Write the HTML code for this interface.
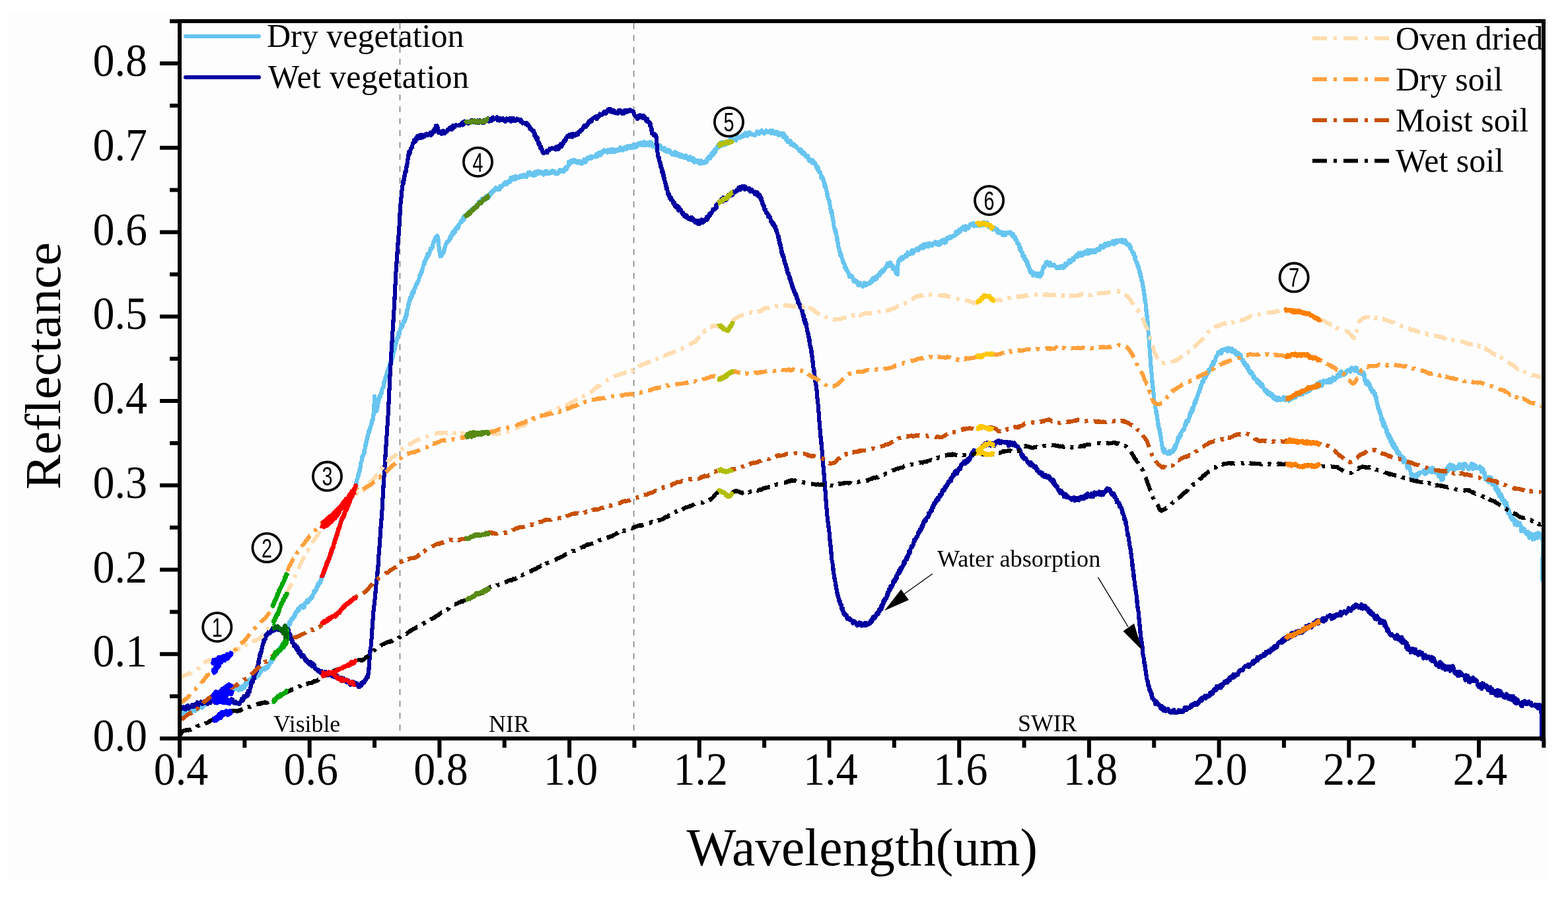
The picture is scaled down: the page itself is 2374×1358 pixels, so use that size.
<!DOCTYPE html>
<html><head><meta charset="utf-8"><title>Reflectance spectra</title>
<style>
html,body{margin:0;padding:0;background:#fff;}
body{width:2374px;height:1358px;overflow:hidden;}
svg{display:block;}
text{font-family:"Liberation Serif","Times New Roman",serif;fill:#000;}
.tick{font-size:70.5px;}
.title{font-size:79.4px;}
.leg{font-size:50px;}
.region{font-size:35.8px;}
.cn{font-family:"Liberation Sans","DejaVu Sans",sans-serif;font-size:40px;}
</style></head><body>
<svg width="2374" height="1358" viewBox="0 0 2374 1358">
<rect x="0" y="0" width="2374" height="1358" fill="#ffffff"/>
<rect x="12" y="21" width="2332" height="1311" fill="#fdfdfd"/>
<g stroke="#808080" stroke-width="1.6" stroke-dasharray="9 9">
<line x1="605.5" y1="35" x2="605.5" y2="1115"/><line x1="959.6" y1="35" x2="959.6" y2="1115"/>
</g>
<g shape-rendering="crispEdges">
<path fill="none" stroke="#68C5F0" stroke-width="6" stroke-linejoin="round" d="M273.0 1082.0l1-2.6 1 1.4 .9 3.3 1-5.1 1-.7 1-.1 1-.6 .9 1.8 1 1.4 1-.6 1-3.6 1 .1 .9 .7 1 .4 1-1.7 1 2.6 1-6.1 .9 3.9 1-.8 1-1.3 1-.8 1-2.2 1 5.1 .9-1.5 1-4.9 1 .4 1 3.8 .9-3.7 1 1.6 1-3.5 .9 .8 .9 1.4 .9 0 .9 .7 1-1.6 .9-.6 1-1.7 .9-1.9 .9 1.4 1-5.9 .9 4.1 .8-2.1 .9-.9 .8-2.1 .8-.4 .8 3.3 .7-3.3 .6 .9 .6-3.8 .9 .2 .7-.1 .6 1.9 .6-1.2 .7-3.6 .9-1 .7 1.4 .8-1.1 .8-2.8 .8 1.3 .9 .1 1-1 .9-1.2 1 1 1-.3 1.1 1.4 1-4.3 1 4.2 1-3.2 .9 3.6 1-1.8 1-3.1 1 0 1 1.4 1-2.2 1 2 1 .7 1.1-2.6 1 2.1 1-2.2 1-3.1 1.1 1.8 1 .1 .9-1.5 1-.9 1.1 1.2 1 1.4 1.1-3.4 1-1.3 1.1-.7 1 .2 1 3 1.1-.2 1-1.4 1 3.2 1-5.5 .9 4.9 1-1.1 .9-.3 .9 .9 .8-5 .9 1.8 .8-2.4 .9-.8 .8 3.5 .8-5.8 .8-1.5 .8 2.6 .9-1.3 .8-2.4 .8 2.4 .8-1.7 .8-4.1 .8 1.2 .8 1.9 .8-3 .8-.2 .8-2.3 .7 .8 .8-4 .8 1 .8 .5 .8 1.4 .7-3.6 .8-.6 .8 1.6 .8 1.7 .8-2.6 .8 1 .8-5.4 .8 2.6 .7 1.6 .8-6.5 .8 4 .8-4.8 .8 2.1 .8-2 .8-.8 .8-2.7 .7 1.4 .8-1.7 .8 1.6 .8-2.2 .8 2.4 .8-.3 .8-1.6 .9-3 .8 2.5 .8-.3 .9-.6 .8-4.3 .8-1.9 .7 1.5 .7-3.9 .6 1.1 .6 .2 .6-4.7 .4 4.2 .6-4.8 .4 2.4 .4-.8 .6-3.1 .4 2 .5-4.4 .5-1.3 .6 1.4 .7-3.3 .6-.3 .7 1.3 .8-3 .7 1.4 .7 1 .8-6.5 .8 2.7 .7 .8 .7-3.3 .7-3.8 .7 2.4 .7 1.3 .7-5.4 .7-1.6 .7 .4 .8 3.5 .7-3.5 .8 3 .7-2.9 .7 .1 .7-4.6 .7-.5 .6 .7 .5 1.9 .6-4.5 .4-2.5 .4 2.3 .3-3.7 .2 2.4 .1-4.5 .1 3.7 0-5.5 0-1.6 0 1.6-.1-.9-.1 1.1-.1-5.2-.1 1.4-.1-1.4 0-2-.1-2.5 0 .1 .1-2.2 0 1.1 .2-2.1 .2-1.7 .3 3.4 .3-4.1 .3 3.3 .4-4 .4 .3 .4-3.7 .4-.8 .5-1.7 .5 2.9 .5 .4 .5-1.4 .5-1.3 .6-4.7 .5 1.8 .6-1.8 .6-.1 .5-2.3 .6 .6 .6 .3 .6-1.1 .6-1.8 .6-3.7 .6 3.9 .7-4.8 .6 .8 .7-4.1 .7 2 .7-2.3 .7-1 .7-3 .7 .9 .7 2.5 .7-1.9 .7-2.6 .7-1.8 .7 .1 .7-.6 .6-.7 .7-.1 .7-.1 .8 3.7 .7-4.9 .8 4 .7-2.2 .8-4.5 .7 1 .8-.7 .7-2 .7-2.2 .8-.3 .7 3.3 .7-.9 .6-3.2 .7-1.2 .6 2.3 .7-2.7 .6 .5 .7-3.3 .6 2.3 .6-2.7 .6 1.7 .5-3.3 .6-.6 .6-1.7 .5-3.1 .6-1.4 .5 2.4 .6-3 .5 2.4 .6-3.7 .5 .3 .6 .4 .5-4.3 .5-1.5 .6-.2 .5 .6 .5-4.4 .5 3.7 .5-1.1 .5-1.8 .5-2.6 .4-1.3 .4-.4 .5 1 .4 .7 .3-.7 .4-1.4 .3-3.4 .3-1.6 .4 .1 .3 2.1 .4-6.1 .5-.3 .2 2.9 .3-3.5 .3-1.5 .3-.2 .2 4 .3-3.5 .3-3.7 .4 1.9 .3-2.1 .3-1.4 .4 4 .3-6 .4 1.2 .3-3.3 .4-.7 .3 2.3 .4-6 .4-.7 .4 .3 .3-3.3 .4 2.8 .4-1.8 .4-1.9 .4 3.2 .4-6 .4-.2 .4-2.3 .3 1.3 .4 1.3 .4-3.4 .4-3.2 .4 2.9 .4-1.1 .3-.2 .4-.4 .4-1 .3-3.2 .4-1.2 .3-1.6 .4-.2 .3-3.5 .3 2.3 .4 .1 .3-1.7 .3-1.9 .3-1.4 .3-.1 .4-.9 .3-.6 .3-2 .3-6 .3 .3 .4 2 .3-.6 .3-1.3 .3-1.9 .3-2.6 .3 1.9 .3-3.7 .3-1.6 .4 .9 .3 1 .3-2.8 .3-3.6 .3-1.2 .3 4.7 .3-3.9 .3-.9 .3 .4 .3-3.1 .3-1.2 .3-1.4 .3 1.1 .3 .1 .3-.2 .3-.9 .3-2.3 .3-1.7 .2 1.1 .3-3.8 .3 1.5 .3-1.2 .3-4.6 .4 2.6 .4-.7 .4-3.6 .4 .8 .4-2.7 .4 2.1 .4-4.8 .4 2.1 .3-1.2 .4-3.3 .4 3.7 .4-4 .4-1 .3 0 .4 .1 .4-4.4 .4 2.3 .4-2.7 .3-2.1 .4 .6 .4-1.6 .4 1.4 .3-2.8 .4-1.7 .4 1.7 .4-3.6 .3-1.1 .4-.3 .4-1.2 .4-1.7 .3-.5 .4 2.8 .4-5.8 .3 2.7 .4-.8 .4-1.4 .3-1.9 .4-2.9 .4 1.7 .3-1.4 .4 1.2 .3-5.7 .4-.8 .4 4 .4-2.4 .4-1.2 .4 .8 .4-5.6 .4 3.6 .3-2.1 .4 .3 .4-.8 .4 .1 .4-5.5 .3 .3 .4 2.2 .4-2.8 .4 1.3 .3-2.6 .4-4.7 .3 2.1 .2 .5 .2-4.3 .3 3.6 .2-6.2 .3 4.1 .2-6.2 .3-.7 .2 .7 .3-3.2 .2 1 .3-1.8 .2-.2 .2-1 .3 .1 .2-3.9 .3 .9 .2-2.8 .2-.1 .3 1.2 .2 1.5 .2-3.1 .3-2.7 .2 .8 .2-3.7 .3 1.5 .2 1.6 .2-5.2 .2-.7 .3 .1 .2-.6 .2-2.7 .2 2.2 .3-5.6 .2 2.4 .2-3.9 .3-1.6 .2-.4 .3 0 .2 .7 .3-5.8 .2 3.1 .3-3.1 .2-3.1 .3-.4 .2 2.7 .3-.5 .2-2 .3-1.5 .2 1.2 .3-2.2 .2 .1 .2 .7 .3-2 .2-3.3 .3-1.9 .2 3.2 .3-1.1 .2 .3 .3-3 .2-5 .2-2.1 .3 2.7 .2 .8 .3-3.2 .2-3.6 .3 .1 .2-2 .3 .4 .2-1.9 .3 3 .2-4.8 .3-.5 .2 1 .2-.7 .3-1.7 .2-4.3 .3-.8 .2 3.4 .3-.5 .2-6 .3-1.1 .2-1.2 .3 3.3 .2-2.4 .3-.3 .3-2.5 .3 2.5 .3-1.7 .3-1.5 .3-3.7 .3 2.1 .4-1.5 .3-1.7 .3-1.9 .3-2 .3-1.3 .3 2.5 .3-.7 .3-1.4 .3-4.9 .3 1.7 .3-.7 .2-2.5 .3 1.3 .2-2.9 .2-2.7 .2 1 .1-3.4 .1 3.6 .2-1.5 .1-2 .1-1.3 .1-3.2 .1-.3 0-.3 .1-4.6 .1 4 0-1.7 .1-.7 0-3 .1-1.4 0-2.5 0 .3 .1 .5 0-2.3 .1-.1 0-.7 .1-5.2 0 .5 .1 1.5 .1-.7 0 .1 .1-1 .1-5.3 .1 4.5 .1-1.7 .1 3.4 .2-3.5 .1 5.2 .1 .3 .1 4.4 .1 .2 .2 2.3 .1-2.2 .1 4.4 .2-2.9 .1 2.5 .2 2.4 .2 1 .2-3.2 .2 3.7 .2 2.1 .2-4.3 .2 1.5 .3-1.7 .2 1.7 .2 .2 .3-4.4 .3 2.2 .2-5.5 .3 3.2 .3-3.3 .3-5 .3-1.5 .3-.4 .3 3.1 .3-4.9 .2 0 .3-3.1 .3-.5 .3-1.8 .3 1.5 .3 .5 .3-1.9 .3-1.3 .3 2.2 .4-4.4 .3 1.3 .3-1.1 .3-3.1 .3-1.2 .4 3.6 .3-6.2 .3-.9 .3 .2 .4-1.7 .3 .6 .3-1.1 .3 .9 .4-.4 .3-3.7 .3-4.6 .3 .5 .3-1.4 .3 1.8 .3-2.4 .3-1.1 .3-2.8 .3-.3 .3-.5 .3-1.7 .2-.1 .3-2.7 .3-.9 .3 1.3 .3-1.9 .3 0 .3-3 .3 2.1 .3-.4 .3-1.5 .3-2.5 .3-.7 .3-2.4 .3 4.1 .4-1.5 .3-5.2 .3 3.2 .4-4.3 .3-3.1 .3 4.9 .4-5.7 .3-.8 .3-.9 .4 1.6 .3-.2 .3 .8 .3-1.3 .4-5.4 .3 .1 .3-1.9 .3 .4 .3 1.5 .2-3 .3 .2 .2-1.7 .3-3.9 .2 4.2 .3-5.4 .2 2.5 .3-5.4 .2 3 .2-3 .3-3.5 .2 3.2 .3-1.3 .2-.2 .2-5.2 .3 .7 .2-1 .3 .5 .2-2.4 .3 1.3 .2-5.9 .3 2 .2 1 .3-4.8 .3 .1 .3-3.4 .3 1.5 .3 1.7 .3-1.8 .3-3 .4 .6 .3-1.8 .3-2.1 .3-2.2 .3-1.4 .4 2.2 .3-.6 .3 .8 .4-2.4 .3 1.3 .4-5.9 .3-1.6 .4 1.6 .4-2.2 .4 .6 .4-4.8 .4 4.4 .4-3.7 .4-2.2 .5 2 .4 .1 .5-1.8 .4-3.3 .5-2 .4 2.4 .4-1.3 .5-3.5 .4 3.6 .4-5.5 .4 .9 .3 1.7 .4-5.7 .3 2.2 .3-3.2 .3 .1 .2-3.2 .3 3.8 .2-2.3 .2 .8 .2-7 .2 4.8 .2-6.3 .2 .7 .2 .6 .1-1.8 .2 1.1 .2-.2 .2-3.8 .3-4 .2 .3 .2 2.2 .3-1.1 .3-4.2 .3 1.8 .3-1.2 .4-3.4 .3 .2 .3-4.7 .4 3.4 .3-2.3 .4-1.7 .3 2.1 .4-.9 .4-5.1 .4 2.4 .4 .8 .4-5.5 .4-2.1 .4 .2 .3 3.7 .4-5 .4-.4 .3 1.9 .4 .9 .4-4.1 .4-2.7 .4 1.3 .4-1.4 .4-3.3 .4 2.9 .4-1.5 .5-2.5 .4-2.4 .4 1.7 .4-1.6 .4-1.1 .5-1.8 .4 2.4 .4-3.2 .4 .2 .4-1.6 .4-.2 .4-2.2 .4-3.6 .4 1.8 .3-3.5 .4-.7 .3 1.3 .4-3 .3 2.2 .3-3.3 .3 0 .4-2.3 .3 .4 .3 1.5 .3-3.8 .3 .5 .4-1.4 .3-1.9 .3 .6 .3-1.9 .3-3.1 .4 .2 .3-.4 .3-2.1 .3-2.5 .3 .8 .4 .6 .3 .7 .3-3.1 .4-.5 .3-.6 .3-1.8 .4-2.5 .3 2.1 .4 .3 .5-2 .4-2.1 .5-3.9 .5 3.6 .5-.1 .5-4.9 .5 1.6 .5 .4 .5-.4 .5-2.7 .5-3.8 .5 2.6 .5-4.4 .5-1.5 .4 .8 .5-.3 .5 .3 .4-2.2 .5-1.1 .4 1.5 .5-5.4 .4-.4 .5-3.1 .4 2.5 .5-2.7 .4-2 .4 .8 .4 .3 .4-4.8 .4 3.5 .4-4.1 .4-.4 .4 1.7 .4-1 .3-1.2 .4-.9 .2 3 .3-.5 .2-.2 .2-2.8 .2 3.3 .2 2.1 .2-2 .2 3.5 .2-1.5 .1 2.5 .2 1.5 .1 4 .2 2.2 .2-1.6 .1-.3 .2 4.4 .1 3.8 .2-.1 .2-.9 .1-.5 .2 3.4 .2 2.5 .2-1.5 .2 3.7 .2-1.7 .3 1.2 .2 3.6 .2-4 .3 3 .3-1.5 .3 .4 .4 1.5 .3-.2 .3-2.5 .4 .7 .4-4.1 .3 2.3 .4-.6 .4-.5 .4 .6 .4-1.1 .4-.2 .4-4.2 .5-2.3 .4 2 .4-2.3 .5-2.6 .4-1.5 .5-1.5 .4 .4 .5-1.4 .5-1.5 .4-1.5 .5-.1 .5 1.3 .5-1.5 .6 .2 .6-1 .6-.9 .6-3.2 .6-1.7 .6 2.8 .6-4 .6 1.8 .7-4.8 .6 1.1 .6-4.1 .7-.8 .6 4.1 .6-4.7 .7-.9 .6 3 .6-2.7 .6 .8 .6-4.6 .6 1.4 .6-.2 .6-.4 .5-3.8 .6-.4 .6 3.1 .6-5.1 .5 1.4 .6-.8 .6-2.4 .5-.4 .6-1.3 .6 .3 .5-2.9 .6-.9 .6 2.7 .5-1.8 .6-1 .5 .1 .6-4.8 .7 4.4 .7-1.2 .7-5.8 .7 1.2 .7-1.1 .7-.9 .7 1 .7-1.9 .8 2.3 .7-2.6 .7-2.8 .8 0 .7 .9 .7-.9 .7-3.1 .7-.5 .7-.6 .7 1.2 .8-.7 .7 .9 .7-3.3 .8 2.7 .8-2.1 .7-2.3 .8 2 .8-.3 .9-4.3 .8 1.2 .7-2.8 .7 1.6 .7-1.6 .8-4.1 .8 1.9 .7-1.3 .8-.1 .8-1.4 .9-1.8 .8-1.8 .8 2.7 .8-1.5 .8-.7 .8-1.1 .8 1.8 .8 .7 .8-3.7 .8-1 .7-1.7 .8-.1 .7 1.8 .7 1.1 .7 .8 .9-1.6 .8-2.9 .8-2.8 .8 2.2 .7-4.4 .8 .5 .7 1.1 .8-1.7 .7-2.5 .8 .4 .8 1.3 .8-3.3 .9-1.8 .8 2.7 .7-2.6 .8 2.8 .7-.6 .8-1.4 .8 2.2 .8-1.8 .8 1.4 .9-5.3 .8 .4 .8 1.9 .9-3.3 .9 .1 .9 .6 .9-1.3 1-2.7 .9-1.1 1 0 1-.3 .8 3.5 .8-4.2 .9 .6 .8-1 .9 .8 .9-1.8 .9 1.8 .9-6.7 .9 .5 .9 .3 1 2.5 .9-4.3 1 .2 1-.3 .9 3.8 1-5.3 1 4.1 1-2.6 1-.1 1 .6 1-.9 1 1.2 1-2.5 1 1.9 1 .1 1-3.3 1 3.2 1-1.3 1-2.4 .9 .6 1 .6 1 2.4 1-.3 1-2.8 1-3.8 1 3.4 1-4.1 1.1 2.2 1 2.3 1-2.6 1 .7 1 2.2 1 1.1 1.1-1.4 1-4.6 1 5 1-5.1 1-.2 1.1 2.6 1-3.8 1 4 1-.5 1.1-.7 1-1.6 1 2.8 1-.1 1 .3 1.1 1.5 1-3.5 1-.8 1-1.5 1.1-.1 1 4.5 1.1-1.4 1.1 1.2 1.1 .2 1.1-2.8 1.2-.1 1.1 1.4 1.1-3.2 1.1 .7 1.2 1.6 1.1-1.7 1.1 3.8 1.1-.8 1.1 .7 1 .4 1.1-.6 1-3.2 1 1.1 1-3.7 1 2.1 .9 .7 .9-.4 .9 .4 .8-2.3 .8 .8 .7 1.9 .7-3.8 .9 .7 .8-3.7 .7 0 .6 3.5 .6-.2 .5-3.8 .5 .1 .5-.4 .5-1 .5-1.5 .6-5.2 .6 5.3 .7-4.1 .9-1.3 .8-1.3 .8 3.2 .9-3.5 .9 1.1 .9 1.4 1-3.5 1 1.8 1-.9 1.1 .9 1 2.7 1.1 .4 1.1-2.6 1.1-.5 1.2 2.9 1.1-2.5 1.1 1.2 1.1 2.4 1.2-.6 1.1-2.8 1.1-2.9 .9 4.4 .9-2.6 .9 2.3 .9-1.2 .9-2.8 .9-3.1 1 1.8 .9-1.6 .9-.3 1 1.6 1-3.4 .9 .8 1 2.4 .9-1.5 1-1.4 1 .5 .9-.7 1 0 1 1 1-4.4 1 .7 .9 3 1-2.4 1-3.7 .9 1.9 1 1.9 1 .2 .9-2.7 1-2.7 1 1.8 .9-.6 1-3.5 1 2.2 1-.6 1-.8 1 1.2 1 1.7 1.1-.1 1-4.1 1 1.1 1 2.9 1-2.8 1.1-2 1 4.3 1-.2 1-3.5 1 2.6 1 1 1-.9 1-2.6 .9 .7 1 1.3 1-2.4 .9 2.2 .9-1.7 .9-1.8 .9-1.8 .9 3.9 .9-1.8 1.2 0 1.1 2.6 1.1-1.5 1-3 1.1-.6 1 1 1 2.2 1-4 1 2.4 1-3.5 1 .2 1 3.5 1-3.4 1.1-.1 1 0 1.1 3.2 .9-4.9 1 2.6 1 1.6 .9-.7 1 .4 1-4.7 1 3.6 1.1-1.2 1-3.6 1 1.9 1-2.1 1-.8 1-.5 1 4.3 1-2.2 1 .1 1-1.7 .9-1.6 1 5.5 .9-1 .9 .9 1-1.9 1.1 .7 1-3.2 .9 1.7 1 2.8 1-5.1 .9 .2 1 .2 .9 2.3 .9 4.2 1-1.3 1 .6 1-2.2 1 1.5 1 3.7 .9-3.5 .9-2 .9 .2 .9 1.2 .9 5 .9-.1 .9-5.1 1 1.3 .9 4.6 1-1.4 .9 0 1 1.2 .9 2.2 1-4.2 .9 2.1 1 2.9 .9 1 1-2.7 1 1.3 .9 .2 1-1.4 .9 3.3 1-2 1 3.8 1-.7 1 2.3 1-2 1 2.4 1-2.8 1-1.2 1.1 0 1 5.3 1-.5 1-1.4 1-1 1 1.3 1 3.2 .9-1.8 1-1.1 1-.1 .9 3.7 .9-1.8 .9 .3 1.1 0 1 3.2 1-2.4 1-1.6 1 3.5 1-1.4 1 3.4 .9 1 1-.1 .9-.8 1-3.6 .9 2.5 .9 2.7 1 .3 1-3.6 1 .4 1 6.1 .9-3.7 1 .9 1 2 .9-.4 1-1.9 1 2.7 1-2.3 1 4.7 1-3.1 1 2.3 .8-4.1 .8 4.8 .9-2.5 .8-.5 .9 .1 .9 1.1 .9 .9 .9-2.6 .9-.5 .9 1.8 .9-1 .9-5.4 .9 .3 .8-2.2 .9 2.3 .8-1.3 .8 1.9 .8-2.6 .7-4.8 .7 2.2 .7-3.6 .7 1.8 .7 1.9 .6-4.6 .5 .3 .6-3.6 .5 1 .5 2.9 .5-.8 .4-1.1 .5-4.6 .5 2.4 .5-1.5 .6-.6 .5-3.2 .6 1.1 .7 1 .9-5.2 .9 3.8 .9-1.5 1 .6 1-4.7 1-1.8 1 2.9 1 2.6 1-1.8 1-1.2 1-.6 .9 2.4 .9-4.7 .9 .2 .9 1.6 .9-.2 .9-2.2 1 2.5 .9-5.9 1 3.2 1-3.1 1-.4 1.1 .5 .8 .3 .8 .4 .9 .1 .9 0 .9 .2 .9 .9 .9-4.5 .9 .5 1-2.4 1 .2 .9 1.9 1 .5 1-.4 1-.8 1-.9 1.1-2.3 1 2.3 1-.8 1-2.3 1-2.6 1.1 2.7 1 2.5 1-.2 .9-2.1 1-3.2 .9-.5 1 .8 1 .5 .9 1.8 1 .7 1-.9 1 .8 1 .2 1 .7 1 .5 1-2.8 1-.9 1-2.5 1 3 1-2.9 1 3.7 1-2.7 1 0 1-2.1 .9-.7 1 3.6 1 .4 1-1.5 .9 2.6 1-2.5 1.1 .6 1-3.3 1.1 2.8 1-.7 1.1-.4 1.1 .8 1-1.2 1.1-1.1 1 4.3 1.1-2.7 1.1-1.5 1 .9 1 3.7 1.1 .5 1-1 1-1.5 1 .6 1-1.2 1 4.2 .9-2.9 1 3.9 .9-1.2 .9-1.8 .9-.4 .8 .2 .9 2.5 .8-1.4 .8 4.8 .8-5.5 .7 3.5 .8-.6 .7 1.2 .8 4.7 .7 1.2 .8-4.2 .7 3.2 .7 3 .7 1.3 .8 .1 .7-2.5 .7 1 .8-.1 .8-.4 .7 5.8 .8-3.5 .8 3.1 .8-1.2 .7 2 .8 1.3 .8-2.5 .8 1.7 .8 .5 .8-.2 .9 3.1 .8-.9 .8 2.2 .8 .1 .9 .4 .8 2.2 .8 1.7 .8-3.6 .8 .7 .8 0 .8 1.8 .8 4.3 .8-2.9 .8 3.8 .8-2.8 .7 2.9 .8-1.4 .7 3.6 .7 1.1 .8-1.2 .8 2 .7-.1 .8-1.5 .8 2.2 .7 4.1 .8-1.3 .7 3 .7-2.4 .7 .9 .7 2.3 .7-1.4 .7 2.9 .7-3.9 .7 .6 .6 4.3 .7-2.8 .6 1.2 .7 1.8 .6-.5 .6 2 .6 .3 .5 3.8 .6-2.1 .5 1 .6 4.7 .5-.9 .5-2.6 .5 2.9 .6 4.1 .5-.3 .5 0 .4 1.8 .5-1.5 .5 .7 .5 1.7 .4 3.5 .5 3.3 .4-3.6 .5 3.5 .4-2.1 .4 .1 .5 .9 .4 2.1 .4 2.6 .3-.1 .4-.5 .3 3.7 .3-1.4 .3 4.1 .3 .8 .3 2.9 .3-1.1 .3 2.3 .3-3.9 .3 3.3 .2-.7 .3 0 .3 2.3 .2 2.1 .3 2 .3-2 .2 2.6 .3 3 .2 1.3 .2-2.8 .3 4.9 .2-3 .3 4.7 .2 1.5 .3-.3 .2 .9 .3 1.5 .2 .7 .2-1.1 .3 2.5 .2 1.2 .3-1.2 .2-.1 .2 .2 .3 3.3 .2-.1 .2 1.6 .2 3.3 .2 .1 .2 1.4 .3 3.6 .2-.6 .2 1.7 .2 3.1 .2-.1 .2 .5 .2-2.5 .2 4.5 .2-4.3 .2 .6 .2 4.3 .3-2.4 .2 5.3 .2-3 .2 2.4 .2 2.6 .2-.5 .2 3.5 .2-.4 .2-.4 .2 3.4 .2-.4 .2 1.3 .2 5 .2-2.6 .2-1.3 .2 6.2 .2 1.2 .2 1.1 .3-.7 .2 2 .2 .8 .2 .3 .2 1.3 .2 1.5 .2-2.2 .3 2.6 .2-.9 .2-1.2 .2 4.7 .2 1.4 .2-2.6 .2 .6 .2 .9 .2 3.1 .2 0 .2 6.2 .2-4.2 .3 4.1 .2 .9 .2-2.8 .2 6.2 .2-.4 .2-1.1 .2-.8 .2 5.9 .2-3.2 .3 5.1 .2-3.2 .2 6.4 .2-1.7 .3 3 .2-1 .3 .3 .2 4.2 .2 1.4 .3-2.3 .2 1.7 .3-.1 .3 3.7 .2 2 .3-3.7 .3 1.1 .3 .9 .3 1.1 .4 .9 .3 2.4 .3-.4 .4 3.6 .3-1.9 .3 .5 .4 5.3 .3 0 .3-.1 .4 .6 .4 1.8 .3-.2 .4 .1 .3 1.6 .4-.8 .4 6.1 .4-.6 .4-1.9 .4 1.2 .4 2.1 .4-.9 .4 3.7 .4-1.3 .5 1.9 .4 1.2 .5 .7 .4 .9 .5-.3 .5 2.4 .6-.7 .6 5.6 .6-1.2 .7 .8 .6-.1 .7-.7 .6-.7 .7 .1 .7 1.7 .7 2.9 .7 .4 .7 3.6 .7-2.4 .7 2.7 .8-1.7 .7-.2 .8 3.1 .8-2.2 .8 3.3 .8 2 .8-2.6 .9 4.2 1-1.7 1-2.3 1.1 2.8 1 .2 1.1 .5 1.1 2.3 1.1-2.6 1.1-3.3 1.1 1.8 1.1 2.2 1.1-3.7 1 .7 1 .2 1 .3 1-.3 .9 0 1-3.9 .9 .4 .9 1.6 .9-4.9 .9-1.4 .9 2.9 .8-3 .8 3.1 .8-1.9 .8-3.4 .8 1.6 .8 1.8 .7-2.4 .8-2.6 .8-1.4 .7 .3 .7-1.5 .7 2.7 .7-1.8 .6-3.8 .7-.8 .7 .2 .6 1.7 .7-1.9 .6-2.6 .7 3.6 .7-3 .7 1 .7-2.9 .8-1 .7 .2 .7-2.2 .8-1.9 .7 1.9 .7-5.2 .8 4.3 .7-4.4 .8 .9 .7 2.3 .6-4.5 .6 .4 .6-.5 .7 3.6 .6 2.7 .7-.1 .6-2.5 .7 5.9 .7-3.8 .6 2.6 .7-.2 .6 3.2 .6 .6 .6-2.1 .6 4.1 .5 1.9 .5 .8 .5-.4 .4-1.7 .4 1.1 .3 2.5 .3 .2 .2-.8 .1-.6 .1-.4 .1-4.9 0 .7 0 1.5 0-5 0-1 0 2.5 0-.1 0-1.6 0-6.2 0 3.5 .1-1.7 .2-3.3 .1-.9 .3-.7 .3-1.8 .3-.6 .5-1.4 .6 1 .6 .1 .6-2.1 .8 2.3 .8-4.7 .8 3.2 .8-4.1 .9 3.5 1-3.1 .9-.9 1 .6 1-2.9 1 2.1 1 .1 1-6 1 3.2 1-2.5 1 2.3 1-2.7 .9 1.9 .9-3.7 .8-1.8 .9 1.2 .8 3.8 .9-1.8 .9-.4 .9-2.8 .8-.4 .9 .2 .9-2 .9 .9 .9-1.1 .9 2.9 .9-1.1 .9-3.3 .9-1.4 .9 1.4 .9 .4 .9-1.4 1-2.8 .9 5.1 1-1.1 .9-5.6 .9 4.5 1-1.1 .9-3.2 1-.5 1 3.1 1 1.2 1-1.7 1-3.6 1 2.2 1-.3 1-.7 1 2.8 1-2.5 1-1.7 1-.2 1.1 .8 1-2.9 .9 1.7 1 2.8 1-.5 1-2.8 .9 4.6 1-5.4 .9 .9 1 2.8 .9-3.8 .9-2.3 1 3.1 .9-1.5 .9-2.1 .9 2.5 .9 2 .9-5 .9 4.3 .9-5.3 .9-1.8 .9 1.2 .9-.4 .9-1.7 .8 1.9 .9 0 .9-3 .8 2.5 .9-2.9 .9-.2 .8 .6 .9-.5 .9-1 .9 .7 .9-.4 .9-5.9 .9 .9 .9 2.8 .9-4.2 .9-.5 .9-2.3 .9 4.3 .9-2.7 .9 1.1 .8-4.5 .9 1.6 .9-2.6 .8 1.3 .9-3 .9 3 .8 1.2 .9 1.3 1-6.2 1 4.3 1.1-2.7 1 .1 1 1.4 1.1-2.4 1-2.8 1-1.5 1 .3 1-.4 1 1.2 .9-1.9 .9 4.7 .9-4.4 .8 2.7 1.3-.8 1.2-1 1.1 2.9 1.1-1.1 1.1-2.1 1.1-.6 1 3.8 .9-3.5 1 3 1-.4 1-1.1 1 1.3 1.1-4.9 .8 1 .9 1.3 .9 2 .9-2.6 1-1 .9 3.3 1-1.7 1 5.7 1-.9 1 .4 1 .5 1 .1 .9-.1 .9 3.2 .9-2.8 1-.5 .9 .2 .9 2.9 .9 .7 .9-1.6 .8 .1 .9 5.6 .9-2.3 1 .1 1 3.3 1.1-.4 .8-2.1 .9 1.3 .9 1.2 1 3.1 1-.7 1.1-4.1 1 3.4 1.1 1.3 1.1-2.9 1.1-1.1 1.1 0 1.1 1.1 1-1.3 1.1-.6 1-.2 1 2 1 .3 .9 4 .9-.9 .8-2.2 .7 4.4 .7-1.6 .7 4.3 .6-3.6 .6 4.7 .5-1.2 .5 1.5 .4 1.4 .4-1.7 .4 5 .4-1.8 .4 2.2 .4 1.4 .4 .4 .3-2 .4 1.7 .4-.3 .5 4.1 .4 1.8 .5-1.5 .4 5.1 .5-.2 .4-3.4 .5 1.6 .4 3.5 .5 .6 .5 2.2 .4-1.2 .5 .2 .5 6.2 .5-1.2 .4-.1 .5-1 .5 2.1 .5 4.3 .4-4.6 .5 3.8 .5 1.7 .4-2 .5 4.3 .4-1.8 .4 .1 .4 1.3 .4 4.3 .4-2.8 .4-.4 .5 4.5 .4 3.2 .4 .5 .4-2.9 .3 1.6 .3 1.4 .4-.3 .3 5.3 .4-1.7 .4-.4 .4 4.7 .5-1.2 .6 2.2 .6-3.1 .8 3.3 .8-1.9 1 5.8 1-1.2 1-2.7 1.1 1 1-.3 1.1 3.8 1.1 .1 1-3.8 1 1.1 .9-.3 .6 2.2 .6 1.5 .6-2.8 .6-2.4 .5 3.5 .5-1.7 .6-.4 .5-1.9 .5-3.9 .4-2.6 .5-1.1 .5 1.4 .5-3.4 .6 1.9 .5-2.1 .6-1.8 .6 1.5 .6-3.7 .6-2.2 .7 1.6 .7 .9 .8-3.3 .9 1.2 .8 2.1 .9 2.4 1-2.9 .9-1.4 1 4.2 .9-1.2 1 1.7 1-.5 1.1-1.2 1 1 1.1 1.3 1 1.1 1.1 1.7 1 .6 1.1-2.4 1.1 1 .8 .1 .8 .7 .8-1.6 .8-1 .8 1.1 .8 .3 .9-1.9 .8 3.2 .8 0 .9-.3 .9-4.2 .8-2.6 .9 3.6 .9-2.6 .8 1.7 .9-2.2 .9-.4 .9-2.7 .9-2.4 .9 .6 .9 3.2 .9-1.9 .9-2.6 .9-.9 .9-1.3 .9 3.4 .8-.4 .9-3.3 .9-2.2 .9-.6 .9-1.4 .9 .7 .8 1.8 .9-3.1 1-2.6 1 1.6 1 2.2 1-4.4 1 .4 1 4.3 1.1-4.6 1 2.6 1-.5 1.1-3.8 1 3.2 1-1.4 1.1 .9 1-5.1 1 2 1 3.3 1-3 1-2.2 1 .7 .9 3.3 1-1.2 .9-2.3 .9-.1 .9 3.5 .9-.1 .9 .1 .8-1.5 1.1-3.5 1 .7 .9-.9 1 .9 .9 .7 .9-1.8 .8 .7 .9-5.8 .9 1.8 .8-1.8 .9 2 .9-.3 .9 1.5 .9-2 1-4 1 3.6 .9-3.5 .9-.2 1-.2 1 2.6 1-4 1.1 3.4 1-1.5 1.1-1.5 1-.7 1.1 1 1.1-3.1 1 1.3 1.1 3.4 1-2.6 1-2.9 1-.6 .9 4.2 .9-4.1 .9 .1 .8 2.5 .8-1.8 1.3-1.1 1.2 .1 1.2 2.7 1-3.7 1.1 4.8 1-2.9 1.1 2.2 .8-2.3 .8-.8 .8 4 .7 2.2 .8-2.8 .8 2.5 .7 .6 .8-.8 .7 2.8 .7-1.7 .7 .1 .7 5.7 .5-1.8 .5-.7 .4 3.8 .5 1.2 .4-.1 .5 2.2 .4 .7 .5 0 .4 .5 .4 .8 .4 2.3 .5-.1 .4-1.6 .4 .8 .4 3.4 .4 3.4 .4-1.3 .4-1.2 .3 .5 .4 5.3 .4 .8 .4 1.6 .3 .8 .3-1.1 .3 1.9 .3-1.1 .3 2.4 .3 2.7 .2-3.3 .3 1.3 .3 3.4 .3-1.8 .3 2.6 .2-1.2 .3-.1 .3 4.7 .2-.2 .3 .4 .3 4 .2-3 .3 4 .2-1.8 .3 3.4 .2-1.1 .3 4.5 .2-3.2 .2 3.9 .3 .6 .2-1 .3 2.6 .2-.5 .2 2.6 .2 2.1 .2 .9 .3-.6 .2-.8 .2 1.2 .2 .4 .2 4.8 .2-1.4 .2 3.7 .2-2.4 .2 .8 .2 3 .1 2 .2-1.4 .2-.1 .2 4.1 .1 1.6 .2-.1 .2 3.3 .1-2.9 .2 .2 .1-.9 .2 5.8 .1 2.8 .2-3.9 .1 5.3 .2-1.9 .1-1.3 .2 5.5 .1 2.5 .1-1.2 .2 1.1 .1-2.1 .1 .8 .2 2.5 .1-.3 .1 2.7 .2 1.3 .1 1.7 .1 2.2 .1-2 .2 2.8 .1 4.7 .1 .3 .1 1.4 .1-2.9 .2 6 .1-4.4 .1 3.6 .1 .3 .1-2.3 .1 6.4 .1-1.3 .1-1.8 .1 2.1 .1 4.2 .1-3.1 .1 1 .1 .5 .1 6.8 .1-1.2 .1 2 0-.4 .1-2.3 .1 4.9 .1-3.7 .1 6.7 .1-4.1 .1 4.7 0-2.1 .1 3.8 .1-1.5 .1 2.5 .1 3.8 .1-.9 .1-1.2 0 2.5 .1 2.2 .1 .3 .1 1.6 .1-.3 .1 3.6 .1-2.9 0 .9 .1 4.1 .1-3.1 .1 3 0 .9 .1 2 .1 .6 .1 .2 .1 2.8 0 1.4 .1-1.5 .1 2.5 .1 .7 0 3.9 .1-1.4 .1 2.1 .1-1.7 0 1.6 .1 3 .1 1.4 .1 .9 0 1.2 .1 1.3 .1 2.6 .1-.9 0 3.5 .1 .3 .1 .4 .1-3.6 0 2.3 .1 3.3 .1 2 .1-.7 0 3.1 .1-.4 .1-2.4 .1 6.7 .1 1 0 1.3 .1-1.3 .1 3.1 .1-.8 .1 1 .1 1.5 0 1.7 .1 1 .1 .9 .1 .9 .1-3 .1 2.5 .1-.7 0 3.4 .1 2.8 .1-1.9 .1-1 .1 5.4 .1-.4 .1 .4 0 .4 .1 4.3 .1-1.2 .1 3.3 .1-.5 .1-1.8 0 4.7 .1 3.2 .1-3.8 .1 5.2 .1-2.4 .1 1 .1 .6 .1 1.6 0 3.1 .1 0 .1-.4 .1 2.3 .1 1.3 .1 .9 .1-2.2 .1 2.5 .1-1.6 .1 1.6 .1 3.2 .1 .8 .1 2.7 .1-1.2 .2 1.2 .1-.5 .1 1.1 .1 3 .1 3.7 .1 .7 .2-4.1 .1 4.7 .1 .1 .2 1.4 .1 3 .1 .4 .2 1.8 .1-2.6 .2 1.7 .1 .4 .2-.9 .1 1 .2 2.8 .2 1.7 .1-1.2 .2 4.6 .1 .9 .2 .5 .2 2.2 .2-1 .1 .6 .2 4.2 .2 1.2 .2 .6 .1-3.9 .2 5.3 .2 .1 .2-.7 .2 1.4 .2-.8 .1 1 .2 2 .2-.1 .2 6.3 .2-1.7 .2 4.3 .2-.2 .2-2.7 .1 5.9 .2 1.2 .2-.2 .2-2.3 .2 4.2 .2 2.5 .2-.5 .2 1.8 .2-1.5 .2 2.9 .2-.9 .1 0 .2 3.4 .2 1.6 .2-3.4 .2 5 .2 1.6 .3-1.9 .1 4.1 .2-4.1 .2 5.4 .2-3.2 .2 3.3 .1 3.5 .2-.8 .2 1 .2 .5 .1 .4 .2 4.6 .2 1 .2 1.1 .2 1.9 .2 .9 .2 .8 .3-.5 .2 0 .3 4.9 .3-2.7 .3 5.3 .3-2.2 .4-.3 .3-1.2 .4 4.6 .5 1.1 .4-5.2 .9 4.9 .9-.3 1 1.3 1.1 .8 1.1 .5 1.1-2.3 1.1-2.1 1.1 4.3 1-2.8 1 .5 .6-.9 .5-1.2 .5-1.1 .6 2.7 .5-1.4 .5-1.9 .4-3.1 .5 4.3 .5-4.4 .4 3 .5-6.2 .4-1 .5 4 .4-1.6 .5-2.4 .4-.7 .4-3.7 .5 .7 .4 .3 .5-2 .4-5.3 .5 1.3 .4 1.3 .5-2.9 .5-2.4 .4-.7 .5 3.4 .4-2.3 .5-4.3 .5 1.5 .4 1.9 .5-5.7 .5 .8 .4-1.8 .5 .1 .5-1.7 .4-.7 .5-.3 .5 .4 .5 .3 .4-.7 .5-2.5 .5-3.9 .5-1.9 .4 2.6 .5-.3 .5-1.6 .4-4.4 .5-1.7 .4 1.3 .5 .7 .4 .1 .5-.3 .4-.6 .5-2 .4-1.3 .4 .1 .4-2.2 .4-4.7 .4 .3 .4 2.6 .5-6.1 .3 2.6 .4-1.9 .4 1 .4-5 .4 3.5 .4-.6 .4-.3 .3-6 .4 1.5 .4 1.9 .3-2.6 .4-1.6 .4 .1 .4-2.3 .3-4.1 .4 3.1 .4-3.3 .3-.9 .4-3 .4 2 .3 1.6 .4-1.9 .4-2.7 .3-1.2 .4-1.9 .4 2.2 .4-1.6 .4-2.3 .3-1.9 .4 0 .4-1.6 .4 .5 .3-3.1 .4-.2 .4-2.5 .3-1 .4 1.3 .4 .1 .3-5.1 .4 1.7 .4 .1 .4-5.1 .3 3.2 .4-3.7 .4-1.9 .4 1.3 .3-4.1 .4 .2 .4-.4 .4-.2 .4-2.4 .4 2.5 .4 0 .4-5.4 .4 .3 .4 1 .4-.3 .5-3.8 .5 2.3 .4-2.8 .5 1.6 .5-2 .5 .4 .5-5.3 .5-1 .5 2.3 .5-1.1 .5 .8 .5-.9 .5-4.9 .5 2.6 .6-3.1 .5 1.4 .5-2.6 .5 .9 .6-1.1 .5-3.8 .6 4 .5-1.7 .6-1.3 .5-2.4 .6-5 .5 3.8 .6 .1 .5-3.7 .5-.8 .6-.9 .5 .2 .6-3.2 .6-3 .5-.3 .6-.4 .6-1.4 .5 .5 .6-3.4 .6-1.9 .6 2 .6-2 .7 1.9 .6-2.7 .6 2.5 .7-.3 .6-4.4 .7 4.6 .7-2.6 .9-2.8 .9 .4 1 .6 1-1.5 1-.5 1 .8 1.1 1.6 1 1.1 1-5.4 1.1 .7 1 .9 1 2.7 1-2.6 .9-.5 .9-.2 .9 5.9 .9-4.2 .9 4 .9-2.2 .8 2.2 .9-2.5 .8 5.9 .8 .7 .8 .3 .8-1.7 .8-2.1 .8 6.3 .8-4.6 .8 .8 .6 .1 .5 .6 .6 .5 .6 4.7 .5 1 .6 .9 .5 .2 .6 2.6 .5-2.5 .5 1.8 .6 3.2 .5 1.2 .5-1.5 .6 3.7 .5-4 .5 2.8 .6 1 .5 1 .6-1.2 .5 4.6 .5-4.3 .6 1.3 .5 2.4 .6-.7 .6 5.7 .5-1.4 .6 1.5 .6 2.6 .6-2.8 .6 4.3 .7-1.7 .6-.5 .6 3 .6-1.4 .6 .2 .7 5.4 .6 1.3 .6 .8 .7-3.3 .6 4.4 .6-1.3 .7 1.4 .6-.4 .7 .2 .6 2.8 .7 3 .7-4.1 .6 4.6 .7-2.9 .7 2.6 .7-.4 .6-1.4 .7 5.4 .7 1.3 .7-2.7 .7 3.4 .7-3.4 .7 .9 .7 3.1 .7 1.6 .7 2.2 .7 .3 .7 1.9 .7-1.8 .8 .1 .7 .8 .7 4.8 .7-3.9 .8 2.4 .7 2.8 .7-3.2 .7 1.5 .8 .5 .7 1.5 .7 1.4 .9-3.3 1 1.1 .9 1.7 1 5 .9-1.6 1-1.7 .9 4.6 1-2.6 1 2 .9 2.4 .9-1.9 .9-2.7 .9 0 .9 1.3 .8 1.5 .8 1.5 1.1-.8 1-1.1 1 .7 .9-1.8 1-2.1 1.1 4 1.3-2.1 .7 3 .7-2.2 .8-1.6 .8 1.4 .9 1.4 .8-.7 .9 2.6 1-4.5 .9-.8 1 3 1-1.2 1-1.5 1 1 1-.9 1.1-4.2 1 2.6 1.1 1.6 1-4 1.1-1.3 1.1 1.7 1-2.8 1.1-.6 1 1.5 1 1.5 1-1.4 1-4.3 1 4.9 .9-1.6 1-4.5 .9 .6 1 1.1 1 1 .9 .6 1-1.1 1-2.3 1-1.6 1 3.3 .9-1.3 1-.3 1-2.4 1 .3 1-4 .9 2.6 1-2.8 .9 1.1 1-1.8 .9-.7 .9 2.1 .9 1.4 .9-4.5 .9-2.2 .9 5.6 .8-.8 .8 0 .8-1.4 .8-5.5 1.1 .1 1 5.8 1-1 .9-3.8 1-2.9 .9 1.2 .8 1.3 .9-1.2 .9 1.3 .9-2.6 .9 2.3 .9 .7 1-2.8 1 2.8 .8-5.7 .8 1.3 .8 4 .9-.8 .8-4.1 .9 3.1 .8-5.9 .9 1.5 .8 2.4 .9-3.3 .9 3.3 .9-2.3 .9-.5 .9-2 .9-2.7 .9 3.5 1-3.5 .9 1.3 1-5.2 .9 5.9 1-7.2 1 1.7 1 .7 .9 .3 1 2.7 1-3.4 1 1.3 1 .3 1.1-3.7 1.1-1.1 1.1-1 1.1 1.3 1.1-.3 1.2 1.8 1.1-5.6 1.1-.8 1.1 1.2 1.1 2.6 1.1-2.7 1.1 4.1 1.1-5.3 1 1.2 1-.9 1 5.8 1 .2 .9-.4 .8 2.6 .9-1.2 .7-.5 .7 2.5 .7-4.6 .8 4.7 .7 .1 .6-.7 .5-.1 .5 .8 .4 1.6 .4-2.4 .4-.7 .3 5.4 .4-2.9 .3 4.2 .3 4.7 .4-1.2 .4 1.9 .5 4.3 .5-4.2 .5 4.5 .5-1.4 .5 2.5 .6-3.4 .5-1.5 .6 5.1 .6-2.7 .6 4 .6-2.6 .6 4.7 .6-2.6 .6 6.3 .6-.3 .6 .5 .6-.9 .6 4.8 .6-1 .5-.8 .5 2.6 .5-2.7 .5 2.6 .4 .1 .4 2.3 .3 1.6 .4-3.2 .3 2.2 .4-1.2 .3 4.7 .3 2.2 .3-3.8 .3 2.3 .3-.4 .3 4.3 .3 2.9 .3-.8 .3 2.2 .3 .9 .2 2.9 .3 .8 .3-2.3 .2 4.8 .3 2.2 .2-3.7 .3 3.3 .2-.2 .3 1.1 .3 .8 .2-1.2 .3 3.7 .2-2.1 .3 .8 .3 1.5 .4 4 .3-3.1 .3 3.4 .3 .8 .3 1.7 .3 .1 .3 5.5 .3-1.2 .3-1.7 .3 3.6 .3 1.7 .3-4.7 .3 5.8 .4-4 .4 2.2 .4 7.3 .3-3.1 .4 3.4 .3-5.5 .3 6.5 .4-4.8 .4 1.4 .3 4.5 .4-.5 .4-1.6 .4 4.1 .4-2.7 .4 7.4 .5 .8 .4-1.2 .4-3 .4 6.5 .5 2.4 .4 .9 .4-3.3 .5 4.6 .4-3.6 .4 5.2 .5-.2 .4-1 .5-1.2 .4 2.5 .4 5.4 .5 1 .4-6.2 .5 2.6 .5 4.4 .5 2.8 .5 1.4 .5-5.5 .5 1.8 .5 4.6 .5 2.7 .5-4.4 .5-.3 .5 5.5 .5-1.8 .5 .3 .5 3.9 .5-4.1 .6 2.7 .5 4.6 .5-.6 .5-2.3 .6 5.5 .5-.9 .6 .1 .5-1.4 .6 4.5 .7-2.4 .6 1.8 .6 5.4 .7-.3 .6-3 .7 .4 .7 .7 .6 2.3 .7 5.8 .7-7.6 .6 7.2 .7-3.5 .6-.5 .7 2.2 .6 .9 .7 2.1 .6-1.3 .6 7.1 .5 2.1 .5-6.7 .5 4.8 .6-1.5 .5 3.3 .5 .2 .5-2.6 .5 3.9 .5 1.4 .5-.2 .5 6.1 .5 .4 .5 2.4 .5 1.1 .6-3.3 .5 2.6 .6 3.1 .6-4.6 .6 3.3 .6-1.4 .6-1.3 .9 2.1 .9-2.9 .9 5.5 1-6.3 .9 2.2 1-4 1 2.8 1-2.1 1-1.5 1.1 .3 1-.7 1.1-.5 .9 .7 .9-.7 1-2.7 1 6 1-4 1-.5 1 3.5 1-7.9 1.1 3.5 1-3.4 1.1 4.8 1-2.7 1 1.5 1-.5 1 3.4 .9-7.4 .9 6.3 .9-1.8 .9 1.5 .9-2.6 .8 4.4 .8 0 .9-1.1 .8 .4 .7-1.5 .8 2.1 .8 5.3 .7-3.5 .8 1.9 .7 1 .8 2.8 .7 3.5 .7-2.7 .7-4.7 .7 1.1 .7 5.4 .7-5.2 .6-3.1 .6-.3 .5 1.6 .6-3.9 .6-1 .5-.5 .6 3.7 .6-7.9 .6 .1 .7 .2 .7 4.1 .7-7.7 .8-1.2 .9-.7 .8-.7 .8 6.7 .9-3.5 .9-2.5 .9 5.6 1-5.2 1 1.4 1 5.7 1.1-1.7 1.1-2.9 1 2.5 1.1-2.7 1.1-.8 1.1 3.1 1.2-6.7 1.1 5 1.1 .7 1.1-4 1-.7 1.1 7.2 1.1-3.7 1-5 1 4.2 1.1-3.6 1.1 3.7 1.1 0 1.1 2.3 1.1 2 1.1-2.6 1.1 .2 1.1-1.9 1.1-4.6 1.1 1.1 1 7.7 1.1-7.9 1 6.6 1.1-4.6 1 .8 .9 2 1 .4 .9 1.6 .9-1 .8 0 .8-.4 .8-1.6 .8 0 .7 1.4 .7 5 .6 1.6 .6-2.8 .6-1.6 .6-.5 .6 1 .5 5.2 .6-.3 .6 2.2 .6-2.5 .6 8.4 .6 2.6 .7-4.4 .7 5.1 .7-.4 .7-.8 .7-.4 .8-2.6 .7 7.8 .8-8.3 .7 .4 .8 1.9 .8-.9 .8-.3 .7 8.5 .8 2.2 .8-6.7 .7 3.6 .8-2.8 .7 .7 .8 6.8 .7 2.1 .6 3.9 .7-.7 .6-4.2 .6 6.4 .5-1.5 .6 4.4 .6 .5 .5-4.6 .5 6.3 .5-3.5 .5 6.9 .6-1.8 .5-1.5 .4 3.5 .5 1.4 .5-5.1 .5 5 .5-2.9 .5 7 .5-4.4 .4 4.4 .5-2 .5 3.5 .5 .2 .5 .3 .5 4.1 .4-5.3 .5 1.4 .4 .1 .4 5.8 .4 .1 .5 2.1 .4-4.4 .4 5.7 .4-6.9 .4 9.7 .4-5.2 .4 6.6 .5-.6 .4 5.1 .4-6.8 .5 5.8 .4-4.8 .5 7.1 .4-2.4 .5 1.4 .5 5.7 .5-.3 .5-1.4 .5 .8 .6 2.3 .6 2.8 .5-.1 .6-5 .6 3.9 .6 1 .6 0 .7-.8 .6 7.6 .7-4.4 .6-1 .7 .4 .7 5.2 .6 1.1 .7-1.7 .7-2.3 .7-.3 .7 .7 .7 .5 .7-.3 .7 2.2 .7 2.3 .6 7.4 .7-6 .7 1.6 .7 1.6 .6-.9 .7 3.9 .8-3.8 .8 .6 .9 3.9 .8 1.9 .8-2.3 .8 4.2 .9 .5 .8-3.2 .8-.4 .8 2 .9 7 .8-4.1 .8 .9 .8-1 .9-2.3 .8 3.8 .8 4.9 .8-5.9 1 4.6 1.1 1.1 1-8.1 1.1 1.3 1.1 4.1 1 .8 1.1-8.2 1 5.1 .9-4.1 .9 5 .9-1.9 .7-1.5 .3 3.4 .3-1.9 .2 3.6 .2 1.5 .3-3.6 .2-3.5 .2 7.3 .1-5.2 .2-.6 .2 1.6 .1-2.9 .1 1.5 .2 7.8 .1-3.4 .1 .8 .1 4 0-1 .1 2.8 0 4.5 .1 3.5 0-.3 .1-.4 0-5 0 4.8 0 3.3 0-5.4 0 4.1 0 3.4 0-2.1-.1 5.4 0-.2 0-4.8-.1 2.2 0 2.4-.1 3.7 0-3.9-.1 4.1 0 .5-.1-.4-.1 .6 0 6.6-.1-4.2-.1 7.1 0-3.5-.1 3.3-.1 2 0-.4-.1 5.2-.1 1.4 0 2.5-.1-4.3 0 5.4-.1-1 0-2.9-.1 5.3 0-2.6-.1 3.6 0 2.5-.1 1.9 0 .3 0 4.7 0-7.6 0 9.6 0 1.8 0-5.8 0 3.3 0 1.6"/>
<path fill="none" stroke="#0000A0" stroke-width="6" stroke-linejoin="round" d="M273.0 1072.0l1-2.4 1 3.1 .9-.9 1 .9 1-2.3 .9 2.4 1-1.5 1 2.9 .9-2 1-3.2 1-.4 1-.4 1 4.6 1-2.9 1-.3 .9 .6 1 0 1-3.2 .9 2.6 1-2.2 1 2.8 1-1.5 1-2.7 1 3.1 1-1.2 1-4.8 1 3.9 1 .6 1-2.9 .9-.2 1-.2 1-1.9 .9 1.4 1.1 2.2 1-3.5 1.1 .1 1.1 .6 1.1 1.4 1.1-.3 1-2 1.1 .6 1 3 1-6 .9 2.4 1-2.7 .9 4.6 .8-3.5 1.2 1.7 1.1-.6 1-3.4 1 1.4 1.1 3.9 1.1-2.2 .9 2.2 1-2.7 1-2.3 1 4.8 1-5.1 1 4.5 1-1.9 1.1-3.6 1 .1 1 1.6 1-.1 1 1.8 1-1.9 1.1-.8 1 .7 1 3.1 1-1.3 1 3.8 .9-3.8 1.1 3.3 1-.8 1-3.1 1 2.8 1-4.4 .9 .4 1-.2 1.1 3.3 1 2.6 1-1.4 1.1 1.6 1-2.3 1.2 3.1 .8-.1 .9-.5 .9-1.2 1 2.3 1-.7 .9-2.9 1-.8 1-4 1 3.4 .9-.4 .9-1.3 .8-5.7 .7 1.5 .8 .2 .7-.8 .6-.4 .6 .3 .6 .2 .5-5.1 .5-.4 .5 4 .5-.4 .5-6.7 .4 4.6 .5-2.2 .4-2.7 .3-.3 .4 1.7 .4-2.6 .3-1.9 .4-2.7 .3 .3 .3-1.9 .4-4.2 .3 4.4 .4-6.9 .4-.3 .3 2.4 .4-1.4 .4-3.2 .3 4 .4-1.3 .3-2.8 .4-3.6 .4-1.4 .3 2.4 .4 1.1 .3-.8 .4-4.3 .4-1.5 .3-2.5 .4 1.3 .4-2 .4 1.2 .4-5 .4 3 .4-5.7 .3 .5 .4 2.8 .3-5.8 .3 .2 .3 2.2 .3-.8 .2-5.1 .2 3.2 .2-6.2 .2 4.4 .1-3.2 .2-3.7 .1 4.2 .2-5.2 .2 1.4 .2-2.6 .2 .7 .2-2 .3-1.2 .2-1.4 .2-3.2 .3 .8 .3-2.3 .2 3.6 .3-5.4 .3-.4 .2 1.2 .3 1.3 .3-3.9 .2 1.5 .3-1.2 .3-.4 .2-6.2 .2 3.5 .3-3.6 .2-.4 .3-1.2 .2-.8 .3-.7 .2-1.6 .3 .4 .3-2.7 .3 .1 .4-5.4 .4 4.6 .3-2.7 .4-1.3 .4-3.4 .5 4 .4-.6 .5-4.7 .4 .4 .5-2.9 .5 2.9 .5-1.9 .5-.7 .6-1.7 .5 .6 .7 .1 .7-4.7 .8 4.3 .7 0 .8-5 .8 .6 .9 1.3 .8-1.9 .8-3.4 1 .2 1 4.1 1-1 1-3.1 1 1.7 1 .6 1-4.5 .9 .8 .9 4.9 1 .1 .9-3.2 .9 .6 .8 .5 .9 .4 .7 3.5 1 .6 1 1.4 .8-.2 .7 2.2 .3-1.4 .2-1.2 .2-3.3 .1 .9 0-.9 0-.9 .1-2.7 0 .5 .1-3.6 .1 4 0-2.5 .1 2.5 .1-2.1 0-.5 .1-1.5 0 2 .1 3 .1-.3 0 6.2 .1-2.6 0 5.3 .1-1.9 .1 3.9 0 1.3 .1 1.8 .1-2 .1 1.4 .1 1.1 .1 3.1 .1-.8 .1-1.5 .2 3.8 .1 .3 .1-3.5 .2-4.6 .1 1.8 .2 .4 .2-5.7 .1-.4 .2-3.8 .2-.1 .3-.8 .2-1.8 .3 0 .4 1.1 .4 3 .4-4.6 .5 5.5 .5-.3 .4 1.6 .5 2.5 .5-2.1 .5 5.5 .4-3.3 .4 .3 .4 4.9 .4 1.4 .4-3.2 .4 5 .3 2.7 .4-2.7 .4 0 .4 2.7 .5 1.2 .6 1.5 .7 2.9 .6-1.6 .7-1.1 .7 .4 .7 5.5 .5 .8 .5-2 .4-2.2 .5 5.8 .4-2.6 .5-.3 .5-.1 .5 1.8 .5 5.7 .6-4.7 .7 4.7 .6-.9 .6-1.4 .6 5.8 .7 1.9 .7-2.4 .7-.9 .7 1.8 .8-.9 .7 .2 .8 1.8 .8 4.3 .7 1.9 .8-1.6 .8-.3 .7 4 .8-1 .9 2.6 .9-2.6 .9 4.5 .9 .5 .9-3.2 1-.7 .9 5.9 .9 .9 .9-5 .9 4.1 .8-2.3 .8 .7 .8 3.4 .7 3 .8-1.2 .6 .4 .7 1.8 .6-.6 .7 2.6 .6 .1 .6 .4 .6-1.7 .5-.3 .6 3 .6-1.3 1.2 3 1.1-3.3 1.5 5.3 .7 .5 .8-1.2 .8 1.8 .9-4.8 1 3.3 1-3.7 1 5.4 1.1-1.1 1.1 1.2 1.1-1.3 1.2-1.8 1.1 .6 1.1 1.5 1.1 2.1 1-3.2 1 2.7 1-3.1 .9 5.2 1-.5 .8 1.1 .9 .6 .9-.7 .9-3.3 .8 2 .9 1.3 .8 2.8 .9-1.3 .8 1.3 .9-2.3 .9 2.8 .8-3.4 .9 6 1-2.2 .9-.7 1-1.4 .9 1.7 1.1-.1 1 .1 1.1 4.4 1.1-3.1 1.1-.2 1.1 3.8 1 1 1.1 2 1.1-2.2 1-2.3 1 3.4 1-3.8 .9 2.8 .9-1.7 .8 .9 .8 3.6 1.2-2.2 1-.9 1 2.8 .9-.9 .9 4.2 1-.2 .8-4 .8 1.2 .9-3.3 .8 3.7 .8-2.5 .8-2.1 .8-1.5 .8 1.9 .7-.5 .6 .1 .6-2.4 .6-2.2 .6 1.1 .5-.2 .5-4.3 .5 2.5 .5-2 .5-.7 .4 0 .4-4.1 .2 4.1 .2-4.7 .2 1.7 .2-4.4 .2 2.5 .1-2.9 .2-2.8 .1 2.3 .1-1.1 .1-5.6 .1 2.9 .1-2.2 .1-.5 0-2.8 .1-.6 .1-1 0 1.4 .1-3.1 0-5.2 .1 1.8 .1-1.6 0-.1 .1-2.7 .1-.6 0 1.6 .1 1.4 .1-3.3 .1-3 .1 1.6 .1-1 .1-3.4 .1 .2 .1-1 .1-3.8 .1 .3 .2 .3 .1 1.1 .1-5.7 .1 2.4 .1-1.5 .1-.6 .1-.8 .1 .8 .1-1.9 .1-1.6 .1-5.8 .1 3.2 .1-1.1 .1-3 .1-.4 .1-2.7 .1 1 .1-.1 .1-1.9 .1-1.3 .1-1.3 .1 2.4 .1-1.5 0-5.1 .1 .5 .1-4.3 0 .8 .1 .6 .1-1 0-4.2 .1-.8 .1 4 0-2 .1-2.6 0-2.2 .1-1 0 2.1 .1-1.4 .1-.2 0-5.2 .1 1.6 .1-2.2 0-.1 .1-3.5 .1 3.2 0-2.9 .1 1.2 .1-2.7 .1-4.2 .1 4.2 .1-3.7 0-.9 .1-1.4 .1-2.1 .1 2.8 .1-4.7 .1-2.5 .1 .5 .1 .3 .1-2.5 .1-3.2 .1-.7 .1 .2 .1-.5 .1 .8 .1 .7 .1-2.1 .1-1.7 .1-.6 .1-1.1 .1-1.5 .1-.2 .1-2.6 .1 3 .1-.4 .1-5 .2 .7 .1-2.2 .1-3.5 .1 3.5 .1-2.7 .1 1 .1-6.1 .1 1.1 .1-2.2 .1 2.8 .1-5.3 .1-1 .1 1.6 .1-4.1 .1 3.7 .1-3.2 .1-4.3 .1-.3 .1 1.8 .1-3.9 .1 1.5 .1-3 .1-.9 .1-1.8 .1-.9 .1 2.4 .1-1.2 .1-3.4 .1-.9 .1 2.2 .1-.2 .1-4.3 .1 1.2 .1-2.5 .1-1.7 .1 1.3 .1-4.8 .1-.6 .1 1.3 .1-3.4 .1 2.2 .1-.7 .1 0 .1-4.4 .1 2.4 .1-1.1 .1-.9 .1-5.9 .1 2 .1-1.7 .1 .3 .1-3.7 .1 2.3 0-1.3 .1-4.9 .1-1.8 .1 2.2 .1-1.6 0-4.1 .1 .6 .1-.5 .1 1.6 0-3.4 .1-1.1 .1-3.7 .1-.9 0 1.9 .1 .1 .1-4.5 .1 3.6 0-5.5 .1 .6 .1 .4 .1-3.6 0 3.1 .1-1.2 .1-6 .1 2.4 0-2.6 .1-.2 .1-3.6 0 4.3 .1-5.7 .1 2.6 .1-1.5 0-.8 .1-1.6 .1-2.2 .1 .7 0-2.1 .1 .3 .1-3.9 0 2.9 .1-6.1 .1 2.7 .1-2 0 .6 .1-4.8 .1-1.1 0-2.4 .1-.8 .1 .7 0-2.3 .1 2 .1-1.7 .1-3.7 .1 2 0-1.6 .1-4.2 .1 2.3 0-4.4 .1 2.3 .1-1.5 0 .3 .1-4.6 .1 1.8 .1 .7 0-4.3 .1 .8 .1-2.1 .1 2.1 0-7.2 .1 4.1 .1-1.9 0-3.9 .1-1.1 .1 4.3 0-5.7 .1 1.7 .1-2.3 0 2 .1-4 .1 2.2 0-2.3 .1 .3 .1-1.9 0-1.8 .1-3.2 .1-1.4 0 1.3 .1-4.2 .1 0 0-3.2 .1 3 .1-2 0-3.2 .1-2.1 .1 2.9 0-2.7 .1-1.4 0 3.1 .1-6.6 .1 1.8 0-2.4 .1-2.4 .1 1.2 0-1.8 .1 .6 0-.5 .1-4.8 .1 1.6 0-.6 .1-3.6 .1 .3 0 1.1 .1-.6 0-5.4 .1 3.9 .1-2.3 0-.5 .1-4.4 0 1.1 .1-2.8 .1-1.8 0-.7 .1 0 0 1.5 .1-4.4 .1 2.3 0 .1 .1-1.7 0-3.4 .1 1.2 0-2.6 .1 1.3 .1-3.8 0-1.6 .1 2.3 .1-4.5 0-.8 .1-1.3 0 3.3 .1-.7 .1-.5 0-6.1 .1-2 .1 3.2 .1-2.3 0 1.3 .1-.5 .1-.9 0-1.9 .1-2.4 0 .1 .1-.8 0-3.1 .1 1.9 .1-3 0-3 .1 2.4 0-3.2 .1 1.1 .1-4.6 0-.7 .1 3.2 .1-2.6 0 .5 .1-.8 0-4.8 .1 2.2 .1 .7 0-2.7 .1-.2 .1-1.5 .1 1.3 0-1.8 .1-2.7 .1-2.8 0-3.4 .1 1.7 .1-3.5 0 3.4 .1-4.5 .1 1.8 .1-4.4 0 1.4 .1-1.5 .1-1.7 0-.2 .1-.6 .1-3.4 .1-1.5 0 3.8 .1-5.2 .1-.8 0-.5 .1 1 .1-.8 0-6.2 .1 2.3 .1 .6 .1-4.2 0 3 .1-2.8 .1-3.8 0-2.2 .1 4 .1-.5 0-2.2 .1-3.4 .1-1.1 0 .7 .1 1.4 .1-3 0-1 .1 .5 .1-4.6 0 1.4 .1-.2 0-2.5 .1 .4 .1-4.8 0 .4 .1 .5 0-.2 .1-5.9 0-1.5 .1 1.9 .1 1.4 0-2.9 .1 1 0-3.8 .1 1.4 .1-5.5 0 1.6 .1 1.1 0-4.2 .1 2.4 0-3.9 .1 1.8 0-.8 .1-2.4 0-3.7 .1 0 .1 .3 0 1.5 .1-5.9 0-.8 .1 2.7 0-5.4 .1 2.8 0-3.5 .1-.2 0-1.1 0-.7 .1-.6 .1-2 0-4.7 .1 .7 0-2.1 .1-1.2 0 3.5 .1-4.3 0-.2 .1-.4 0-3.8 .1 1.9 0 1.1 .1-3.2 0 2.2 .1-4.8 0 .7 0 .9 .1-5.3 0 .4 .1-4 0 4.1 .1-1 0-1.7 .1-.9 0-2.3 .1-1.5 0-2.6 .1-.4 0 2.2 .1 0 0-6 .1-.3 .1 1.5 0-2.4 .1 2.6 0-3 .1-3.6 .1-1.3 0 3.4 .1-1.3 0-6.2 .1 3 .1-4.4 0 .2 .1 1.6 0-3.7 .1-.5 .1-5.6 0 1.1 .1-1.6 0 .2 .1-1.3 .1 .3 0-2.3 .1 3 0-2.2 .1 .6 .1-5 0-1.2 .1-1.6 0-.8 .1 1.1 .1-1.9 0-2.2 .1 3 .1 .5 0-5.4 .1-1.9 0 2.8 .1-4.8 .1-2.7 0 .3 .1-1.7 0 1.7 .1-1.6 .1-2.8 0 2.5 .1-3.8 .1 2.2 0 .4 .1-.6 0-3.4 .1-4.1 .1 4.9 0-6.9 .1 .8 0-.8 .1-2.3 .1-.6 0 1.7 .1-2.5 .1-.2 0-2.2 .1-1.3 0 .4 .1-.2 .1 .5 0-5.6 .1 .6 .1-4 0-.6 .1 2.8 .1-4 0 2.5 .1-2.8 0-5 .1 1.1 .1 1.8 0-3 .1 2.7 .1-5.4 0 .6 .1 1.9 0-3.1 .1 1 .1-1.1 0-4.7 .1-.5 0-.2 .1-1.7 .1-2.4 0 4.8 .1-5.3 0 .5 .1-3 .1 .4 0-2.9 .1 1.8 0-2.3 .1-1 0-1.3 .1-2.4 0 .8 .1 1.7 .1-4.7 0 .5 .1-.2 0-3.4 .1 1.6 0-.3 .1-2.7 0-4.4 .1 2 0-2.9 .1 3.7 0-1.4 .1-.8 0-3.1 .1-3.3 0-1.1 0 4.2 .1-6.2 0 3.9 .1-3.8 0-3 .1 3.6 0-5.7 .1 3.2 0-1.6 .1-1.2 0-3.1 0 1.2 .1-4.2 0 1.2 .1 .6 .1-3.4 0-.9 .1-4.6 0 .8 .1-1 0 1.9 .1-4.2 .1 2.3 0-1.7 .1 .1 .1-.7 0-1.6 .1-2.6 0 .2 .1-3.7 0 .7 .1 .1 0-2.7 .1-.3 .1-.1 0-3.3 .1 1 .1 1.9 0-3.9 .1-1.6 0 1.9 .1 1.2 .1-5.7 0 3.6 .1-3.9 .1-4.1 .1-.4 0-1.3 .1-.1 .1 1.4 0-.9 .1-2.7 .1-3.7 0 2.5 .1-5.2 .1 3.7 .1-1.1 0-3.2 .1 1 .1-6 .1 .3 0 .1 .1 1.1 .1-2.4 .1-1.6 0-3.3 .1 1.2 .1 .4 .1-2.3 0 1.5 .1-4.8 .1-.4 .1 .9 0-1.4 .1-3.3 .1-2.6 .1 4.1 0-5.6 .1 2.3 .1-2.9 .1 1.6 0-4 .1 .9 .1-2.3 .1 .3 0 1.8 .1-5.3 .1 1.4 .1-3.3 0-2.5 .1 .9 .1-1.4 .1 1.6 0-4.9 .1 1 .1-3 0-.2 .1 1.4 .1-2.7 0 1.2 .1-2.8 .1 .4 .1-1.3 0-1.5 .1-4.1 .1 2 0-4.2 .1 3.7 .1-2.1 0-3.3 .1 2.1 .1-3.6 0-2.5 .1-.8 0 2.9 .1-2.2 .1-4.3 0-1.7 .1 3.1 .1-.8 0-.5 .1-2.9 0-2.9 .1-.7 .1 2.7 0-4.6 .1-1.8 .1 2.7 0-5.3 .1-1 .1-2.2 .1-.4 .1 .5 0-4.2 .1 .6 .1 .7 .1-2.4 0 .5 .1-2.8 .1 3.1 .1-3.6 0 1.7 .1-2.4 .1-1.2 .1 .6 .1-5.1 .1 4.1 .1 0 .1-2.3 .1-1.9 .1-3.2 .1 3 .1-4 .1 1.4 .1-2.8 .1 .2 .2-1.6 .1-3.8 .2 1.3 .2-3.1 .2 .2 .1-1.9 .2-.5 .2-2.3 .2-2.1 .2 3.6 .2-5.9 .2 5.3 .2-3.9 .3-1.6 .2 1.8 .2-4 .2 1.5 .2-4.4 .2 3.4 .2-3.4 .2-3.7 .2 3.1 .2-.6 .2-3.7 .2-2.4 .2-1 .2 2.9 .2-1.5 .2-2 .2 1.3 .2 1.2 .2-5.3 .2 .8 .2-4.3 .2-.2 .2 1.1 .1-2.3 .2-.9 .2-1.5 .2 1.1 .1-2.2 .2 .8 .2-2.8 .2-3 .1 1.4 .2 .6 .2-3.6 .2-1.6 .3-3.8 .2 .7 .2-1.6 .2-1.1 .3 .9 .3-4.2 .4 4.8 .3-5.9 .3 2.8 .4-2.9 .3 2.8 .4-3.8 .4-2.5 .3 1.7 .4-2.4 .5-.3 .4-1.3 .4 .8 .5-2.8 .5-2.9 .5-1.3 .5 .1 .6-1.3 .5-3.3 .6 2.6 .6-1 .6 1 .6-3.1 .6-2.7 .7 1.5 .7 .7 .7-5.2 .8 4 .8-1.9 .8 .1 .9-3.6 1 1.6 .9 3.4 1.1-5.6 1 1.6 1.1 2.1 1-.1 1.1-.9 1.1-3.2 1-.2 1-.6 1 2.7 .9 0 .9-2.3 1.1-.4 1.1 1.3 1-3.5 1 4.5 1-2.2 .9-.1 .9-3 .8-1.9 .8-1.3 .7 3.5 .6-5.4 .6 3 .5-.4 .4-6.7 .5 4.3 .4-.7 .5-1.1 .4-.2 .4-2.4 .4 2.1 .3 2.5 .3-1.7 .3 2.2 .4 5.5 .6 .1 .7-1 .7-1.6 .9 2.1 1 1.2 1 1 1.1-3.9 1.2-.8 1.2 .1 1.2 4.2 1.2-1.1 1.1-1.1 1.2-.9 1-3.3 1-.3 .9-.5 .9-1.7 .9 2.7 .9-2.5 .9-1.5 .9 4 .9-2.1 .9-4.4 .9 4.1 .9-1.4 .9 .1 .9-1.6 1-1.6 .9 .7 1 .5 1 0 1-.4 1-1 1 1.2 1-.7 1-2.2 1-1.2 .9 3.4 1-4.8 1.1 3.1 1.1-4.4 1 .2 1.1 .3 1.1 .3 1 2.5 1.1 .5 1-.4 1.1-3.1 1 2.4 1-3.7 1-.5 1-.4 1 .3 1 3.4 1-2.8 1 .3 1 3 1-.5 1 .6 1-3.5 1 1.3 1 2.5 1-3.4 1-.6 1 1.1 1-.6 1 3.1 1-.4 1 .9 1-4.7 1.1 1.2 1 .2 1 .9 1-1.1 1-.6 1-2.9 1 2.4 1 2.3 1-3.9 1-.4 1 3.9 1-3.2 1.1-2.8 1.1 3.7 1.2-.6 .9-.5 .9-.3 .9-.9 1-1.8 1 5.1 1.1-2.2 1-1.1 1.1 3.9 1.1-3.6 1.1 .9 1.1 1 1.1 1.2 1.1-3.2 1.1 1.8 1.1-.3 1 3.7 1.1-1.6 1-3.4 1.1 1.8 1.1 1.1 1.1-2.5 1-.8 1.1 1.5 1.1 3.7 1.1-5.5 1 4.2 1.1-3.8 1.1 .5 1 3.8 1 0 1-1 1-.6 1-2.2 .9 1.7 1.1 .8 1-.8 1.1 0 1 2.8 1-2.7 1 2.4 1 3 .9-.3 .9-.7 .9 .3 .9 1.2 .9 .7 .8-1.9 .9 1.2 .8-.8 .7 3.8 .8-.1 .7-1.2 .7 2.9 .7-.3 .7 3.7 .7 .6 .7 .3 .7-1.1 .6 1.3 .5-.4 .6 3 .5-1.1 .5-.1 .6 .5 .5-.1 .5 6.5 .5-4 .5 1.2 .5 4.8 .5-1.9 .5 5 .5 .1 .5 1.1 .5 1.5 .5-4.3 .5 .4 .4 3.3 .4 1.7 .4 3.5 .4-.1 .4 1.9 .4-2.2 .4 0 .4 3.3 .4 1 .4-.6 .4 4 .5 .9 .5-3 .5 2.2 .5 .9 .6 .8 .6 4.6 .7-.2 .8 1.7 .9-.6 .9-.7 .9-.1 1 .3 1-3 1.1 3.3 1-2.3 1.1-1.9 1.1-1.9 1 1.2 1.1-1.3 1 0 1-1.5 .9 1.1 1 .2 1.1 .4 1 .2 1-2.5 1 3.4 1-4.4 1 .9 1 3.2 .9-5.6 1 3.5 .9-3.8 .9-2.3 .7 4.2 .8-.1 .7-3.2 .6 .7 .7-2.6 .6 .4 .6-3.9 .7 1.5 .6-3.3 .7 2.1 .6 .1 .7-4.6 .7 1.6 .7-3.8 .7-.8 .8 1.2 .8-2.4 .8-.8 .8 3 .9-3.5 .9 3.1 1-4.3 .9 1 1 4 .9-5.2 1 1.2 1-.6 1 2.5 1-1.2 1-2.5 .9 .4 1-.9 .9 2.3 .9-4.3 .9 .8 .9-.2 .8-2.2 .8-1.3 .8 .9 .7-.6 .7-.9 .7-2.7 .7 1.1 .7-3 .7-1.4 .7 2.1 .7 .5 .7-2.8 .7 2.2 .7-1.4 .7-3 .7 2 .8-1.2 .8-4.3 .8-.8 .8 .4 .8-1.6 .8 2.6 .9-3.2 .9 1.7 .9-3.7 .9 .3 .9-.9 .9-1.2 1 .4 .9-1.3 1-.5 .9 4.3 1-1.5 .9-2.5 1-1.1 .9 .8 .9-3.8 1 .3 .8 1.5 .9-1.5 .9 1.3 .8-1.6 .8-.5 1.1-3 1 3.2 1-3.2 .9 3.1 .9-.5 .9-3.8 1-1.9 .9-.6 .9 .1 1 3.5 1-3.8 1.1 3.4 .9-1.5 1 3.4 1.1-1.4 1-1.9 1.1 1.4 1.1 3.1 1.1 .2 1.1-1.4 1.1-.6 1.1 2.4 1.1-4.9 1.1 1.6 1.1-2.1 1 .9 1 1.6 .9 3 .9-1.2 1.1 1.1 1.1-4.4 1.1-.9 1 2.2 .9 1 1-2.6 .9 1 .9 .7 .9-2.2 1.1 1.2 1.1-1.9 1.1 1.8 1 .4 1-.4 .9 .6 .7 1.9 .6-1.8 .6 4.5 .5-1.1 .5 3.6 .6-.5 .7 .6 .8 1.2 .9 0 .9 3.5 1-1 1.1-4.5 1.1 3.4 1.1-3.9 1.1 3.1 1.1-2.6 1.1 2.1 .8 2 .9-2.5 .8-1.2 .9 3.1 .9-.5 .9 2.5 .9 3.1 .8-.4 .8-3.1 .9 4.5 .7-1.3 .7 .5 .7 1.5 .6 4.1 .5 1 .5-4.1 .3 3 .3 .7 .3 1.9 .1 .6 .2 2.2 .1 2.1 .1 1.1 .2 .6 .2-2.5 .3 0 .3 6.1 .5-1.3 .5-.3 .6 2.1 .7-.1 .7 3 .6-2.6 .7 1.4 .6-1 .5 3.7 .5 .4 .3-2.3 .2 3.4 .2 4.1 .2-5 .1 5.5 .1 1 .2 .4 .1-2.1 .1 4.7 0 3.1 .1-1.3 .1 0 0 2.5 .1 1.2 0-2.4 .1 2.2 .1 3.8 0-.4 .1 .5 .1 2.5 .1 .3 .1-1.5 .1 3.1 .2 .8 .1 4 .2-1.5 .2 1.5 .2 1.4 .2-.1 .3 2.3 .2 .2 .3-1.2 .2 .9 .3 2.7 .3-2.8 .2 5.8 .3 .4 .3 2.6 .3-1.1 .3-1.2 .3 2.7 .3 4.7 .3-2.9 .3 .6 .3 1.8 .3 2.8 .3-1.1 .3 4.7 .2 .5 .3 2.7 .3-4.8 .2 3 .3 2.7 .3-2.7 .2 5.4 .3-5 .2 3.3 .2 2.9 .3-2.4 .2 5.1 .2-2.7 .3 5.4 .2-1.5 .2-1 .2 .3 .3 4 .2 2.1 .2-1.1 .3 .1 .2 2.1 .3 2.8 .2 1.2 .3-3.6 .2 3.5 .3 3.5 .3-3.5 .3 5.2 .3-2.6 .4 3.1 .3-.4 .3 1.7 .4 2.6 .3 3.1 .4 .9 .3 .8 .4 1 .4 .2 .4-2.6 .4 1.5 .4 4.6 .4 .7 .4-1.1 .5-.4 .4 3 .5-3.1 .5 4 .5-1.6 .6 .6 .6 3.3 .6 .3 .6 2.4 .6 .7 .7-2.7 .6 5.1 .7 1.2 .6-1.6 .7 1 .7 2.7 .7-2.9 .7-.2 .7 1 .8 6.3 .7-5.5 .7 4 .7-1.4 .7 .3 .8 .8 .7 1.9 .7 3.7 .8-.8 .7 2.4 .8-2.4 .8 3.5 .8 1.7 .7 1.3 .8-1.3 .8 1.8 .8-3.2 .8 4.2 .8-2.5 .9 3.8 .8 .3 .8-.6 .9 1.3 1-.9 1 1.5 .9-3.9 1 .9 1 4.2 1-2.7 1 3.7 1 1.3 1 .8 1-2.9 1-.1 .9 4.6 1-1 1 1.4 .9-4.7 1 4.9 .9-5.3 1 3.3 .9-4.8 .9 5.2 1-2.1 .9 1 1-1.2 .9-1.3 .9-2.7 .9 1 .9-4 .9 4.7 .8-2.3 .9-.9 .7-1.6 .6-4.3 .7 2.3 .6-.1 .6-3.4 .6 1 .6-.1 .6-.3 .6-3 .6-.1 .6-3.1 .6 1.5 .5-.6 .6-1.5 .6 .9 .5-1.5 .6-.2 .6 .7 .5-5 .6 1.7 .6 1.2 .5-4.2 .6-1.2 .6 .3 .6-.5 .8-1.7 .8 .4 .9-2.3 .8 .9 .8-3.1 .8-1.5 .8 4 .9 .1 .8-3.6 .8-2.9 .8 4.4 .9-2.3 .8 .9 .8-.5 .8 1.5 .8-1.2 .8-3.3 .8-2.9 .8 3.3 .8-3.1 .8-.6 .8-1.8 .8 2.8 .9-1.4 .8-.1 .8 .9 .9-.4 .8-4.8 .9 .4 .9 .9 .8-.9 .9 .2 .9-2.4 .9-.8 .9 1.2 .9-2 .9-3.1 .8 .5 .9-.8 .9 4 .9-.3 .9-4.8 1 3 1-1.6 .9-2.2 1 .9 1 4.3 1-4.3 .9 2.8 1 .7 1-.1 1 1.1 1-1.7 1-.1 .9 2.4 .8 2.8 .9-2 .9 1.6 .9-2.8 .9 2.9 .9 .2 1 .4 .9 3.1 .9-3.3 .8 4.1 .9-2.3 .9 2 .8-3 .8 5.8 .8 .1 .7-.1 .5 .2 .6 1.6 .5-3.7 .4 5.3 .5-2.9 .4 4.4 .5 1.4 .4 1.1 .4-3 .4 3 .4 3.6 .3-3.3 .4 3.2 .4 2.7 .3-.6 .4-.1 .4 .9 .3 3.9 .4-3.6 .3 5.9 .4-1.2 .4 1.4 .3 1.4 .4 .9 .4-2.4 .4 4.2 .4-.2 .5-.3 .4 1.9 .5 .4 .4-.6 .5 .1 .5 3.8 .5 2.1 .5-1.4 .5-1.6 .5 2.9 .5-.5 .5 .7 .6 1 .5 5.6 .5-2.2 .5 1.8 .6 2.1 .5-1 .5 3.4 .5-.5 .6 1.9 .5-3.5 .5 1.7 .5 1.9 .4 2.4 .5 .4 .5 1.6 .4-3.1 .5 5.5 .4-.5 .4 2.5 .4-2.6 .3 4.2 .4-1 .3 3.3 .3-1.1 .3 1.8 .3 .2 .3 3.6 .3 1.7 .2 .2 .3-3.1 .3 2.8 .2 3.3 .2-.9 .3 .8 .2-1.3 .2 6.1 .3-.4 .2 .3 .2-.2 .2 1 .2 .5 .2 2.9 .2-2.8 .3 5 .2 1.5 .2 .1 .2-1.1 .2 .5 .2-.3 .3 3.1 .2 3.7 .2 1.8 .3 1.6 .2-4 .2 3.2 .3 .9 .3 3 .3-3.4 .3 .3 .2 1.5 .3-.5 .3 1.5 .3 .8 .3 3.8 .3-1 .3 4.6 .3-2.4 .3 4.7 .2 1 .3-2 .3 1.1 .3 .8 .3 2.2 .3-1.3 .3 1.8 .3 2.9 .3-.9 .3 3.9 .3 1.1 .3-1.4 .3 .5 .3 1.9 .3 3.4 .3 1.3 .3 .3 .3 .3 .3 .7 .3-1.1 .4-.7 .3 5.5 .3-.9 .3-.7 .3 4.9 .3-2.9 .4 1.1 .3 .7 .3 .6 .3 3.6 .3 2 .4-.6 .3 2.8 .3-2.1 .3 2 .4 1.5 .3 3.1 .3-2.4 .4 .6 .3 5.1 .4-2.7 .3 .4 .4 3.4 .3 1 .4 1.8 .3-2.1 .4 4 .4-2.4 .3 3.3 .4-1.1 .4 3.7 .3-1.7 .4-.1 .4 2.7 .4 3.7 .4-3.2 .4 1.3 .4 3.7 .4-1 .4 2 .4 4.3 .4-3.1 .4 1.8 .4 2.9 .4 1.5 .4-.8 .4 .1 .3-.4 .4 4.9 .4-1.3 .4 2.4 .3-1.8 .4 .4 .3 2.7 .4-1 .3 4.5 .3-.4 .3 0 .3-1.3 .3 2 .4 5.1 .3-1.6 .3 2.8 .3 2.6 .2-2.6 .3-.2 .3 6.3 .3-.4 .3-1.5 .3 5.2 .3-4.4 .2 .6 .3 .2 .3 6.3 .2-2.7 .3 3.8 .2-4 .3 2.5 .3-.8 .2 2.7 .2 3.8 .3-1.1 .2 1 .3 1.7 .2 4.2 .2 .7 .3-1.9 .2 2.8 .2-1.2 .2 3.8 .3 1 .2-.2 .2 3.1 .2-3.5 .2 3.5 .2-1.9 .2 4.2 .2 1.1 .2-2 .2 3.6 .2-1.4 .2 5 .2-4.1 .2 3 .1 4.6 .2 1.1 .2-4.8 .1 5.2 .2 .4 .2 2.7 .1-2.2 .2 .9 .2 2.3 .1-1.4 .2 .9 .1 2.8 .2 2.9 .2-2.2 .1 2.2 .2 2.4 .1-3.4 .2 .1 .1 1 .2 1.5 .1 4.5 .2 2.3 .1-1 .1-1.1 .2 1.2 .1 5.7 .1-.2 .1-1 .2 1.9 .1 1.7 .1-.8 .2-.1 .1 3.1 .1 2.5 .2 1.7 .1-3 .2 1.6 .1 3.3 .1 2.5 .2 1 .1-2.4 .1 1.8 .2 3.7 .1-.7 .2-2.3 .1 .8 .1 2.4 .2 3.1 .1-2.6 .2 5 .1 1.1 .1-1.6 .2 3.6 .1-1.8 .2 3.4 .1 .1 .2 2.3 .1 2.6 .1-.9 .2-.4 .1 3.1 .1 1.8 .2-3.5 .1 4.2 .1-2.6 .2 1 .1 2.8 .1 .5 .1-.5 .1 .3 .1 5.4 .2-4.9 .1 3.2 .1 2.8 .1 .7 .1 .7 .1 1.1 .1-1.4 .1 4.5 .1 1.4 .1-2.9 .1 1.2 .1 5.4 .1 1.3 .1-2.2 .1 2.9 .1-.4 .1 4.1 .1-1.2 .1-.8 .1 3.3 .1-.4 .1 .2 .1 1.5 .1 2.2 .1 .2 .1 3.2 .1-2.1 .1 1 .1 5.8 .1-3.6 .1 3.6 .1-.8 0 3 .1 1.8 .1-2.3 .1 1.3 .1 3.3 .1 2.1 0-2 .1 .7 .1 1 .1 1.2 .1 3.7 .1-.6 0 1.2 .1 2.2 .1-1.3 .1 4.6 .1-.3 0 .6 .1 1.3 .1-.6 .1 1.8 .1-2.4 0 5.8 .1-2.7 .1 3.6 .1 1.4 .1 3.1 0-.5 .1-1.4 .1 4 .1 .5 .1-1.5 0 .1 .1 1.4 .1 2.7 .1-.1 .1 1.3 .1 2.3 .1 3.1 .1 .7 .1 1.3 .1-.8 0-2.8 .1 6.3 .1-1.2 .1 1.4 .1 .9 .1-.3 .1 1.6 .1 2.8 .1-3 .1 1.5 .1 5.7 .1 .1 .1-1.8 .1 3.7 .1 1.5 .1-4.4 .1 4.3 .1-.8 .1 .9 .1 4.3 .1 .1 .1 1.7 0-1.1 .1 5.2 .1-3 .1 3.8 .1 1.4 .1-1.7 .1 3.1 .1 1.9 .1 .4 .1 1.5 0-1.5 .1 3.7 .1-2.8 .1 3.5 .1-2.9 .1 .3 0 5.8 .1-1.9 .1-1.1 .1 6.5 .1-.7 .1 2.1 0-2.3 .1 2.5 .1-1.3 .1 3 .1 1.9 0-.1 .1 1.8 .1 3.4 .1 .5 .1-.4 .1 2.3 0-2.8 .1 3.3 .1-1.2 .1 3.3 .1 1.4 0-2.9 .1 1.7 .1 2.1 .1 .2 .1 2.5 0 3.8 .1-3.8 .1 5 .1-2.6 .1 1.4 0 4.7 .1-3.4 .1 4.5 .1 .9 0-.6 .1 3.6 .1-3.1 0-.2 .1 5.7 .1-.7 .1 .4 0 1.9 .1 2.4 .1-3.2 0 .3 .1 .2 .1 6.1 0-2.9 .1 5.8 .1-.1 .1 2.2 0-4.7 .1 2.2 .1 5.6 .1-2.3 0 3.4 .1-.2 .1 2.4 .1 .8 0-1.8 .1 3.5 .1-3.4 .1 2.2 .1 .3 .1 6 0-1.8 .1 1 .1 2.9 .1 1.9 .1 2 .1-3.6 .1 2.9 .1 .1 .1 3.3 .1-.5 .1 3.3 .1-1.1 .1 4.1 .1-2.3 .1 .5 .1 3.8 .1 1.7 .1-1.9 .1 1.2 .1 3 .1 .3 .1-.5 .1-.2 .2 4.3 .1 1.4 .1-2.7 .1 .8 .1 3.6 .1-.4 .1 1.9 .1-3.2 .2 3 .1 3 .1-2.6 .1 5.6 .1-.8 .1 0 .2 1.7 .1-1.1 .1 3.5 .1 .5 .1 1.1 .1 2.3 .1 1 .1 1 .2-.7 .1 0 .1 5.8 .1 2.4 .1-1.5 .1-2 .1 2.1 .1 3.8 .1-1.8 .1-1.4 .1 6.6 .1-3.1 .1 1 .1 .3 .1 2.7 .1 2.2 .1-.5 .1 3.6 .1 2 .1-4.4 .1 6.6 .1-1.9 .1-1 .1 3.2 .1-2 .1 6.1 .1-2.4 .1 .5 .1 2.6 .1 1.8 .1-.1 .1 1.7 .1 1.1 .1 2.3 .1 1.1 .1-1.9 .1 1.4 .1-.6 .2 1.8 .1 1.1 .1 0 .1 .7 .1 .4 .2 2.7 .1 .6 .1 1.9 .2 4.4 .1-2 .2 1.1 .1-.8 .2 .1 .1 6.7 .2 .3 .1-2.6 .2 .5 .1 3.5 .2 .4 .1 3.7 .2-1.7 .2-.6 .1 4.3 .2 .4 .2-1.4 .1 2.8 .2-1.7 .2 2.9 .1-1.2 .2 3.4 .2 1.1 .2-.2 .1 1.2 .2 3 .2 .8 .2 .9 .2-2.1 .2 4.8 .2-2.5 .2 1.1 .2 5.9 .2-2.8 .2 .2 .3 2.5 .2 3.9 .2 0 .2-1.3 .3 4.1 .2-1.9 .3 3.8 .2-2.2 .3 3.7 .2 .3 .3-.5 .3 .8 .4 4.6 .3-2.6 .3 2.9 .4-.3 .3-.2 .3 2.3 .4 2.8 .3-1.9 .4 3.6 .3 .5 .4-2.1 .4 5.8 .4-.7 .4-.2 .4 4.2 .4 .7 .4-3.8 .4 4.2 .5 .4 .4 3.4 .5 .7 .4 .8 .5-.2 .5-1.9 .5 .6 .6 2.5 .5 .2 .7-.4 .7 4.4 .7 1.4 .7-.7 .7 1.1 .8-.1 .8-1.7 .8 2.9 .8 .4 .8-1 .8 1.6 .9 .6 .8 3.4 .9-1.3 .8-2.3 .9 2.8 .9-2.3 .9 3.1 .9-1.2 .9 4.3 .9 .5 1-1.2 1-2.3 1.1-1.5 1 3.5 1.1-3.3 1.1 5 1.1-3 1.1-.3 1.1-.1 1 3.1 1.1-4.2 1.1-.2 1 3.9 1-3 1 1.9 1-.4 .9-2.9 .9 .1 .9 1.8 .8-5.2 .8 .7 .8 1.7 .8-1.2 .7-6 .7 2.5 .8 .1 .7-4.1 .6 .1 .7 2.8 .7-2.5 .6 .3 .7-5.3 .6-.2 .7 1.1 .6 1.4 .7-.4 .5-1.8 .5-5.3 .5 2.5 .5-3.3 .5 1.8 .5 .8 .5-3.7 .5 .8 .4 1.1 .5-6.5 .5 5.3 .4-1.2 .5-5.5 .4 3.3 .5-2.7 .4-5.6 .5 1.8 .4 1.3 .5-4 .4 .4 .4-2.8 .5 3.2 .4-.7 .5-3 .4-1.5 .5 .7 .4 1.1 .5-2.7 .4-.7 .5-4.4 .4 3.3 .5-6 .4 3.3 .4-3.2 .5-3.5 .4 3.1 .4-.7 .5-3.7 .4 2.5 .4-1 .5-5.8 .4 2.7 .4-.9 .5-2.3 .4 1.1 .5 1.1 .4-2.3 .4-.3 .5-5.2 .4 4.3 .5-5 .5-1.6 .4-.7 .5 2.4 .4-2.6 .5 2.8 .5-.5 .5-5.6 .4-.7 .5-1.6 .5-.5 .4 4.2 .5-2.6 .5-5 .5 .8 .5 .9 .5-3.9 .5 2.3 .5-5.2 .5 4.9 .5-3.3 .5 1.2 .5-6 .5 3.6 .5-1.1 .5-.6 .5-.6 .5-3.6 .5 1.7 .5-3.2 .5 1.1 .5-4.9 .5-.9 .5-1.3 .5 4.1 .5-1.9 .5-3.9 .4 .9 .5-2 .5-1.8 .4 .5 .5-3.1 .4 1 .4 2.9 .4-3.3 .5-2 .4 1.4 .4-3.1 .4-.6 .4-4.6 .4 3.5 .4-2.1 .5 2.2 .4-3 .4 1.2 .4-4.6 .4-1.6 .4-1.2 .4-1.1 .4-1 .4 1.9 .4-.9 .4-1 .4 .8 .4-2.1 .4 .2 .5-1.7 .4-1.5 .4-5 .4 2.4 .4-1.5 .4-1.5 .4 1.4 .5-2.9 .4-.6 .4 .2 .4-2.1 .5 1.8 .4-2.3 .5-.5 .4 .5 .5-1.1 .5-2.4 .5-3.3 .4-.8 .5 2.7 .5-2.7 .5 1.3 .5-4.8 .4 2.5 .5-.6 .5-2.3 .5 1.6 .5-2.9 .5-3.8 .4-.8 .5 3.7 .5-3.2 .5 0 .5-3.5 .5-2.4 .5 1.6 .5-3.1 .5 2.6 .5-4 .5 1.3 .5 .1 .5 0 .5-3.9 .6-.3 .5-1.3 .5-.2 .5 1 .5-2 .5 1.3 .5-6.2 .5 3.4 .5-3.2 .5-.7 .6 .1 .5-2.4 .5-1.7 .5 1.4 .5-1.5 .6 1.9 .5-5.7 .5 .4 .5-2.7 .6 1 .5 1.1 .5-5.9 .6 1.5 .5-.8 .5 .4 .6-2.6 .5-2.9 .5 1.1 .6-2.2 .5 2.7 .6-2.1 .5-3.4 .5 3.7 .6-2.9 .5 1.7 .6-1.2 .5-3.1 .5-1.9 .6-1.6 .5 2.2 .6 .2 .5-2.3 .6 .8 .5-4.7 .6 2.9 .6-6 .6 .8 .6 .3 .6-.8 .6-2.1 .6 2.6 .6-4.5 .6-1.6 .6 2.4 .6-2.1 .6-2.6 .6 2 .6-1.9 .6-2.1 .6 1.2 .5-4.1 .6 1.8 .6-1.4 .5-.1 .6-.7 .5-2.3 .5-2.1 .6 .1 .5 3.8 .5-5.2 .4 .1 .5-1.3 .4 .6 .5-3.7 .4 2.6 .8-.6 .8-3.2 .7-2.3 .7-1.3 .7 3.9 .7-5.1 .7-.1 .7 3.7 .6 .3 .6-5.4 .6 .2 .6 .7 .6-3.2 .7-1 .6 2.4 .6 .1 .7-1.5 .6-5.7 .7-.3 .7 .1 .6 .6 .7-2.4 .8 1.3 .8-3.6 .8 3.2 .8-4.5 .8 4 .8-4.2 .8-.7 .8 1.1 .8 1.9 .8-5.5 .8 2.9 .7-4.1 .6 3.8 .7-1.4 .6-2 .7-2.8 .6-3.2 .6 .2 .6-2.4 .7 4.8 .6-6.4 .6 1.9 .6 .1 .6-4.2 .6 .9 1.2 0 1.2 4.1 1.1 .3 1.2-.8 .8-.4 .7-3.1 .8-.8 .7 2.8 .8-4.2 .7 1.2 .8-4.1 .9 .8 .8-1.3 .8-2.4 .9-.8 .9 1.3 .9-1.8 .9-1.8 .9 4 .9-2 .9-1.2 1-2.6 .9 2.3 1 .1 1 2.1 1.1-.6 1.1 1.2 1-2.1 1.1 .9 .9-2.6 .9-.2 .7 2 .7 2.3 .5-3.4 .4 .2 .5-1.3 .8-1.4 .7-.2 .8-.7 .9 2.2 1-3.2 1-.5 1.2 3.8 1.1 .9 1.2-.3 1.2-3 1.2 1.4 1.2-.7 1.2 .2 1.1 1.5 1-1.3 1.1 1.4 1.2-1.8 1.1 2.3 1.1 3.9 1.1-1 1.1-4.9 1.1 4.7 1-3.8 1 3.3 1-3.1 1 3.8 .9-.8 .9-2.7 .9 4.9 .8-2 .9 2.2 .8 .5 .8-.5 .7-.1 .7 1.4 .7 4.1 .7-.1 .6-1.1 .5 3.9 .4-.4 .5-.8 .4 2.5 .4 2.5 .4 1.3 .4-2.5 .4 2.4 .4 2.9 .5 .9 .5-4.2 .5 2.8 .6-1 .7 4.4 .7 .9 .7-1.2 .7 .7 .8-1 .8 2.4 .8 1.5 .7 .7 .8 2.2 .8-1 .7 1.9 .7-1.3 .8 4.2 .7-.4 .7-4.5 .7 5.1 .8-2.1 .7 .2 .7 2.2 .8-1 .7 .7 .8 3.1 .8 .4 .7-.7 .8-1.4 .7 1.2 .7 5.3 .8-3 .8 1.3 .7 2.9 .8 .4 .8 2.2 .8-1.1 .8 1.7 .8-2.5 .9 1.8 .8 3.7 .8-4 1 3.7 .9 2 1-2.1 1.1 2.1 1-2.6 1 3.4 1.1 .9 1-.5 1-2.4 .9 4.4 .9-3.1 .9 3.7 .8 1.4 .7-1.3 .7 2.6 .6 .7 .6 .1 .7-3 .6 5.9 .5-4.4 .6 1.3 .6 5.6 .6-2.8 .6 2 .7 2.9 .6-1.6 .6 1.4 .6 .6 .6-.5 .6 4.2 .6 1 .6 1.1 .6-1.4 .6 .7 .6 2.9 .6 1.6 .7-1.7 .7-2.2 .7 .8 .7 4.3 .7-.6 .8-.7 .8 2.6 .9 3.5 .9-.7 1-4.1 .9 .9 1 4.7 1-3.1 1 2 1.1 .8 1 1.1 1-.1 1.1 1.8 1-1 1 2.1 1-3.1 1 2.1 1.1-2.9 1 5.1 1.1-3.6 1-.6 1.1 .4 1 2.5 1.1-2.8 1.1 3.5 1-3.3 1.1-1.8 1-.7 1.1 3.7 1-2.9 1-.8 1 3.7 1-4.4 .9 3 1-4.5 1-.5 1 4 .9-5.9 1 1 1 3.3 1-1.1 .9-1.4 1 3.5 1-5.1 1 .9 1.1 3 1 .7 1.1-6.6 1.1 4.1 1.1-.2 1.1-2.9 1.2 .8 1 .4 1.1 .9 1.1-4.1 1 4.7 1-.5 1 .9 .9-4.4 1.1 1 1.1 3.2 1-4.4 .9-.9 1 1.3 .9-3.3 .9 .2 1-2.7 .9 4.1 .8-1.6 .9 1.2 .9-2.8 .8 .7 .9 1.2 .8 4.8 .8-.6 .8 2.7 .8-.6 .7 .4 .7-2 .7 4.5 .6-2.4 .7 4.4 .5-2 .6 2.4 .5 .7 .6 1 .5 4.7 .6-3.7 .5 2.6 .5-.5 .4 1.1 .5 1.7 .5 1.9 .5-1.2 .4-.4 .5 5.2 .4-.5 .5-1.9 .4 2.3 .4 1 .5 1 .4 2.3 .4-2.1 .3 3.3 .4 1.1 .3-1.2 .4 5.2 .3-1.7 .4 1 .3 1.7 .4-.2 .3 .6 .3 .9 .4 4.1 .3 2.3 .3 .9 .3-3 .3 2.7 .2-1.6 .3 1.4 .3 5.3 .2 1.2 .2-3 .3 4.2 .2-4 .2 1 .1 4.1 .2-.4 .2 1.4 .2 1.1 .2 4.1 .1 .7 .2-3.6 .2 2.9 .2 4.3 .2-.4 .2 .8 .2 1 .1 3.2 .2-3.6 .2 3.1 .1 1.4 .2-1.2 .2 1.4 .1 0 .2 .8 .2 2.6 .2 1 .1 .4 .2 2.6 .2-2 .2 3.8 .1 2.7 .2 1.5 .2-1.5 .2-1.4 .1 .6 .2 6.1 .2 .7 .2 .2 .1-1.7 .2 2.9 .2-2.3 .1 4.3 .2 3.6 .1-4.4 .2 1.8 .1 2.7 .1 .2 .2-1.1 .1 4.2 .1 2.2 .1 .5 .2 1.5 .1-2.6 .1 3 .1-2.5 .2 3.2 .1 2.8 .1 .3 .1 .8 .2 3.6 .1-1.2 .1 2.1 .1 3.2 .2-.4 .1-2.9 .1 6.6 .1-2.4 .2 3.1 .1-2.3 .1 2.3 .1 1.5 .1-.8 .2 2.6 .1-.8 .1-.1 .1 4.3 .2 2 .1-4.2 .1 4.5 .1 3.6 .1-2.9 .2-.5 .1 5.2 .1 1.3 .1-1.5 .2 1.1 .1-1.2 .1 2 .2 3.3 .1 .1 .1 .4 .1-.7 .2 6.5 .1-.9 .1-.5 .1-1.1 .2 3.7 .1 2.9 .1 .2 .2-1.6 .1 .1 .1 3.9 .1-2.7 .2 2.7 .1 4.4 .1-2.2 .2 3.2 .1-3.9 .1 2.9 .2 2 .1 .1 .1 .1 .1 1.2 .2 .9 .1 3.1 .1 1.4 .2 2.5 .1-2 .1 4.1 .1 2.1 .2-4.3 .1 2.5 .1 3 .1-2.9 .2 3.1 .1-.4 .1 2.7 .1 3.9 .2-1.3 .1-.2 .1 2.2 .1 3.1 .1-3 .1 3.1 .1-.2 .2-.3 .1 5.4 .1 1 .1-3.8 .1 6.1 .1 .5 .1-.9 .1 1.7 .1-.4 .1 3.4 .1-.3 .1-1.4 .1 1 .1 4.6 .1-.1 .1-.1 .2 5.3 .1-3.7 .1 .5 .1 4.9 .1-2.4 .1 3 .1 .1 .1 3.5 .1 .7 .1-1.9 .1 5.2 .1-2.8 .1 4.1 .1 1.8 .1-3.1 .1 6.4 .1-3.1 .1 3.9 .1 1.5 .2-3.7 .1 5.9 .1-.5 .1 1.1 .1 3.2 .1-4.5 .1 1.2 .1 .4 .1 3.3 .2-.2 .1 2.9 .1-.8 .1 3.3 .2-4 .1 4.8 .2-3.4 .1 4.4 .1-.5 .2 .8 .1 1.1 .2-.7 .1 6.9 .2-2.3 .1-1 .1 4 .2 4.4 .1 .6 .2 1.5 .1-.6 .2 2.1 .1-2.4 .2 .6 .1 1.5 .2 2.8 .1 1.4 .2-1.9 .1 .5 .2 5.8 .1-.8 .2 3 .2-3.2 .1 2 .2 .4 .1 3.5 .2 1.5 .1-3.3 .2 .6 .1 5.9 .2-1.1 .2 .3 .1 3.4 .2-.5 .2 1.2 .1 2.4 .2 1.9 .1-3.6 .2 4.2 .1-.7 .2 3.3 .2-.9 .1 2.2 .2-.4 .1 2.3 .2 1.4 .2 .2 .1 1.6 .2 1.5 .2-1.8 .2 2.7 .2-.2 .1-1.3 .3 2.7 .2 .3 .2 .2 .2 5.1 .2-2 .3 2.2 .2-1.9 .3 .7 .3 6.5 .3-1.4 .4-2.6 .3 4.5 .3 2.1 .4-1.2 .3-1.1 .4 4.2 .3 .8 .4 2.4 .4-2.2 .4-.3 .4 3.8 .4 4 .4-2.4 .5 2.9 .4-.3 .5 1.3 .4 1.5 .5 .7 .5-.9 .6-.2 .5 3.9 .7 2.6 .6-2.5 .7-1.8 .7 .3 .8 4 .7-1.5 .8 2.5 .7-1.1 .8 2.6 .9-1.2 .8 4.6 .9-1.9 .9 3.5 .9-4.6 .9 4.5 1 2.3 .8 .2 .9-4.2 .9 3.8 .9 1.1 1-2.3 1-.1 1 1 1-2.2 1 3.6 1 1.5 1.1 0 1 .9 1.1-2.8 1.1 .4 1 1 1.1-3.3 1 4.8 1.1-2 1 .1 1.1 2 1-1 1-.9 1-2.5 .9 3.3 1-2.1 1-.7 .9 2.8 1-2.1 1 1.7 .9-.1 1-2.1 .9-2.8 1-2.1 1 3 .9 1.3 1-4.6 .9 1.6 1 .7 .9-1.6 1-.2 1 1 .9-3.7 1-1.6 .9 3.4 1-3.9 .8-.6 .9-.5 .8 1.8 .8-.4 .8-2.3 .9 3 .8-3.4 .8 3.5 .8-.9 .9-3.3 .8 1 .8-.4 .8-3.9 .9-1.6 .8 2 .8-3.1 .8 3.6 .9-.8 .8-4.3 .8-.3 .9-.6 .8-1.3 .8 2.7 .9 1.4 .8-1.8 .9-1.1 .8-2 .8 2 .9-.4 .8 .2 .9-4.1 .8-1.8 .8 3.8 .8-3.7 .8 1.9 .8-2.8 .8 2.2 .8-5 .8 2.2 .9-4.5 .8 .6 .8-1.2 .8 3.1 .8-6.3 .8 3.7 .9-.6 .8 .4 .8-2.9 .8 .6 .9-1.7 .8-1.5 .8 4.7 .8-2.8 .9-2.6 .8 2.2 .8-2.3 .9-1.6 .8-2.1 .8-.7 .8 1.8 .9 .3 .8-.5 .8-3.4 .8 3.8 .9-1.4 .8-3.6 .8-2.3 .8-.9 .8 4.4 .9-3.7 .8 .8 .8-3.2 .8 2.2 .8-1.7 .8-3.4 .9 4.9 .8-1.5 .8-2 .8-1.3 .8 1.7 .8 .1 .9-2.5 .8 1.7 .8-2.4 .8-3.6 .8 .9 .8-2.3 .9 .8 .8-1.1 .8 .9 .8-1 .8-.4 .8 .9 .9-4.2 .8-.4 .8-.7 .8-1.2 .9 1.3 .8-.5 .8-.1 .8 .1 .9-3.2 .8 4 .9-.2 .8-1.1 .9-1.5 .8-1.3 .9 .3 .9-2.6 .9-2.4 .8 4.2 .9-4.8 .9 2.8 .9-.3 .8-1.5 .9-2.4 .9 1.4 .9-5.4 .9 5 .8-2.6 .9-2.6 .9 2.2 .9-1.7 .8-2.2 .9 1.8 .9-1.7 .8 .6 .9-1.4 .9-2.5 .8 .7 .9 2.3 .8-.9 .9-5 .8 3.4 .8-.9 .9-2.1 .8-.9 .8-1.7 .9 .5 .8 2.6 .8-2.4 .9 .9 .8-4.3 .8-.3 .8-.6 .8 2.7 .8-3.6 .8-1.3 .8 2.8 .8-3.9 .8 3.1 .8-2 .8-.3 .7 1.3 .8-5.4 .8 .2 .8-2 .8-.6 .8-.3 .8 .7 .8 .1 .8-3.1 .8 .2 .8 3.1 .8-1.8 .8-4.4 .8 .8 .9-1.6 .8 3.9 .9-3.9 .9 1.1 .8-3.5 .9 1.2 .9 2.3 .9-.2 .9-2.4 .9-2.5 .9 3 .9-5.6 .9 1.6 .9 .9 .9-3.7 1 3.7 .9-.2 .9 .4 .9-.6 .9-4.7 .9-.6 .9-.1 1 3.2 .9-.2 .9-4.3 .9 3.8 .9-.8 .9-1.2 1 1.6 .9 .1 .9-.9 .9-5.1 .9 2.1 .9 .5 .9-1.9 .9 .7 .9-5.6 1 4 .9-.9 .9-.4 .9-2.6 .9-2 1 4.4 .9-4.1 .9 2.2 .9 1.1 .9-2.8 1-.1 .9-3.7 .9 2.9 .9-1.9 .9-2.7 .9-.9 .9 2.6 .9-4.1 .9-.2 .8 5.4 .9-.3 .9-4.4 .8 .3 .9 .8 1-.5 1-.6 1.1-3.1 1 2.7 1 2.2 1-5.4 1 .2 1 3.2 1-2.4 .9-1.7 1-2.3 1-.2 1 .1 .9 0 .9-1.6 1 .5 .9 5.8 .9-1.8 .9-.4 .9-3.4 .9 4 1.1-4.1 1 2.3 1.1-3.6 1 1.2 1-1.2 1 2 1-1.9 .9 .6 1-2.6 1-2.2 .9 5.7 1-1.9 .9-1.3 1-.6 1-.7 .9-2.2 .9 .5 .9 1.3 1 1.4 .9-1.8 .9-1.2 .9 .5 .9-5.5 .9 1.5 1-.4 1 2.1 1 .9 1-3.7 1-.9 1-2.1 1 3.3 1-4.1 1.1 2.4 1.1-4.3 1.1 .5 1.1 1.8 1.1-.5 1.1 3 1-.9 1.1 0 1.1 1.5 1-5.8 1 3.7 1 3.1 .9-3.4 .9 1.9 .8-3.5 .9 4 .8-3.1 .7 4 .8 1.4 .8 .4 .7-2.3 .7 .1 .8 5 .7 .8 .7-1.8 .8-.7 .7 5.4 .8-2.3 .8-.8 .8 3.7 .8 1.4 .8-3 .8 3.7 .8-1.4 .8 5.6 .9-.5 .8-.8 .9 2.4 .8-5.5 .9 1.4 .8 1.9 .8 0 .9 1.1 .8 6.4 .8-1.4 .8-1.6 .8-1.3 .8 3.8 .7-2.7 .7 2.7 .7-1.3 .6-.9 .7 6.5 .6-5.9 .6 6.7 .6-4.9 .6 5.4 .6 2.8 .6-2.1 .6 4.2 .5 2.5 .6-3.5 .6-.1 .6 4.3 .6 1.8 .7-1.1 .6 3.8 .7 .6 .7-.5 .7 1.3 .8-2.5 .9 1.9 .9 .8 .9 .6 .9-.4 .9 1.4 1 2.8 .9-3.7 1 1 1-2.8 .9 5.9 1 1.2 .9-3.7 .9-.4 .9 5.9 .9-4.8 .8 5 .7-5.9 .7 8.6 .7-.4 .7-5 .6 2.3 .6 .2 .7 1.2 .6-.5 .6 .2 .6 4.7 .6-3.2 .6 8.1 .6-7.2 .7 4.3 .6 5.7 .7-6 .7 5.5 .7 1.3 .7-3 .8 .8 .9 5.9 .8-4.9 1 2.4 .9-3.9 .9 4.9 1 1.1 1-2.2 1 3.3 1-6.1 1 6.9 1-.7 1 0 1.1 2.9 1-3.1 1-2.1 1.1 4.4 1-3.5 1 2.5 .9-1.4 .8 4.1 .9 4.2 .8-.5 .9-4.3 .9-.5 .9 .5 .8 4.6 .9 .1 .9-1.7 .9 1.4 .9-2.7 .8 1.5 .9 2 .9 1.2 .9 .9 .9-4.9 .9 6.7 .9-.3 .9-.5 .9-3.9 .9 5.6 .9-1.1 .9 4.7 .9 1.4 .9 .4 1-2 .9 2.7 1 1.7 1-7.2 .9-.5 1 .9 1 1.2 .9 7.2 1-5.5 1 6.1 .9-2.5 1-1.9 1 6.5 .9-3.2 1-2.2 1 4.8 .9 .1 1-3.5 1-1.4 .9 2 1 5.4 .9-5.2 .9-2.3 .9 .4 .9-.9 .9 1.3 .9 2.5 .8 6.3 .9-1.2 .9 3.2 .9 0 .9-3.5 .8 5.1 .9 1.5 .9-1 .9 1 .8-6.6 .9 3.2 .9 2.4 .9-3.4 .9 2.8 .8-1 .9 1.9 .9 .2 .9 0 .9 4.7 .9 2.3 .9-7.6 1 .6 .9 1.7 1-1.5 .9 9.1 1-.7 1 1.4 .9-1.5 1-4 1 1.8 .9 2 1-5.6 .9 1.1 1 4.7 1-.1 .9-2.1 1 .5 1 1 .9 6.9 1-1.7 .9 4.3 1-3.5 .9-.8 .9 .7 .9 6 .9 .3 .9-8.5 .9 3.6 .8-3.2 .9 5.4 .9-.8 .9-1.3 .9 2.5 .8-3 .9 .3 .9 6.5 .9 .5 .8-.8 .9-2.5 .9 4.2 .9-5.5 .9 9.1 .8-3.9 .9-2.6 .9 2.4 .9 .8 .9 3.4 .9 1 .9-4.2 1 6.5 1-3.7 .9-4.1 1 8.7 1-8.4 1 2.6 .9 5.4 1-7.2 1 6.5 1-3.4 1 1.7 .9 2.7 1 2 1 0 1 1 .9-.4 1-5.7 .9 1.7 .9-.5 1 6.2 .9-3.3 .9 1.2 1-1.3 .9 4.6 1-5.1 .9 3.8 .9 2.3 .9-.2 .9-5.8 .9 5.1 .9 4.7 .8-7.1 .9 5.4 .9 3.2 .9-2.3 1-3.6 .9 4.9 1-.6 .9 .8 1.1 0 1 3.8 .9-4.6 1 5.7 1-6.9 1.1 1.3 1.1-.6 1.1-2 1.1 4.6 1.2-.4 1.2 .9 1.2-3.3 1.2-1.2 1.2 2.9 1.1 1.9 1.2-2.7 1.1 4.6 1.2-.3 1 .1 1.1 0 1-1.7 1 2 .9 1.4 .9-2.8 .7 .4 .8 3.7 .6 1.3 .6-2.3 .9-3.4 .8 5.2 .5-4.7 .5 0 .4 3.2 .3 4.3 .4-1.6 .2 1.6 .1-.2 .1 4.4 .1 1 .1-.2 .1 1.2 .1-3.4 .1 2.1 .1 2.1 0 3.4 .1-.6 0 1.3 0 1.4 .1 3 0-5.8 0 5.7 0 1.4 0-1.3 0 3.3 0 2.5 0 .4 0 3.3 0 .2-.1-2.3 0 5.2 0 1.9 0-7.2 0 4.9-.1-1.4 0 5.2 0 1.9 0 .6 0-2.9 0-2.2 0 2.6-.1 5.4 0 5.2 .1-8.1 0 9.9 0-1.1 0-1.7"/>
<path fill="none" stroke="#FFDDB0" stroke-width="6" stroke-linejoin="round" stroke-dasharray="22 10 5 10" d="M273.0 1026.0l.9 .4 1-1.3 1-1.1 .9 .4 1-1.3 1-.7 .9-.4 1-.2 1 .3 .9-.1 1-1.1 .9-.3 1-1.2 .9-.5 .9 1.1 .9-.7 .9-.4 .9-1.3 1-.6 1-.3 .9-.4 1-.7 .9-.2 .9-1.3 .9 .1 .9-.5 .9-.9 .9-.5 1-.3 .9 .3 .9-.7 .9-1.7 .8 .2 .9-.9 .8-.6 .9-.9 .9-1.1 .8-.9 .9-1 .9-1.1 .8-1.1 .9-1 .8-.1 .8 .1 .9-.6 .8-.6 .7-.9 .8 .3 .7 .3 1.1-.7 1 .6 1 0 .9 .5 1-.1 .9 .6 1 .3 .8 .4 .8-.5 .8 .1 .7-1.4 .8 0 .8-1.7 .8 .4 .8-1.3 .8-.9 .9-.9 .9 0 1-1.2 1 .4 1 0 1 .5 1-.9 1.1 .5 1-1 1 .8 1-.7 .9-.2 .9-.7 .9-1.3 .9 .4 .9-1.4 .9-.6 .9 .1 .9-1.3 .8 .3 .9-1.4 .8-.1 .8-.2 1.1-1.1 1-.5 .9-.4 1-.6 1-.4 1-.7 1.1 .2 .8-.6 .8-1.7 .9 1.2 .9-1.4 .9 .1 .9-.1 .9-.4 1-.6 .9-1.2 1 .4 .9-1 .9-1 .9-.5 .9-.8 .9-.6 .9-.1 1-.7 .9-1.1 .9-.4 .9-1.4 .9 .3 .9-1.2 .9 1 .9 0 .9-.8 .9-.2 1-1 1-.2 1 .6 1-1.5 1 .3 1-.4 1-1.1 .9 .1 1-1.1 .9-.1 .8-1 .8 0 .8-.8 .8-.8 .7-.1 .7-1.7 .7-.6 .7-.6 .7-1.1 .7-.6 .7-1.9 .6-.7 .6-1.1 .6-.3 .7-1.3 .6-1 .6-.8 .7-.3 .6-.7 .6-1.6 .6-.5 .6-.3 .6-.6 .6-.2 .5-1 .5-.3 .9-.6 .8-.5 .8-.2 .9-1.3 .4-.9 .3 .2 .4-.3 .4-1.1 .4-.9 .4-.3 .4-1.3 .4-1 .5-.9 .4-1.5 .4-1.4 .5-.6 .4-1.6 .5-.8 .4-1.4 .5-1.2 .4-.6 .4-1.1 .5-1 .4-.3 .5-1.7 .4-1 .4-2.2 .5 0 .4-1.6 .4-.4 .5-1.4 .4-1.5 .5-1 .5-1.8 .4-.3 .5-1 .4-1.5 .5-1.3 .5-.1 .4-.5 .5-.2 .5-1.7 .4-1.6 .4-.1 .5-1.2 .4-1 .4-1.6 .4-1.1 .4-.3 .4-.8 .4-1.4 .4 .1 .3-1.4 .5-.6 .5-.8 .5-1.3 .4-.5 .4-.7 .5-1 .5-.9 .6-1.2 .3-.7 .3-1.2 .3 0 .4-.6 .3-1 .4-.4 .3-1 .4-.4 .4-1.6 .4-1.4 .4 0 .4-.7 .4-.9 .5-1.7 .4-1 .4-.3 .5-1 .4-1.3 .5-1 .4-.6 .5-.2 .5-1.3 .4-1.1 .5-1.1 .5-1.6 .4-.7 .5 .1 .4-1.4 .5-.7 .5-1.2 .4-1.3 .5-.9 .4-.9 .5-1.4 .4-.1 .5-2 .4-.5 .5-1.8 .4-.7 .5-1.2 .4-.3 .5-1.4 .5-.9 .4-1 .5-.3 .4-.9 .5-1.3 .5 .2 .4-1.1 .5-1 .5-1.8 .5-1.3 .4 .1 .5-1.6 .5-.5 .4-.5 .5-1.3 .5-2.1 .5-.3 .4-1.4 .5 .2 .5-1.2 .5-.6 .5-1.3 .4-.2 .5-1.5 .5-.6 .5-1 .5-1.3 .6-.1 .6-.8 .6-.8 .6-1.1 .6-1.3 .6-.2 .6-.9 .6-.4 .6-1.8 .6-.6 .7-1.2 .6-.3 .6-1.1 .6-.9 .6-1.4 .5-.8 .6-.3 .5-.8 .6-.8 .5-.8 .5-.4 .4-1.8 .5-.2 .4-.7 .4-.7 .7-1.2 .5-1.5 .5-1.6 .5 .5 .5-.8 .5-1.4 .8-1.1 .6-.4 .6-.5 .7-1 .8-.2 .8-.8 .8-.7 .9-1.7 .8 .5 .9-.8 .9-.4 .9-1.2 .9 .2 .9-.6 .9-.7 .8-.1 .8-1.4 .8-.6 .8-.1 .7-1.3 .8-.9 .8-.6 .7-.8 .8-1 .7-.6 .8 .1 .7-.6 .7-1.4 .8-1.3 .7-.5 .7 .3 .8-.8 .7-1.9 .6-.4 .6-.3 .6-.7 .6-1.5 .6-1.1 .6-1.1 .6-.6 .6-.3 .5-1 .6-1.4 .6-.1 .6-.8 .6-1.4 .5 .1 .6-1.7 .6-.7 .6-.7 .6-1.7 .6 0 .6-.6 .6-1.9 .6-.3 .7-.6 .7-.5 .7-1.1 .7-.4 .7-1.4 .7-.8 .8-1.2 .7-1.3 .7-.3 .7-2.5 .7-.2 .8-1.2 .6-.4 .7-1.3 .7-.8 .6-.4 .6-.2 .6-.4 .6 1 1.1-.4 .9 .5 .9 1.8 1 1.1 1-.2 .6 .8 .7-.2 .7-.8 .7-.1 .8-1.1 .7-1.2 .8-1.1 .8 .2 .8-.6 .8-1.7 .8-.9 .8-2.1 .7 .2 .8-1.1 .8-1 .7-1 .7-1.1 .7-.2 .7-1 .7-.5 .7-1 .7-.1 .7-1.9 .7-.1 .7-.4 .8-1.7 .7 .2 .7-.7 .7-1 .8-.5 .7-.9 .8-1.4 .6-.6 .6-1.1 .6 .5 .6-1.3 .6-1.8 .6-.4 .6-1.2 .6-.6 .6-.1 .6-1 .6-1.4 .7-.9 .6-.8 .6-1.1 .7-.6 .6-.7 .6-1.5 .7-.1 .7-.8 .6-.7 .7-.1 .7-.3 .7-1.5 .6-.3 .7-1.4 .8-.3 .7-1.2 .7-.9 .7-.4 .6-.3 .7-1.8 .7 0 .7-1.4 .7-1 .7-.9 .7-.1 .7-.4 .8-1.4 .7-.2 .7-1.4 .8-.6 .7-.4 .8 .7 .7-1.2 .8 .1 .7-.4 .8-.6 .8-1.1 .7-.8 .8-.5 .8-1.8 .8 .7 .8-1.1 .8-1.9 .8-1.1 .8-.7 .8-.9 .8 0 .8-1 .8 .2 .8-1.4 .8 .2 .8-.4 .9-1.2 .8-.8 .8 .4 .9-1.3 .8-.4 .9-.7 .8-.3 .9-1.1 .9-.1 .8-.8 .9 .5 .9 0 .9-.7 .8-.9 .9-.7 .9-.6 .9-.5 .9-.1 .9-.4 .9-1 .9-.1 .9-.2 .9-.7 .9-1.1 1 .6 .9-1.5 .9-.2 .9 .3 .9-.7 1 0 .9-1 .9 0 1-.8 .9 .4 1-.1 .9 .4 1-1 .9-.5 1-.3 1-.1 1-.6 .9-.7 1-.5 1-.4 1-.2 1-1.1 1-.4 1 .1 1 0 1-.7 .9-.2 1-.1 1-.2 1 .2 1-.5 1 .1 1 .2 1-.7 1-.6 1-.1 1 .9 1-1.1 1 1 1-.2 1-.1 1-.8 1.1 .3 1-.2 1.1 1.4 1.1-.8 1.1-1.1 1 .2 1.1-.3 1.1 0 1.1 0 1.1 .8 1.1-1 1.1 .5 1.1 .8 1.1 .3 1 .1 1.1 .8 1.1-1.1 1 1.5 1 0 1-.1 1-.3 1 .5 1-.6 .9 .6 .9-.9 .9 .6 .9-.6 .8 .3 .8 0 .8 .3 1.2 0 1.1 0 1.1 .3 1 .2 1-.8 .9-.1 .9 0 .9-.5 .9 0 1-.1 .9 .1 1-1 1 .5 1-.4 1 .5 1-.4 1 .3 1 1.6 1 0 1 0 1 0 1 .1 1 .9 1-.9 1 .4 1 0 1-.8 1-.1 1.1 .3 1-1.2 .9-.2 1-.3 1-.1 1 .2 1-1 1-.1 1 .8 1-.1 .9-.2 .9-.1 .9 .6 .9 1.6 .9-.9 .9 .5 .9 .6 1-.5 1.1 .2 1.1 .3 1.2 .1 .7 .6 .8-1.1 .7-.4 .8 .7 .9-.7 .8-.8 .9 .6 .9-.4 .9-.7 .9 .4 1 0 .9 .3 1 .2 1-.7 1-1 1-.2 1.1-.1 1 .2 1-.5 1.1-.2 1-.7 1.1 .2 1-.3 1.1-.7 1-1.1 1.1-.3 1-.4 1.1-.6 1-.5 1-.1 1.1-.3 1-.5 1-1.1 .9 .6 1-.4 1-1.6 .9 .2 .9 0 1-.6 .9-.6 .9 0 .9 .3 .9-1 .9 .1 .9-.5 .9-.4 .9-1.7 .9 .2 .9-.7 .9-.5 .9-.6 .9-.6 .9-1.1 .9-.5 .9 .2 .8-1 .9 .6 .9-1.5 .9-.1 .9 .3 .9-.4 .9-.8 .8-.9 .9-.5 .9 0 .9 0 .9-.6 .9-.4 .9-.3 .9-1.4 1 .4 .9-.2 .9-.7 .9-1.1 .9-.5 .9 .6 .9-.6 .9 .2 .9-1.5 .9 0 .9 .1 .9-1.7 .9 0 .9-1.5 .9 .2 .9-.5 .9-.1 1-.4 .9-.1 .9-.8 .9-.2 .9 .3 1-.7 .9-.7 .9 .7 .9-.7 .9-.5 1-.7 .9-.2 .9-.4 .9-1.6 .9-.6 1 .9 .9-.8 .9 0 .9-.3 .9-.6 1-.2 .9-.7 .9-.6 .9-.2 .9-1.3 .9 .1 .9 .5 1-.9 .9-.6 .9-.7 .9 0 1-.5 .9 0 .9-1 .9 .3 1-2 .9 .1 .9 .3 1-.9 .9 .1 .9-1.1 .9-.2 1-.8 .9-1 .9 .5 .9-.8 1-.2 .9-.8 .9 0 .9-1.4 .9 .7 1-.7 .9-.8 .9-.7 .9-.3 .9-.9 .9-1 .9 0 .9-1.3 .9-.1 .9-.9 .8-1.1 .9 .4 .9-.8 .9-.4 .8 .1 .9-.5 .8-.5 .9-.7 .8-.3 .8-.2 .9-.6 .8-1.4 .8-1.1 .8-.9 .9 .2 .8-.5 .8-1.2 .8-1 .8-.9 .8-.5 .8 .3 .8 .5 .8-.6 .9-.8 .8-1.1 .8-.8 .8 .1 .8-.8 .8-.2 .8-.7 .9-.6 .8-1.6 .8-.4 .8-.2 .9-.6 .8-.6 .9-.3 .8-1 .9-.3 .9-.7 .8-.5 .9-.6 .9-.4 1 .1 1-1 1-1 1 .7 1-.3 1.1-1.3 1.1-.6 1.1-.1 1.1-.4 1.1-.5 1.1 .2 1.1 0 1.1-1.1 1.1-.8 1.2 .1 1.1-.8 1.1-.4 1.1 0 1-.6 1.1 .1 1-1.4 1.1 0 1-.6 1 .6 .9-.3 1-.9 .8 .8 .9-1.5 .8 .9 .8-.8 .8-.6 .7 .5 .7-1 .6-.3 .6 .5 .5-.8 1.1-.8 .8-.7 .7 .1 .8-1.4 1.1 .4 .5-.3 .6-1.3 .7 .1 .7-.3 .7 .1 .8-1.4 .8-.6 .9 0 .9-.3 .9-1.1 1 .3 .9-.2 1-1.1 1-.7 1.1 .1 1-.9 1.1 .4 1-.1 1.1-1.2 1.1-1.1 1 .7 1.1-.8 1-.7 1.1-.6 1 .8 1-1.4 .9-.2 1-.5 .9-.1 .9-.6 .9 .7 .8-.5 1-1.3 1-.7 1 .2 1-.4 .9-.9 .9-.4 .9-1 .9-.3 .9 .1 .9-.6 .9-.6 .9-.9 .9 .9 .9-.5 .9 .2 .9-1.1 1 .4 .9-.6 1-.2 .9-1.2 .9-.5 .9-.3 .9 0 .9-.1 1 .2 .9-.5 .9-.4 1-1.5 .9 .7 1-.5 1-.7 .9-.3 1-.4 1-1.4 .9-.1 1 0 1-.4 .9 .2 1-.8 .9-.5 1-.7 .9 .6 1-1.6 .9 .4 .9-.6 .9-.8 .9-1.1 .9-.6 .9 0 1-1.1 .9-.9 .9-.1 .9-.8 .9-.4 .9 .2 1-.8 .9-.2 .9 .4 .9-.9 .9-.9 .8-.3 .9-.1 .9-.6 .8 .3 .9-.9 .8-.7 .8-1.9 .8-.9 .8-.3 .8-1.2 .7-1.2 .8-.7 .8-.5 .8-1.1 .7-1.1 .7-1.1 .7-1.2 .7-1.2 .7 .1 .6-.3 .7-1.6 .6 .6 .7-1.6 .6-.8 .7 .7 .6-1 .7-1.3 .7-.5 .7 .5 .7-1.5 .7-.1 .8-1 1-.6 1-.5 1-.1 1.1-.3 1.1 .2 1-1.5 1.1-.5 1.1 0 1.1 .9 1.1 .1 1.1-.9 1 .5 1.1-.3 1 .9 1 .8 1 .5 1-.3 1 .9 1-.1 1 .9 .9 .4 1 .8 .9-.2 .9 1.7 .9-.4 .9 .3 .9-.2 .8 .8 .7-.9 .6-.6 .7 .3 .5-.4 .6-.1 .6-1.4 .5-.9 .5-1 .5-1 .5-2.2 .6-.4 .5-2.1 .5-.6 .6-.6 .5 0 .6-1.4 .6-1.8 .7-.7 .8-.1 .8-.2 .8-.7 .9-1.7 .8-.4 .9-.4 .9-.2 .9-.3 .9-1 1-.6 1-.2 1 .1 1.1-.4 .8-1 .9-.4 .8 .2 1-.8 .9 .2 1-.7 .9-.3 1-.4 1.1-.2 1-.2 1 .5 1.1-1 1 .3 1.1-1.1 1-.4 1.1-.3 1 .7 1.1-.6 1 0 1-1.3 1 .7 .9 .2 1 .6 .9 .2 1-1.3 1 .3 .9-.7 1 .2 .9-.7 .9 .5 1-1.4 .9-.4 .9-.9 .9-.8 .9-.9 .9 .8 .9-1.1 .9-.7 .9 .5 .9-.2 1 .1 .9-.6 1 .5 1-.5 1-.1 1-.9 1-.7 1 .2 1-.1 1-.5 1.1-.3 1 1.3 1.1-.9 1-.3 1 .5 1.1 .8 1-.3 1.1-.5 1 .1 1.1-.9 1-.4 1.1 1 1-1.3 1 .5 1.1-.1 1 0 1-.5 1.1 .1 1 .3 1 .6 1.1-.8 1 1 1.1 0 1-.9 1 1.1 1.1 0 1 .2 1 .3 1.1 .1 1-.7 1 .8 1.1-.2 1 1 1-.7 1.1-.1 1 .6 1.1-.6 1.1 .1 1 1.1 1.1-.6 1.1-.1 1 0 1.1-.7 1.1 .7 1-1 1 1.1 1.1-.2 1-.5 1 1.6 1-1.1 .9 .8 1 1.2 .9-.7 1 .9 1-.1 .9 1.5 .9 .5 .9-.5 .9 .6 .8 .1 .9 1.9 .8 1.3 .9 .1 .9 .9 .8-.4 .9 1.6 1 .1 .9 1.3 1 0 .9 .6 .9 .2 .9 .3 .9 1.5 .9 .1 .9 .9 1 0 .9 1.2 .9-1 1 .8 1 .2 1-.1 1 .5 1 .7 1-.1 1 1.5 1.1 .1 1 .3 1.1 .2 1.1 .9 1.1-1.2 .9 0 .9 1 .9-.7 .9 .3 .9-.3 1-.4 .9-.5 1 .7 1-.8 1 .1 1 0 1 .1 1-.4 1-.3 1 .2 1-1 1.1 .1 1 0 1-.6 1.1 .2 1-.8 1-.4 1-.1 1.1 .4 1-1.1 1-.2 1 .5 1-.5 1 0 .9-1.5 1 .6 1 .1 .9-.9 1.1 .6 1-1 1.1 .6 1-1.2 1 .8 1.1-.4 1-.5 1 1.6 1-.5 1-.8 1 0 1 .1 1-.8 1-.4 1-.3 1 .2 1-.9 1-.2 1 .3 1.1-.5 1 .1 1 1.2 1-.8 1 .6 1.1-1 1 .2 1 0 .9 .2 1-.7 1 .7 .9-.5 1 0 1-1.2 1 .5 1-.7 1-.8 1 0 1 .5 .9-.6 1-.2 1-.2 1-.1 1-.5 1 .5 1-.7 1 1.3 1-1.2 1 .3 1-.9 .9 .1 1-.6 1 .3 1 .2 1-.7 .9-.6 1 .1 .9-.7 1-.8 1-.2 .9-.1 1 .1 1-1.3 1-.1 1-.5 .9-.6 1-.6 1-.6 1 .2 1-.3 1-.3 1 0 .9-1.5 1 .8 1-1.1 .9-.4 .9-.5 1-.2 .9-.7 .9-.7 .8-.8 .9-.1 .9-.3 .8 .2 .8 .1 .8-.7 .7-.2 .8-.1 .7-1.3 1.1 .2 1-1.5 .9-1.6 .8 .2 .8-.7 .8-1.3 .8-.4 .8-.7 .8-.3 .9 .3 .9-1.3 1.1 .7 1.1-.5 .8-.4 .7-.2 .9-.4 .8-.8 .9 1.1 .9-1 .9 .7 .9-1.2 1-.1 1-.3 1 .5 1 .4 1-.6 1-.2 1.1 .1 1.1 .2 1-.3 1.1 .5 1.1 .2 1.1-1.1 1.1 .3 1.1-.5 1.1 1 1.1 .2 1.1-.3 1.1 0 1.1-.2 1.1 0 1.1 0 1.1 .8 1 0 1.1 .5 1-.3 .9 .7 1-.5 1 .8 1-.9 1 0 1 .6 1-.5 1.1-.2 1 .3 1.1 1.5 1 .1 1.1-.3 1-.1 1.1 1.1 1 0 1.1 0 1 .7 1.1-.1 1 .4 1-.5 1.1 .7 1-.2 1 1 1 .4 1-.1 1 .9 1 .3 1 .3 .9-.1 .9-.3 1 1.4 .9-.9 .9 .3 .8 .1 .9 .5 .8 0 .8 0 .8 .2 1.2 0 1.2 .8 1.1-.2 1 .2 1.1 0 1 1.2 1 .5 1 .3 .9-.6 1 .9 .9 .1 1 1.3 .9-.3 1-.6 .9-.6 1 0 .9 .2 .9-.5 .9-.6 .9-.2 .9-.3 .9-.6 .9-.4 .9-1 .9-1.1 .9-.1 .8-1 .9-.3 .9-1.3 .8-.6 .8-1.1 .8 0 .8-.3 .8-.9 .8-.2 1-.4 .9 1.9 .8-.5 .8 1 .8 .2 .8 1 .8 1 .9 .7 1 .2 1 1.3 1.2 0 .7 .3 .7-.4 .8 1 .8-.5 .8 .2 .9-.5 .9 .6 .9 .7 .9-.4 1-.5 1-.4 .9 .8 1.1 0 1-.8 1-.7 1.1-.7 1 .4 1.1-.1 1.1 .2 1.1-1 1.1-.3 1.1 .3 1.1-1.4 1.1 .8 1.1-.6 1.1 .2 1.1-1.1 1.1 .2 1.1-.6 1.1 .7 1 .1 1.1 .5 1.1-1.4 1 .5 1-.1 1-.4 .9-.9 1 1.2 1-.3 1-.2 1 .5 1-1.3 .9 .4 1-.7 1 .8 1-.1 1-1.3 1 .5 1-.2 1-.9 1 1 1-.2 1-1 1 0 1 .7 1.1 .2 1-.3 1-.2 1-.4 1-.5 1-.5 1.1 0 1 .4 1-.2 1 .6 1.1-.1 1 0 1-.3 1.1 .9 1-.5 1.1 .3 1-.4 1-.3 .9-.1 1-.5 1 .9 1-.4 1-.1 1 .9 1-1 1-.4 1 .9 1 .7 1-.3 1-.4 1 .5 1 .1 1-.1 1.1 .1 1-.4 1-.5 1 .1 1 .6 1 .2 1.1-.2 1-.8 1 1.4 1 .3 1-.5 1.1 .8 1-.7 1 .5 1-.4 1 1.2 1-.4 1-1.3 1 1.3 1 0 1-1 1 .2 1 .3 1-.5 1 .6 1-.4 .9 .8 1-.6 1 .2 1.1-.5 1 .2 1 .7 1.1 .1 1-.2 1 0 1-.4 1.1 .3 1-.1 1-.6 1 .1 1-1.1 1 .4 1 0 1-.5 1-.1 1-1.2 1 .7 1 .4 1 .1 1 .1 1-.6 1-.1 1 .2 1 .3 1 0 1 .7 1-.5 1 .5 1 .3 1 .1 1-1.1 1-.2 1 .2 1-.3 1-.9 1 1 1-.4 1.1-1.4 1 .5 1.1-.4 1 .2 1.1-.3 1.1 .5 1.1-.1 1.1-.8 1.1 .8 1.2 0 1.1 .1 1.1-.8 1.1-.3 1.2-.3 1.1-.3 1.1 .3 1.1 .1 1.1-.8 1.1-.1 1.1-.2 1-.3 1.1 .5 1 .1 1-.2 1-.4 1-.6 1 .3 .9-.3 1-.3 .9 .4 .8-.3 .9-.5 .8 .7 .8 1 .7-.4 .7 .6 .7-.6 1.1 .6 1.1 .2 .9 1.1 .9 1.1 .8 .3 .8 .6 .8 .5 .7 .7 .7 .4 .7 .5 .8 .1 .7 .7 .7 .4 .6 1.7 .6 0 .6 1 .6 .2 .6 1.1 .6 1.1 .5 0 .6 1.9 .6 .5 .6 1.1 .6 1.1 .6 .7 .6 .9 .6 .7 .5 .8 .6 1.1 .5 .7 .6 .3 .5 .7 .6 1.1 .6-.5 .6 1.4 .5 .9 .6 .9 .6 .1 .6 1.5 .6 .7 .6 1.9 .6 .3 .5 1.1 .6 .6 .6 1.6 .5 .2 .6 1.1 .5 2.3 .6 .7 .5 .3 .5 .9 .4 1.4 .5 .5 .4 .8 .4 .4 .4 2 .4 0 .4 1.2 .4 1.9 .4 .6 .4 .6 .4 1.7 .4 .1 .4 2 .4 .8 .3 .2 .4 .2 .4 1 .3 1 .4 .7 .4 1.7 .3 .8 .4 1 .3 .6 .4 1 .3 1.1 .4 1.6 .3 1.6 .4 .3 .3 1.8 .4 1.2 .3-.1 .4 2.2 .3 .6 .4 1.7 .3 1.2 .3 .4 .3 1.5 .4 .5 .3 .7 .3 1.4 .3 .1 .3 .9 .3 1.6 .3 .1 .3 1.5 .3 1.4 .3 1.1 .3 1.1 .3 1.3 .3 .4 .4 1 .3 1.5 .3 .2 .4 .8 .4 1.6 .3 .4 .4 .5 .4 1 .6 0 .5 1.9 .5 .9 .6 1.4 .5 .3 .6 1.4 .5 1.9 .6 .8 .7 .1 .6 1.3 .7 .2 .8 .3 .8 .2 .8 .6 .8-.3 .9 0 .9 .7 .9 .4 1 .2 1-.7 1 .1 1.1-.2 1.1 .5 1.1-.4 1.1 .7 1.1-.8 1.1-.3 1.2-.7 1.1-.8 1.2-.2 1.1-.3 .7 .2 .8-.9 .8 .3 .7-.9 .8-.7 .8 .8 .8-.6 .8-1.2 .8-.2 .8-.4 .9-.8 .8-.8 .8-1.1 .9 0 .8-.7 .9 .1 .8-1 .9-1.2 .8-.6 .9-.7 .9-.1 .8-.7 .9-.3 .8-2 .9 .1 .9-.4 .8 .3 .9-1.1 .9-.7 .8-.1 .9-.8 .8-.2 .9-1.8 .8-.7 .8-1.1 .9 0 .8-.6 .8-1.8 .8 .3 .8-1.1 .7-1.2 .8-1.1 .7 .1 .7-.6 .8-.9 .7-1 .7-.2 .8-1.3 .7-.9 .7 .3 .7-1.1 .7-.1 .7-.3 .7-1.8 .8-.1 .7-1.3 .7-.2 .7-.9 .7-.4 .7-.8 .7-1.7 .7-.8 .7-.4 .7-1.7 .8-.2 .7-2.1 .7-.4 .7 0 .7-1.4 .8-.2 .7-1 .8 .3 .7-1.5 .8 .2 .7-1.2 .8-1 .7-.5 .8-.1 .8 .1 .8-.8 .8-.5 .8-.5 .8 0 .9-1.5 .9 .3 1 .3 .9-.9 .9 .3 1-1.6 1-.2 .9-.6 1 .7 1-1.1 1 0 1-.2 1-.8 1 .1 1 .5 1-1.2 1 1 1 0 1-1 1 .4 1-1.1 1.1 .5 1-.8 1-.5 1 .3 1 .2 1 0 1-.8 1 .2 .9-.6 1 0 1 .5 1-1.4 .9 0 1 .3 .9-1 1 .4 1-.6 1.1-.5 1 .5 1-1 1 .4 1-.7 1-.6 1 0 .9-1.3 1-.1 1-.6 1 .4 .9-1.1 1-.3 1-.6 .9-.4 1-.5 1 .1 1 .2 .9-1.3 1 .3 1-.3 .9 0 1-.5 1-.6 1-.4 .9-1.1 1 .2 1 1 1-.1 1.1-.2 1-.2 1.1-.1 1 .6 1.1-.2 1.1-.1 1.1-.6 1.1-.6 1.1-1.3 1.1-.1 1.1-.1 1.1 .1 1.1-.3 1 .1 1.1 .7 1.1-.8 1 .4 1-.5 1.1-.6 1 1 .9-.3 1-.8 .9-.2 .9-.6 .9-.7 .8-.1 .8 .7 .8-.3 1.2 .1 1.1-1 1.1-.2 .9 .4 .9 .6 1-.6 .9 .9 1-.9 1.1 .1 1.2 .5 .8-.8 .8-.2 .9 .9 .9 .5 .9-.5 .9 0 1-.7 1 .7 1 .5 1-1.2 1 1.2 1-1 1.1 .4 1.1 .2 1-.4 1.1 1.3 1.1-.4 1 .1 1.1 1.3 1.1-1.1 1.1 .7 1-.2 1.1 .4 1 0 1 .3 1 .2 .9 .4 1-.4 .9 .9 1 .5 .9 .4 .9 .6 1-.1 .9-.1 1 .5 .9 .4 .9 .1 1 1.3 .9 .1 1-.2 .9 0 .9 .6 1 .1 .9 .7 .9-.7 1 .8 .9 .5 .9 .7 .9 .4 .9 1.1 1 .3 .9 .3 .9-.1 .9 1.3 .9 .1 .9 .4 .9 .7 1 .5 .9 0 .9 1.1 .9-.1 .9-.1 1 1.1 .9 .6 .9 1.1 .9-.4 .9 .9 .9-.3 .9 .9 .9 .9 .9 .1 .9 1.2 .9-.8 .9 .8 .9 1.3 .8 1.2 .9 .4 .9 .1 .8 .3 .9-.4 .8 .7 .9 1.5 .8 0 1.1-.7 1 .1 1.1 .2 1 .8 1.1 .9 1.1 .3 1 1 1 .5 1.1 .3 1-.5 1 .8 1 0 .9 .3 .9 .5 .9 .9 .9-.3 .8-.1 .8 .6 .9 2 .9 .8 .8 .2 .8 .5 .7 1.8 .8-.1 .7 1.3 .6 .5 .7 1.1 .6 .7 .7 .4 .6-.5 .4 .8 .4-.5 .3-1.2 .3 .3 .3-1.1 .3-.8 .2-.7 .3-1.8 .2-1 .2 .1 .2-2.4 .3-.6 .2-1.2 .2-2.4 .2-.6 .3-2 .3-1.1 .2-1.2 .4-2.6 .3-.2 .4-1.7 .4-.9 .4-.6 .5-1.6 .5 .5 .6-1.3 .6-.2 .7-.9 .7-.2 .8-.3 .8-.8 .9-1.4 .8-.1 .9-.7 1-.2 .9 .3 1-.6 1-.4 1 0 1.1 0 1 .3 1.1 .1 1.1 .5 1 .4 1.1-1.4 1.1 1.5 1.2-1.2 1.1 1 1.1-.2 1.1 .9 1.1-.7 .8-.5 .9 .6 .8-.1 .9 .9 .9-.7 .8 .8 .9-.3 .9 .1 1 .6 .9-1.1 .9 1.4 .9-.1 1-.4 .9 1.6 1-.6 .9 .5 1 .6 1 .2 .9 .3 1 .8 1-.1 1 .7 .9-.3 1 .9 1 .8 1 .4 1-.6 1 .4 1 0 .9 .6 1 .7 1 .1 1 1.1 1-.2 .9 .9 1 1 1 .2 1-.5 .9 .7 1 .9 .9-.2 1 1 .9-.2 1 .7 .9 .6 1-.1 1 0 .9 .3 1-.2 .9 1.6 1-.3 .9 0 1 .7 .9-.2 1 .9 .9 1.3 1-.8 .9 1.1 .9-.3 1-.4 .9 1.1 1-.4 .9 1.6 1-.6 .9 .3 1 0 .9 .9 .9 1.2 1 .1 1 .4 .9 .5 1-.5 .9 .3 1-.5 1 .7 .9-.1 1 .3 1 .8 .9-.2 1-.5 1 1.4 1 0 1 .9 .9-.7 1 .4 1-.1 .9 .6 1 .7 1-.5 1 1.2 1 .1 1 0 1-.2 1 .4 1 .7 1-.6 1 .2 1 .6 1-.3 1 .6 1 .6 1.1-.2 1-.2 1 .1 1 1.5 1-.5 1.1 .2 1 1.2 1 .2 1-.2 1 1 1 .2 1-1.3 1 .2 1 1.3 1-.5 .9-.2 1 1.4 1-.5 .9 .7 1 .5 .9 .2 1-.1 .9 .8 .9-.2 .9 .2 .9-.2 .9 .1 1.1 .8 1-1.1 1.1 .9 1 .2 1.1-.1 1 .3 1-.1 1 .2 1 .7 1-.4 1 .7 1 .8 1-.3 .9 .6 1 .9 1-.4 .9 .1 1 1.2 .9 .7 1-1.3 .9 .2 1 .4 .9-.2 1 0 .9-.5 1 1.4 .9-.8 1 .1 .9 .8 1 0 .9 1.4 1-.4 .9 .3 .9 1.7 .9-.8 .9 .5 1 1.6 .9-1.4 .9 .7 .8-.2 .9 1.1 .9 .5 .9 .5 .9-.5 .9 1.6 .9-.6 .9 1.2 .9 1 .9 0 .9 1.3 .9-.1 .9-.2 1 1 .9 .7 .9 1.6 1 0 .9 .5 1-.1 .9 1.5 1 .7 1-.6 1 .8 .8 .6 .8 .1 .8 0 .8 .2 .9 .9 .8-.4 .8 1.4 .9 .8 .9-.3 .8 2 .9 0 .9 1.1 .9 1.1 .9-.3 .9 .7 .9 1 .9-.1 .9 1 .9-.2 .9 1.3 .9 .5 .9-.1 .9 1 1 .7 .9 .8 .9 .6 .9-.3 .9 .2 .9 .8 .9 1.9 1 0 .9 1.2 .9 .6 .9-.2 .8 1.8 .9 .1 .9 .9 .9 0 .9-.3 .8 .9 .9-.9 .8 1.6 .8-.1 .9 .6 .8 .2 .8 1.3 .8-.3 .8 1.1 .8-.2 .7 .7 .8 .1 1.1 .7 1.1 .2 1 1.2 1.1-.3 1 1 1 .1 1 .2 1 .3 1 .5 .9 1.2 1-.5 1 .3 .9 .1 1-.2 .9 .3 .9 0 1 1.4 .9-.6 1 .1 .9 .5 1 .6 1 0 .9 .8 1-.2"/>
<path fill="none" stroke="#FFA03C" stroke-width="6" stroke-linejoin="round" stroke-dasharray="22 10 5 10" d="M273.0 1065.0l.8-1.7 .8-.4 .7-.1 .8-.1 .8-.9 .8-.3 .8-1.6 .7-.3 .8-.5 .8-1 .8 .2 .8-.7 .7-.4 .8-.6 .8-1 .7-1.9 .8-.1 .7-.6 .8-2 .7-.2 .8-1.5 .7-.1 .7-1.8 .7-.4 .7-.7 .7-.5 .7-.1 .7-.5 .8-.7 .7-.3 .7-.8 .6-1.4 .7-.2 .7-.4 .7-.8 .7-.9 .7-.6 .7-2.2 .7-.1 .7-.9 .7 .1 .7-.6 .7-1.7 .7-.7 .7-.3 .7-1.4 .7 .2 .7-2 .7-.4 .7-.6 .7-1.6 .7-.7 .7-.8 .6-.7 .7-1.7 .6 .2 .7-1.3 .6 .6 .9-1 .8-.6 .9-.3 .8-.1 .8-1.3 .8-.4 .8-1.5 .8-.6 .8-.5 .8-1.3 .7-.1 .7-1.8 .7-.5 .6-.7 .7-.5 .7-.3 .7-1.1 .7-1.1 .6-1.7 .7-.4 .7-1.5 .8-1.1 .7 .5 .8-1.6 .8-.7 .8-.3 .8-.4 .9-.2 .8-.9 .9-.3 .8-.5 .9-1 .8-.5 .9-1.2 .8-.9 .8 .8 .9-.4 .9-1.4 .9-.2 .9-1.2 .9 .7 .8-1.3 .9-1 .8 .4 .8-1.3 .7-.7 .7-1.3 .7-.8 .6-.9 .6-1 .5-.1 .5-.6 .5-1.1 .5-.8 .6-1.2 .7 .1 .6-.7 .6-1.7 .7-.5 .7-.7 .7-.6 .8-.7 .8-.1 .8-1.6 .8-.6 .8-.7 .8-.5 .7-1.4 .8-.4 .8-.5 .7 0 .7-1.3 .7 0 .7-1.5 .7 .3 .6-.7 .7-1.3 .6-1.1 .7-.5 .6-1.1 .7-1.5 .6-.1 .7-1.2 .7-1 .7-.3 .7-.6 .6-1.1 .7-1 .6-.4 .7-.5 .6-.8 .7-1.2 .7-.6 .7-1.5 .6-1.2 .7-.4 .7 .1 .7-.7 .7-1.1 .7-.2 .7-1.3 .7-.9 .7-.7 .7-.4 .7-.9 .7-.1 .7-.3 .7-2.2 .7-.3 .7-1 .7-.7 .8-.6 .7 .1 .7-1.3 .7-.6 .8-.2 .7-1.3 .7 .2 .7-.8 .7-1 .6-1.3 .7-.5 .6-.5 .6-.9 .6-1 .6-.8 .6-.7 .6-1.3 .6 0 .5-1 .5-1 .6-.9 .4-.1 .5-2.3 .5-.2 .5-1.6 .4-1.6 .5-.4 .5-.5 .5-2 .5-.3 .4-.8 .4-.9 .4-1 .4-.5 .4-.7 .4-1.1 .4-.3 .4-.9 .4-.6 .4-2.1 .4-.3 .5-1.3 .4-.4 .4-2 .4 0 .4-1.6 .4-.5 .4-1 .4-.9 .4-1.3 .5-1.7 .4-.7 .4-1 .4-.4 .4-1.9 .4-.2 .4-1.7 .4 0 .5-1.2 .4-.8 .5-1.8 .4-.5 .5 0 .5-1.9 .4-1 .5-.1 .4-1.8 .5-.4 .4-2.3 .5-.6 .4-1.5 .5-1.1 .4 0 .4-1.9 .4-.6 .4-.6 .3-.9 .4-.9 .3-1 .3 .1 .3-.5 .4-2.4 .3-.1 .3-1.3 .3 .1 .2-2.3 .3-.7 .3-1.4 .2-1.1 .4-.8 .4-.8 .3-.6 .4-1.3 .4-.2 .3-1 .4 .2 .4-.8 .5-1.7 .4-1 .5-.4 .4-1 .5-1 .5 0 .6-1.9 .5-.4 .5-1.5 .6 0 .6-2 .6 0 .5-1.2 .4-.9 .5-1.5 .5-.7 .5-1.1 .6 .6 .5-1.7 .6-.1 .5-1.9 .6-.2 .6-.8 .6-1.5 .6-1.2 .6-.4 .6-1.1 .6-1.4 .6 .3 .7-1.4 .6-.7 .6-.8 .7-.5 .6-.8 .7-.5 .6-.3 .6-.8 .7-1.2 .6-.9 .6-1 .7-1.1 .6-1.1 .6-.4 .6-.7 .6-.3 .6-1.9 .7-.7 .7 0 .7-1.2 .8-1.9 .7-.4 .7 0 .8-1.2 .7-.9 .8-.5 .8-.5 .7-1.3 .8-.8 .7 .1 .7-.7 .7-1.1 .7-1.2 .7-.6 .7-.3 .6-.7 .6-.8 .6-1.6 .6-.3 .5-1.3 .5-.2 .5-.9 .9-1.3 .8-.7 .6-.5 .8-.7 .9-.7 .6-.9 .6 0 .7 .2 .7-.9 .7-.1 .8-.8 .8-.4 .8-1 .8 .3 .8-.7 .9-1.2 .8-1 .8 .2 .9-1.7 .8-.9 .7-.5 .8-.6 .8-.8 .7-.6 .8-1.3 .8 0 .7-.4 .8-1.3 .7 .1 .8-.8 .7-.9 .7-1.2 .8-1 .7-.8 .8 0 .7-.8 .8-1 .7-.3 .7-1 .7-.8 .6-.9 .7-.2 .7-2 .7 0 .7-1.7 .7-.1 .6-1.1 .7-.7 .7 0 .7-2 .7-.2 .7-1.7 .6-.1 .7-.5 .7-.9 .7-.9 .7-1.3 .7-.6 .7-.9 .6-.5 .7-.4 .7-.9 .7-.7 .7-2 .7-.6 .7-1 .7-.4 .7-1.5 .7-.8 .6 .2 .7-.5 .7-.9 .7-.5 .7-1.4 .6-.3 .7-.4 1-.2 1-.2 .9 .6 1 1.1 1 .5 1 .5 1.1 .1 1.1-.9 .7 .1 .8 .6 .7-.7 .8-.4 .8-.9 .9-.4 .8-.9 .9-.3 .9-.7 .9-1.2 .9-.5 .9 .3 1-1.1 .9-.4 .9-.2 1-.5 .9-.9 1 0 .9-.7 .9-1.4 .9-.9 .9-.4 .9-1.2 .9-.5 .8-.1 .8-1 .8-.5 .7-2.1 .8-.4 .8 .4 .8-1.7 .8-.3 .8 .1 .7-.7 .8-.8 .8-1.3 .8-.1 .7-.4 .8-1 .8-1.1 .8-.4 .7-.4 .8-.6 .8-1.1 .8 .4 .8-1.1 .7-.9 .8 .2 .8-1 .8-1.4 .7-.8 .8 0 .8-1.3 .8-1.2 .8-.4 .7-.5 .8-1.5 .8 .5 .7-1.7 .8-.4 .7-.9 .8-.4 .8 .1 .7-1.8 .8-.5 .7 .8 .8-.6 .8-1.3 .7-.5 .8-1.2 .8-.7 .8-1.1 .7-.7 .8-.7 .8-.6 .8-1 .8-.9 .9-1 .8-.2 .8 0 .8-.7 .9 .2 .9-1.3 .9 .2 .9-1.4 .9-.2 1-.1 .9-.8 1-1.1 .9-.1 1 .2 .9-.2 1-.5 1 0 1-.3 1 .1 .9-.8 1 .5 1-.4 1-1 1-.1 .9-.4 1-1.1 1 .1 .9 .2 1-.7 .9-.5 1 .3 .9-.6 1-1.3 .9 .4 1 .2 .9-.5 1-.8 .9-.9 .9-.2 .9-.3 .9-.7 .9 .2 .9-.9 .9-1 1-.2 .9-.7 .9 .9 .9-1.3 1-.8 .9-.9 1-.3 1 .9 .9-.9 1-.2 1.1 .2 1-.8 .9-.6 .9-.7 1-.1 .9-.5 1 .2 1-.8 1-.9 1 .2 1.1 0 1-.7 1.1-.6 1 .1 1.1 .9 1.1-.8 1 .3 1.1-.1 1.1-.6 1 .3 1.1-.6 1 .9 1.1 0 1-.7 1-.4 1 .2 1-.7 .9 .4 1 .2 .9-.1 .8-.4 .9-.4 .8-.5 .8 .1 .8 .6 1.2-1.7 1.2 .1 1-.4 1.1 0 1 .4 .9-1.1 1 .9 .9-.2 1-1.2 .9 .2 1 .1 1.1-.4 .9 0 .9 0 .9-.4 1-.8 .9 .2 1 0 .9 .3 1-.8 .9-1.1 1-.1 1 .6 1-.2 .9 0 1-.8 1-.4 1-.6 1 .3 1-.9 1-.2 1 .1 1.1 .2 1-1.3 1.1 .5 1-.1 1.1-.3 1-.2 1.1-.2 1-.6 1.1 0 1-.3 .9-.2 1 .3 .9 .6 .9-1 .8 0 1.2 .1 1 .1 1-.8 .9 .3 1 .1 1-1.2 1.1 .2 1.3-.4 .7 .5 .7-1.4 .8 .1 .7-.2 .9-.5 .8 0 .9-.2 .9-.9 .9 0 .9-.6 1 .5 1-.1 .9 .5 1.1-.4 1 .4 1-.3 1.1-.7 1-.2 1.1-.2 1.1-.4 1.1-.3 1.1-1.2 1-.4 1.1-.4 1.1-.1 1.1 .2 1.1-.8 1.1 .6 1-.1 1.1-.2 1-.7 1.1-.2 1-.3 .9-.1 .9-.8 1-.2 .9-1.3 .9-.4 .9 .3 1-.2 .9 .1 1-1.4 .9 .4 1-1 .9 .4 1-.7 .9 .5 1-.6 .9-1.4 1 .3 .9-.9 1 .5 1 .1 .9-1.4 1-.4 .9-.3 1-1.4 1 .9 .9-1 1-.6 1-.8 .9 0 1 .5 .9-1.3 1-.6 .9 0 1 .4 .9-.5 1-1.1 .9 .2 1-.8 .9-.5 1 .4 .9-.3 1-.4 1 .2 1-.2 1 0 1-.2 1-1.3 1-.2 1 .8 1-1.2 1-.1 1 .3 1 .1 .9-1.2 1 .5 1-.4 1-.1 1-.4 1-.8 1 0 1 0 .9-.9 1 .3 1-.6 1-.4 1-.1 1-.1 1 1.1 .9-.8 1-1.1 1 .1 1-.5 1 .3 1-.2 .9-1.2 1-.1 1 0 1 .5 .9-1.4 1-1.2 1 .9 .9-1.2 1-.3 .9-.4 1 0 1-.2 .9-1.3 1 .2 .9-.2 1-1.3 .9 .6 1-.9 .9 .7 1-.4 .9-.7 1-.8 1 .2 .9-1.2 1 .3 .9-.5 1 .2 1-1 .9-1.6 1-.3 1 0 .9 .3 1-.6 1 .1 1-.9 .9-.2 1-.2 1 0 1-.8 1-.3 1-.9 .9-.4 1 0 1 0 1-.7 .9 .7 1-.8 1-.2 1 .3 1 .1 1-.1 1-.7 1 .1 1-.3 1-1.2 1 .7 1 .5 1-.2 1-.7 1 .2 1-.6 1-.2 1 .3 1 .6 1 0 1-.9 1-.2 1-.5 1 .6 1.1-.5 1 0 1-.9 1-.2 1-.3 1-.1 1-.6 1 .6 1-.7 1-.3 1 .6 1-.2 1 .7 1-.8 1 .3 1-.5 1 .6 1-.7 1-.3 1-.1 1-.3 1-.2 1 .2 1-.4 1.1-.7 1-.3 1-.1 1 .4 1-.1 1 .3 1-.4 1-.5 1 .3 1-.7 1 .6 1-.1 1-.5 1 .3 1-.1 .9-1.1 1-.5 1 .9 .9-.1 1-.7 1 .2 .9 0 .9-.2 1-.1 .9 .2 .9-.3 1.1-.5 1-1 1 .3 1.1-.2 1-.1 1-.2 1-1 1 .3 1-1 1-.3 1 .2 1 .1 .9-.2 1-.5 1-.6 .9 .5 1-.9 1-.8 .9 .3 1-.4 .9-.5 1-.4 .9-.5 1 0 .9 .3 1-1 .9 .9 1-.9 .9 .1 1 0 1-.6 1.1 .3 1-.3 1-1.2 1 .2 1.1 .2 1-1.2 1 .1 1-.3 1-.9 1 .1 1 .7 1 .2 1-1.3 1-.3 1-.1 1-.3 1.1 .6 1-.5 1-.6 1 .4 1.1 .1 1 .1 1.1-.2 1-.3 1.1-.5 1-.1 .9 .4 1-.9 1-.1 1 .7 1.1-.6 1 .3 1-.5 1-.1 1.1 0 1-.5 1.1 0 1 .5 1-1.1 1.1 .7 1-.8 1.1 .2 1 .1 1.1-1 1 .6 1-.3 1.1-.6 1-.6 1-.6 1 .8 1-.4 1-.5 1 .5 1 .7 .9-.9 1-.9 .9 .9 1.1-.4 1-.4 1.1-1 1.1-.3 1.1 .2 1.1-1 1.1 .1 1.1-.7 1-.2 1.1-.1 1.1-.6 1-1 1 .6 1-.4 1-.4 1-.7 .9-.9 1 .2 .8-.4 .9 .1 .8 .1 .8-.3 .8 .2 .7-.9 1.2 .8 1.1 1.3 .9 .4 .9 1 1 .6 1-.3 1.2 .3 .7-.2 .7 .3 .8-.2 .8-1.6 .8 .6 .9-1.3 .9-.2 .9 .2 .9-1.4 1 .8 .9-1.2 1-.6 1-.9 1 .2 1-.1 1-1.1 1-.5 1-.4 1-1 1-.4 .9-1.1 1 .6 1 .1 .9-.6 1 0 1-1.2 1 .7 1 .5 1 .1 .9 1 1 .1 1 .1 1-.6 .9 .8 1 .4 1-.4 1.1 1 1-.6 1.1-.5 1.1 .2 1.1 .9 1.1-.3 1.2 .5 1.2-.2 .8-.2 .9 .2 .8 .1 .9 .1 .9-.5 .9 .7 1 .4 .9-1.5 1 .8 1-.5 1-.4 1-.9 1 .2 1-.2 1 .5 1.1 .8 1-.3 1.1-.8 1-.9 1.1 .5 1.1-.3 1.1 .8 1-.8 1.1-.7 1.1-.1 1.1 .3 1-.4 1.1-.5 1.1-.2 1-.2 1.1-.2 1.1 .9 1-.2 1.1-.5 1 .4 1-.3 1-.6 1 .1 1 .6 1 .1 1-.7 .9-.4 1-.4 .9 1.3 1.1-.8 1.1-.6 1.2 .5 1.1-1.4 1.1 .6 1.2-.4 1.1 .5 1.1 0 1.1 .4 1.1-.3 1.2 0 1.1 .1 1.1 .4 1-.5 1.1-.2 1.1 0 1-.7 1.1 1.2 1 .2 1 0 1-.7 .9-.5 1 .7 .9-1 .9 .9 .9-.5 .8 .7 .8 .1 .8-.3 .8 0 1.3 .6 1.1-.4 1.1 .3 1-.3 1 .4 1 .4 .9 .7 1-.6 1 .6 1.1 .8 .8 .3 .9 .2 .8 1.3 .9-.6 .8 1.2 .9-.1 .8 1.6 .9 .6 .9 .2 .9 .5 .9 1.4 .9-.1 1 .5 .9 .9 1 .6 1 .5 1.1-.1 .8 .5 .8 .6 .9 0 .8 0 .9 1.1 .9 .9 .9 .8 1 0 .9 .9 1 1 1 1.1 .9 .5 1 .4 1 1.4 1-.3 1 .3 1 1.1 1 .8 1-.1 1 .9 1 .4 1 .7 1-.5 1 1.6 .9-.6 1-.3 .9 .5 .9-.3 1-.1 .8 .2 .9 .4 .9-.2 .9-1.5 .8 .6 .8-.5 .9-.9 .8-.1 .8-.5 .8-.7 .8-.7 .7-1.1 .8-.3 .8-1.3 .7-.3 .8-.5 .8-.3 .7-1.3 .8-.5 .8-1.5 .7-.3 .8-1.1 .8-.9 .8 .4 .9-1.1 .8-.3 .8-.8 .9-1.3 .9-.8 .9-.8 .9-.6 .9-1 .9 .9 1-.3 .9-1 1-1 1 .7 .9 .1 1-.7 1-.3 1 .6 1-1.1 1-.1 1 .1 1.1 0 1-.8 1 .6 1.1-.2 1 .7 1-.9 1.1 .4 1-.6 1.1 .3 1-1.1 1 .4 1.1-.5 1-.8 1.1-.5 1 .5 1-.2 1-.1 1 .7 .9-.2 1-.5 1-.2 1 .4 1-.2 1-.5 1 .1 1.1-.4 1 .5 1-.8 1 .2 1-.6 1 .2 1 .1 1.1-.3 1 .3 1-.4 1 .9 1-1 1.1 .1 1 .7 1-.3 1-1.4 1.1 .2 1 .6 1-.7 1 0 1.1 0 1-.7 1 .2 .9-.6 1 0 .9-.2 1-.6 .9 .2 1-.8 .9-.3 1-.2 1-1.5 .9 .4 1-.1 .9-.7 1 .4 1-1.1 .9 .8 1-.2 1-.5 .9-.1 1-.9 1-.1 .9-.7 1-1.1 1-.1 .9 .4 1-.4 1-.4 1 .1 .9-.3 1-.2 1-.9 .9-.1 1 .2 1-1.1 1-.4 .9-.1 1 .5 1-.6 1-.3 .9-.6 1 .2 1-.7 1 .4 1-1.6 .9-.3 1 0 1 .1 1-.3 .9 0 1-.2 1-.8 1 .6 1 .1 .9 0 1-.8 1 .3 1 .4 1-.4 1-1.1 1 0 1-.2 .9 .3 1-.8 1 .1 1 .4 1.1-.2 1-.2 1 .4 1 .2 1-1 1 1.3 1.1 0 1-1.3 1 .7 .9-.4 1-.1 1 .5 1-.6 1 .4 1.1 0 1 .6 1-.4 1.1 .7 1 .1 1.1-.3 1 .2 1.1 .3 1.1-.4 1 .1 1.1-1.3 1 .9 1.1 .4 1.1-.3 1 .1 1.1 .6 1-.1 1.1-.4 1 .7 1 1.4 1.1 .2 1 .2 1-.3 1-.3 1 1.5 1-1.1 .9 1.3 1-.5 .9-.4 1 .1 .9 .1 .9 .7 .9-.5 .8-1.2 .9 .8 .8-.2 1.1 .3 1.2-.3 1-1.5 1.1 .4 1-.2 1 .3 1-.4 .9 0 1 .5 .9-.9 .9 .1 1 .2 .9 .1 .9-.3 .9 .1 .9-.8 1-.7 .9 .7 1-1.2 1 1.2 1-1 1-.6 1-.4 1-.3 .9-.8 1-.1 1-.1 1-.7 1-.5 1 .5 1-.6 1-.2 1 .2 1-.6 1 .6 1 .1 1.1-.3 1 .9 1.1-.7 1.1 .1 1.1-.1 1.1 .6 1.1-.6 1.1-.4 .9 0 .9 .3 .9 .5 .9-.9 .9 1 1-.6 .9 .7 .9-.9 1-.2 1-.4 .9 0 1 0 1-.8 1-.2 1-.6 .9 0 1 .1 1.1-1.3 1 0 1 .3 1 .2 1-1.3 1 .3 1.1 .4 1-1 1-.6 1.1 .2 1 1 1 .1 1.1-.3 1-1 1.1 .5 1 .5 1.1-.2 1-.2 1.1-.2 1-.2 .9-.5 1-.7 1 1 .9-1.2 1 .4 1 0 .9 .5 1-.8 1 .5 1-.9 1 .6 1-.8 .9-.4 1-.3 1 .1 1 .2 1 .2 1-.9 1.1 .6 1 .2 1 .3 1-.2 1-.6 1-.5 1 .5 1-.3 1 .6 1.1-.4 1 .4 1-.9 1 .5 1-.3 1-.3 1 .4 1.1-.3 1 0 1-.2 1-.2 1 .4 1-.8 1-.5 1 .6 1 .1 1-.6 1 .5 1-.8 1 1.1 1 .5 1-1 1 1.3 1-1.3 1 .8 1.1-.1 1-.2 1-.3 1 .4 1-.7 1-1 1-.7 1 1.5 1-.8 1 .5 1-.4 1 .4 1-.3 1 .5 1-.8 1 .7 1-.6 1 .8 1-.5 1 .3 1 .7 1 .5 1-.2 1 .4 1.1-.8 1 .9 1-.2 1-.8 1-.2 1 .4 1-.4 1-.2 1 .4 1-.7 1-.1 1 .3 1-.2 1 .3 1 .1 1-.8 1.1 .3 1 .1 1 .8 1.1-.6 1 .2 1-.6 1.1-.2 1 .4 1.1 .2 1 .2 1.1-.4 1 .6 1 .3 1.1 0 1-.5 1.1-.2 1 .9 1.1-.8 1 .6 1-.7 1.1-.1 1 .1 1-.1 1-.4 1.1 .7 1-1.2 1 .5 1-.9 1 .6 .9-.7 1 .5 1-.5 1 .8 .9-.5 .9 .6 1-1.2 .9-.2 .9 1.1 .9-.9 .9 .5 .9 .2 1.2 0 1.1 .3 1.2-.5 1.1-1 1.2 .6 1.1 .5 1.2-.3 1.1-.3 1.2-1.3 1.1-.1 1.1-.2 1.1 .9 1.1 .1 1-.6 1.1 0 1-.1 1-.9 1-.3 .9-.3 .9 .4 .9 .4 .9 .1 .8-1 .8 .6 .7 .4 .7-.5 1.3 0 1.1 1 1 .9 .9 .2 .9 .3 .9 1 .9 .7 .6-.1 .7 1.6 .6 .3 .6 .9 .6 0 .6 1.2 .6 1.3 .5 .6 .6 1.4 .6 .7 .5 1.3 .6-.1 .6 1.1 .5 2 .5 .8 .4 .5 .5 .5 .5 .7 .4 1.6 .5 1.4 .5 1.6 .5 1.1 .4-.4 .5 2.2 .4 .2 .5 1.8 .5 .6 .4 .4 .5 .3 .5 1.7 .4 .1 .5 1.5 .5 .1 .4 1.1 .5 .6 .5 1.5 .4 .8 .5 .8 .5 .7 .4 .8 .5 1 .5 1.2 .4 .7 .5 .3 .5 1.6 .4 .3 .5 1.6 .4 .2 .5 1.8 .4 1.3 .5 .4 .4 2 .4 .8 .4 .4 .5 1.2 .4 .5 .4 1.1 .4 .4 .4 2.2 .4-.2 .4 1.6 .5 .4 .4 .4 .4 1.9 .4 1.8 .4 .8 .4 1.5 .3-.2 .4 1.9 .4 1.1 .4 .5 .3 1.8 .4-.4 .4 1.9 .4 1 .4 .7 .3 .3 .3 1.8 .3 .3 .4 1.2 .3 1.3 .3 1.5 .4 .5 .4 .4 .4 2.3 .5 1.1 .5 .1 .6 1.1 .8 .6 .9-.3 .9 .9 1 1.2 1-.5 1 1.1 1.1-.8 1.1 .7 1.1-.9 .6-.4 .6 .1 .6-.5 .7-.6 .6 0 .7-.3 .6-.4 .7-.2 .7-.9 .6-.4 .7-.3 .7-1.2 .7-1.3 .7-.6 .7-1.2 .8-1.2 .7-1 .7-1.2 .8-.6 .7-1.8 .8-.8 .7-1.2 .8 0 .8-1.7 .7-.8 .8 .4 .8-1.9 .8 .1 .8 .2 .8-1.8 .8-.4 .8 .1 .9 0 .8-1.2 .9 0 .8-1.1 .9-.4 .9-.9 .9-.5 .9-.2 .9-.5 .9-.6 .9-.9 .9-1.1 .9-.2 .9-.5 .9-1 .9-.3 1-.5 .9-.3 .9-.4 .9 .3 .9 .2 .9-1.4 .9 .2 .9-.5 .9-.5 .8-.4 .9-1.1 .9 .2 .9-1.3 1-.4 .9 .1 .9-1.5 .9-.1 .9-.8 .9-.5 .9 .2 .9-.4 .9-.8 .9 .5 .9-1.7 .9-.4 .9 .4 .9-.4 .9 .3 .9-1.4 .9-.6 .9 .3 .9-.3 .9-1.1 .9-.2 1-1 .9 .8 .9-1.4 .9 .4 .8-1.7 .9 .3 .8-.6 .9-1.2 .8-.6 .9-.6 .8-.9 .9-.8 .9 .9 .8-.8 .9-.5 .8-.6 .9-.2 .9-1.4 .8-.2 .9-.9 .9-.3 .9 .2 .8-.3 .9-1.2 .9 .1 .9-1.2 1-.5 .9 .1 .9-.4 .9-.3 1-1.2 .9-.7 1 .1 .9 .3 .9-.7 .8-.6 .9-.9 .9-.5 1 .7 .9-1 .9 .4 .9-1.1 1 .2 .9-.3 .9-.4 1-.5 1 .3 .9-.9 1-.9 .9 .3 1-.6 1 .2 1-.7 .9-.3 1-.5 1-.1 1 0 1-.2 .9 .1 1-.7 1 .3 1-.8 1-1 1 0 .9 .4 1-.5 1-1.2 1 0 .9 0 1-.6 1 .4 1-.8 1-.6 1-.3 1.1 .3 1 0 1 .4 1.1 .3 1 .1 1 0 1.1 0 1 .2 1-.4 1.1 0 1-.9 1.1 .4 1 .2 1-1 1.1-.3 1-.3 1 .8 1.1-.3 1-.5 1 .3 1 .2 1 1 1-.3 1 .2 1 0 1-.1 .9-.3 1 .6 .9 .1 1 .7 .9-.5 1.1-.8 1.1 .9 1-.5 1.1 .9 1-.7 1 .4 1 0 1.1 .6 1-.8 1 .8 1-.2 .9-.1 1 0 1 .4 1-.1 1 .3 .9-.5 1 .7 1 1.1 .9-.2 1 .1 1 .3 .9-.9 1 .6 1 .9 1-.9 1-.1 1.1 .1 1-.1 1-.3 1-1.3 1 .2 1-.9 1 .5 1-.2 1-.7 1 .4 1-.9 1 .9 1-.2 .9-.8 1 .8 1 .2 1.1 .1 1-.3 1-.1 1 .1 1-.4 1 .6 .9-.2 1 .7 1 .1 1-.7 1 .2 1 .2 1 1.1 1-.7 1 .3 1 1.3 1 .5 1.1 .1 1 .1 1 1.8 1 .2 .9-.3 1 .2 1 .4 .9 .8 1 .3 .9 1 .9 0 .9 .8 .8-.3 .9 .6 .8 .4 1.1 .5 1-.9 1 .2 .9 .5 1 1.7 .9-.5 .9 1.1 .8-.2 .9 1.2 .9 .4 .9 .2 .9 1.4 1-.2 1 .7 1 .4 .8 .8 .8-.6 .8 1.2 .8 .9 .9-.8 .9 1.3 .8 .6 .9 1 .9-.6 1 .8 .9 .4 .9 1.3 .9 1 .9-.2 1 .2 .9 1 .9 .4 .9 1.1 .9-.1 .8 .1 .9 1.1 .8 1.2 .8 .4 .8 0 .8 1.4 .8 0 .7 .2 .9 1 .8 .6 .8 .5 .8 1.1 .8 1 .7 1.5 .7 .3 .7 1.9 .7 1.2 .7-.1 .7 1.7 .7-.4 .7 1 .7 1.3 .6 0 .8 1.1 .7 .4 .7-.1 .6 .2 .6-1.3 .5 .5 .6-.3 .5-1.8 .6 .3 .5-1 .5-.6 .6-1.7 .5-1 .6-1.2 .5 .2 .5-1.5 .6-.9 .6-.5 .5-1.4 .6-1 .6-1.9 .6-.8 .6-1.7 .6-.3 .6-1.3 .7-1.4 .6 .1 .7-.9 .7-.7 .8-1.2 .7 .1 .9 0 .8 0 .9-.6 .9-1.2 .9 0 1 .3 .9-.5 1-1.2 1-.4 1-.1 1 .6 1-.4 1.1 .1 1 .5 1.1-.6 1 .4 1.1 0 1.1-.8 1.1 .4 1.1-.7 1.1-.4 1.1-.8 1.1 .1 .9 0 .9 .3 1-1 .9 1 .9-.1 1-.5 1 .5 .9-.1 1 0 1-.3 1 0 1 1.6 1-.6 1 .4 1.1-.9 1-.4 1-.4 1 1.1 1.1 .2 1-.9 1.1 .3 1-.6 1 0 1.1 .8 1 .5 1.1 .1 1-.6 1.1 .6 1 .8 1-.8 1.1 .2 1 0 1.1 .8 1-.3 1 .8 1 .4 .9 .1 1-1 1 .5 .9-.7 1 1.8 1-.8 .9 .8 1-.3 1 .1 1 .1 .9 .3 1 .4 1 .8 .9 .8 1-.3 1 .3 .9 .1 1 0 1 .8 1-.4 1 .3 .9 .1 1 .6 1 .7 1-.6 1 1.4 1 .3 1-.2 .9-.4 1 .1 1 1.5 1-.1 1-.2 1 .6 1.1 .4 1 1.2 1-.3 1 .6 .9 1 1-.8 .9 1.1 1-.9 1 .6 .9 .5 1-1 .9 .5 1 .1 1 .6 .9-.3 1 1.4 1-.1 .9-.1 1 .6 1 .6 1 .1 1-.2 .9 .9 1-1.2 1 .8 1-.2 1 .2 1 1 1-.8 .9 1.1 1-.6 1 1.4 1-.4 1 .3 1 .8 1-.3 1 .8 1 0 1 .5 1 .5 1-.4 1-.6 1 .9 1-.3 1 1.4 1 .5 1-.9 1 .8 1-.1 1 .3 .9 .5 1-.9 1 1.4 1-.3 .9-.4 1-.2 1 .5 1 .5 1 1.4 1 .3 1-.1 1 .2 1-.7 1 .6 1 .4 1-.1 1-.7 1 .6 1 .9 1-1 1 .6 1-.3 1 1.2 1-.1 1 0 1 .5 1-.3 1-.4 1 .7 1-.2 .9 .5 1-.7 1 .4 1-.6 1 .4 1 .9 .9-.3 1-.1 1 1.6 .9 .6 1 .4 1-.1 .9 .6 1 .8 .9-.8 1 .5 .9-.1 1-.3 1 1 .9 .1 1 .4 1 .3 .9-.2 1 1.1 1 .1 .9 0 1 .6 .9 1.1 1-.4 .9 .2 1 .2 .9 .6 .9 .6 1 .5 .9 .4 .9 .4 1-.3 .9 .8 .9-.3 1 .5 .9 .6 .9 .1 .9 .1 .9 1.8 1-.5 .9 .8 .9 .7 .9 .5 .9 .1 1 1.2 .9 1 .9 .9 .9-.7 .9 .5 1 0 .9 1.7 .9-.2 .9 1.1 .9-.8 1 1.1 .9 0 1 1.1 .9 .3 1-.1 1 1.5 .9-.1 1-.4 1 .3 .9-.1 1 1.1 1-1.4 .9 1.2 1-.6 .9 .7 1-.3 1 .6 .9 1.1 1 .5 .9 .3 1 .6 .9 .9 1 1 1-.2 .9 1.1 1 .5 .9-.5 1 .5 .9 .1 1 .5 1-.9 .9 .2 1 .6 .9 .7 1 .2 .9 1.3 1-.6 1 .7 .9-.3 1 1.4 .9 .1 1-.4"/>
<path fill="none" stroke="#C85000" stroke-width="6" stroke-linejoin="round" stroke-dasharray="22 10 5 10" d="M273.0 1089.0l.9-.1 .8-.4 .9-.3 .9-.5 .9 .1 .9-.6 .8-1.4 .9-.1 .9-1.2 .9-1 .9-.3 .8-.8 .9-.8 .8-.1 .9-.7 .8 0 .8-.7 .9-.8 .9 .4 .9-.3 .8-.7 .9-1.8 .9 .9 .8-.8 .9-1 .8 0 .8-1.8 .8-.3 .8-.1 .8-1.1 .8-.8 .8-1 .7-1.3 .8-.6 .7-.7 .7-.8 .7-.7 .7 .3 .7-.7 .7-.9 .7 .3 .7-1 .7-1.8 .8-.6 .8 .5 .9-1.7 .8-.7 .9 .2 .9-.7 .9-.5 .9-1.5 .9-.9 .9-.6 .9-.7 .9-.8 .9-.1 .9-1.1 1 .6 .9-1.7 1-.4 .9 .5 1-1 .9-.4 1-.9 1 .2 .9-1.2 1-.2 .9 .2 .9-.9 .9-.4 .9 .1 1-.5 .9-.3 .9-.8 .9-1 .9 0 1-1.1 .9 0 .9-1.1 .9-.5 1-.4 1 .3 1-.4 1 0 1-.4 1-.4 1-.4 .9 .8 .8-.7 .7-1.1 .7 .4 1-.8 .8-.4 1-.7 .6-.1 .8-.6 .8-.1 .8-.8 1-1 .9 .9 1-1.6 1-.6 1-.3 1-.5 1-.5 1-1.5 .9-.5 .8-.8 .8-.9 .9-.9 .8-.3 .9-.1 .8-.4 .9 .1 .8-.7 .9-.8 .8-.5 .8-1.1 .8-.8 .8 .4 .7-1 .8-1.1 .7-1 .8-1 .9-.5 .7-.3 .8-.7 .7-.2 .7-.4 .7-1.3 .7-1.7 .7 .6 .8-2 .7 .6 .7-.7 .7-1.8 .6-.2 .7-.1 .7-1.9 .7-.1 .6-.2 .7-1.2 .7-1.4 .7-1.2 .8 .2 .7-.2 .8-.9 .9-1.1 .8-.4 .9-.2 .9-.6 .9-1.1 .8 .5 .9 .2 .9-1.3 .8 0 .8-1.6 .8-.3 .8-.5 .8-.6 .8 .2 .7-.8 .8-1.8 .8-.6 .8-.9 .8-1.3 .7 0 .7-1.6 .7-.5 .8-.5 .8-.8 .7-.9 .8 0 .8-1 .8-.4 .8-.7 .8-.6 .7-1 .8-1.1 .8-.1 .7-.7 .7-.6 .8-1.5 .7-1.2 .7-.5 .8-1.8 .7-.3 .7-1 .8-2.1 .7 0 .7-2 .6-.4 .7-.1 .6-.9 .6-.1 .6-.3 1-.6 .8-.7 1-.4 1.1-.9 .7-.1 .7-.5 .9-.5 .8-.2 1-.5 1 .4 1-.7 1-.3 1.1-.1 1-.6 1.1 .2 1-.5 1.1-.9 1-.2 1 .1 .9-.8 .9-1 .9-.5 .9 0 .9-.7 .9 .3 .9-1 .9-.1 .8-.5 .9-.6 .9-.3 .8-1.5 .9-.8 .9-.3 1-.2 .9-.5 .9-1.2 1 .2 1 .5 1-.3 1-1 1.1 .7 1 0 1.1 0 1-.9 1 .4 1-.8 .9-.1 .9-1.1 .9 .2 .8-.6 .7-.3 .9-1.2 .8 .2 .6-1.4 .6-.8 .6 .1 .7-1.7 .7-.8 .8-1.2 .7 .4 .8-1.1 .7-.1 .9-1 .8-.5 .9-1.1 .9-.3 .9-.7 .9-1.1 .9-.9 .9-.6 .9-.2 .9-1.2 .9 .4 .9-.6 .8-.1 .9-1 .8 .4 .9-.1 .9-1 .8-.8 .9-.7 .8-.5 .9-1 .9 .5 .8-1.5 .9-.9 .8-.1 .7-1.3 .8-.5 .7-.7 .7-.1 .7-1.2 .7-.8 .7 .1 .7-1.2 .7-.2 .8-1.5 .7-.7 .7-.7 .7 .2 .7-1.7 .8-.2 .7-1.9 .7-.3 .8-.7 .8-.9 .8-1.5 .8 .5 .8-1.4 .8-.5 .9-.1 .8-1.1 .8 .1 .9-1.9 .8-.4 .9-.4 .8 .3 .8-1.6 .8 0 .8-.8 .8-1.1 .8-.4 .8-.6 1-1.3 1-.7 1 0 .9-.9 1-.3 .9-.3 1-.3 .9 .3 1 .7 .9-1.6 .7-.7 .8-.2 .7-.5 .7-.7 .7-.3 .8-.5 .7-1.3 .7-.3 .7-1.1 .7 .1 .7-1.3 .7-.7 .8-.9 .7-1 .7-1.4 .7-.8 .7 .1 .7-1.4 .7-.8 .7-.3 .7-.7 .7-1.5 .7-.7 .7 0 .7-.6 .8-1.4 .7-.3 .7-.8 .7-.2 .7-.6 .8-.4 .7-.8 .9-1 .8-.9 .9-.7 .8-.8 .9-.7 .8-1 .9-.6 .9-.6 .9-.2 .9-.4 .9-.1 1-.8 .9-1.1 .8-.2 .8-.7 .8 .4 .9-.5 .8 0 .9-.7 .9-1.5 .8-.1 .9-1.7 .9-.1 .9 .1 .8-1.2 .9-.6 .9-.1 .8-.8 .9-.8 .8-.5 .8 .2 .8-.1 .8-1.4 .8-.5 .8-1 .7-.3 .8-.5 .7-.7 .8-2 .7 .2 .8-1.6 .8 .2 .7-1.7 .8 .4 .8-1.2 .9-.4 .8-.6 .9 .5 .9-1.1 .9 0 .9-.5 1 0 1 0 1 .4 1-1 1 .4 1-1 1.1-.3 1-.2 1 .6 1-.4 1 0 1-.8 1 .4 .9-.7 .9-.1 .9-1.4 .8 .3 .9-.3 .7-1 .8-1.8 .8 .2 .7-1.4 .8 .6 .7-1.6 .8 .4 .7-1.8 .8-.2 .8-.2 .9-.6 .8 0 .9-.8 1-1.7 1-.3 .8-.9 .7 .1 .8-.7 .9-.3 .8-.3 .9-.9 .9 .2 .9-.2 .9-.5 .9-.4 1-.8 .9-.7 1-.3 1-1.1 1-.3 1-.6 1-.1 1-.8 1-.1 1-.9 1.1 .9 1 0 1-1.3 1 .4 1-.6 1-.9 1.1 .9 1-.7 1-.7 .9-1 1 .8 1-.6 1 0 .9-.8 1-.4 1.1-1.3 1-.2 1.1-.2 1 0 1.1 .1 1.1 .8 1-1.2 1.1 .2 1.1 .1 1 .9 1.1 .4 1.1-.1 1-.6 1.1 0 1-.4 1 1.1 1.1-1 1-.3 1-.7 1 0 1-.2 .9-.4 1 .3 .9 .2 .9-.2 .9 .3 .9-.8 1.1-.7 1 .4 1.1-.4 1-.6 .9 .2 1-.5 .9-1 .9-.2 1-.1 .9-.5 .9 .6 .9-.7 .9-.7 .9-.9 1-.1 .9-.8 1 .4 1-.1 1 0 .9-.3 1 .1 1-.9 1 .6 1 .1 1 .2 1 0 1-1.1 1-.7 1 .2 1 .2 1.1-1 1 .6 1-.8 1-.6 1 .3 1-.3 1-.2 .9 .1 1-.4 1 1.7 .9-.5 1 0 1 .5 .9-.6 1 .8 1 0 1 .4 1-.3 1.1-.5 1 .2 1.1-.6 1.2 .3 1.1 .1 .8-.2 .8 .1 .9 0 .8-.1 .9 .1 .9-.9 .9 .2 .9 .7 .9-1.2 .9 .6 .9-1.1 1-.5 .9-.1 1-.2 .9-1 1 .2 1-.2 1 0 .9-1.2 1-.2 1-.3 1 .2 1.1-1.4 1-.8 1-.1 1-.3 1-.6 1 .5 1.1-1.2 1 .2 1-.3 1.1 0 1 .3 1-1 1 0 1.1 0 1-.3 .9-.4 1 0 .9-1.3 .9 .1 1-.2 1 .3 .9-.9 1-.3 1 .4 .9-.7 1 .6 1 .1 1-1.3 1 .5 1-.9 1 0 1-.7 1 0 1-.5 1-1.3 1 0 1-.4 1 .2 1-1.1 1 0 1 .5 1-.1 1-1 1.1-.3 1-.6 1-.5 1 .1 1-1 1 .8 1-.7 1-.1 1-.1 .9 .3 1 .1 1 .4 1-.5 1-.9 .9 .5 1 .1 .9-.9 1-.2 1-.1 1.1-.7 1-.2 1 0 1 .1 1 .2 1.1-.8 1-.3 1 .8 1-1.1 1 .1 1 .2 1-1.5 1 .4 1-.9 1 .2 1 .4 .9-.6 1-.3 1 0 1-.6 1-.3 1-.4 1-.4 1-.2 .9-1.1 1-.4 1 .5 1-.3 1-1.1 1 .2 1 .7 1-1.1 .9-.3 1 .9 1-.4 1 .6 1-.4 1 .5 1-.9 1 .2 .9-.2 1-.1 1 0 1 .4 1-1.4 1 .5 1-1.2 1-.7 1 .4 1-.8 1 .3 1-.2 1-.9 1 .3 1-.8 .9 .7 1-1.1 1-.6 1 .8 1-1.5 1 1 1-1 1-.1 .9 .9 1-.9 1 .3 .9-.4 1-.1 1-.8 .9-1.1 .9 .6 1 .1 .9-.9 1 .3 .9-.8 .9 .6 .9-.1 .9-.3 1-.3 1-.3 1-1 1 .1 1-.9 1-.4 .9 .7 1-.7 .9-.3 .9-.4 1-.3 .9-.7 .9 .3 .9-.8 1-.2 .9-.7 .9 .7 .9 .1 1-.7 .9 0 .9-.2 1-.6 .9 .3 1-.8 1-1.2 1-.5 1 .5 1-.4 1-.3 1.1-.6 .9-.5 .8 1.2 .9-.4 .9-.3 .9-.7 .9 0 1-.3 .9 .2 .9-.8 1-.6 .9-.8 1-.9 .9-.3 1 .2 1-.5 .9-.8 1-.1 1 .8 1-.1 1-1.4 1 .4 1 .1 .9-.5 1-1.3 1 .2 1-1.1 1 .4 1-1 1 .4 1-.5 1-.6 1 .5 1-.2 1-.5 1 .2 1-.6 .9-1.1 1-.4 1 .3 .9-1 1 .2 1-.7 .9 0 .9 0 1-.9 .9-.7 1-.2 .9-1.3 1 .1 .9 .5 1-.6 .9-.4 1-.6 .9-.9 1-.4 .9-.2 .9-.1 1-.1 .9-1 .9 .2 .9-1.7 1 .6 .9-.5 .9-.1 .9 .1 .9-.8 1 0 .9 0 .9-.2 .9-.3 .9-1 .9-.4 1 .2 .9 0 .9-1.5 .9-.5 1 .1 .9-1 .9 0 1-.1 .9-.4 .9-.9 1-.4 .9-.7 1-.2 .9 .5 1-.3 1 .5 .9-1.1 1 .4 1-1.1 1-.2 1 .4 1-.1 1.1-1.5 1 .1 1-.4 1.1-.2 1-.5 1.1-.6 1 0 1.1 0 1 .4 1.1-.6 1 .6 1.1-1.1 1 0 1.1-.1 1 .6 1-.7 1.1 .5 1 0 1-.4 1 0 1 .1 1 .1 1-.4 1-.4 .9-.9 .9-.9 1 .6 .9-1.2 .9 .7 .9-.5 .8-.5 .9-.8 .8 1 .8-.4 .8 0 1.1 .1 1.1-.3 1.1-1.4 1 .1 1-.8 1-.2 1-1 .9-.1 .9-.2 1-1.1 .8-.9 .9-1.1 .9 .4 .9-.7 .8-.2 .8-.4 .9-1.2 .8-.4 .9 0 .8-.5 1.2 .1 1.1 .4 1.1-.3 1.1 .9 1.1-.1 1.1 .8 1 .2 1 .2 1 .4 1-.4 1 .7 1.1-.7 1 .3 .9-1.2 1-.4 .9 .3 1-1.1 1 .3 1.1-1 .8-.4 .9 .6 .9 0 .8 .3 .9-1.3 1 .2 .9-.4 1 .3 1-.2 1-.1 1 .4 1.1-1.6 1.1 0 1.1-.2 1.2-1 .8-.4 .7-.6 .8 .3 .9 0 .8-.8 .8 .1 .9 .4 .9-1 .9-.7 .9 .3 .9-.4 .9-1.2 1 .5 .9-1 1 .1 1-1.3 1 .5 .9-.9 1 .3 1-.9 1.1 .8 1-.7 1 .2 1-.8 1 .2 1.1 0 1-1.2 1-.6 1-.7 1.1 .2 1 .1 1-.9 1.1-.6 1-.4 1-.2 1-.9 1 .5 .9-1 1-.3 .9 .2 1 .3 .9 .6 1-.3 1 .1 .9-1.4 1 .9 1-1 1 0 .9-.2 1-.2 1-.8 1-1 1 .3 1-.7 .9-.1 1-1.2 1 .9 1-1 1-.4 1 1.1 1-.2 1-.2 1-.2 1-.2 1-.3 1-.3 1-.1 1 0 1-1 1-.4 1-.2 1 0 1-.1 1 .5 1-.9 .9 .5 1-.4 1 .8 1 0 1 0 1 .1 1-.4 1-.8 1.1-.3 1 .2 1 0 1.1 0 1 .2 1.1-.1 1.1-.1 1 .6 1.1-.3 1 0 1.1 .2 1 .6 1.1-.4 1.1 .5 1-.1 1.1 .5 1-.1 1 .4 1.1 1.4 1-.6 1 .8 1 0 1 .4 1 .9 1-1.2 .9 1 1-.9 .9-.2 1 .6 .9 .2 .9 .3 .9 .3 .8-.5 .9 .9 .8 0 .8-.2 .8 .6 1.1 .7 1.1 0 1 .5 1 1 1-.1 .9 .8 .9-.3 .9 1 .9 .6 .9 .8 .8 .3 .9 .8 .8 .2 .9 1.6 .8 .6 .9 .4 .8 .7 .9-.6 .9 1.2 .9-.3 .8-.2 .9-.6 .8 .2 .8-.2 .8 .2 .7-1 .8 .1 .8-1 .8-.3 .8-1.2 .7-.9 .8-1.3 .8-.8 .9-.2 .8-1 .8 .4 .9-1.7 .9-.3 .9 .2 1-1.3 .9-.4 1.1-.7 1-.2 .8-.5 .8-.5 .9-.1 .8-1.7 .9 1 .9-.5 .9-.3 1-1.1 .9 .8 1-.5 1 .4 1-.7 1 .1 1-1.4 1.1 .6 1-1.1 1-.2 1.1 .2 1.1-.3 1-.3 1.1-.5 1.1 .8 1.1-.8 1-1.1 1.1 .2 1.1 .7 1.1-.4 1.1-.9 1 .7 1.1-.3 1.1 0 1 .3 1.1 0 1-.2 1-1 1.1 0 1 0 1-.1 .9-.8 1-.2 1-.3 .9 0 1-.6 1.1-.2 1 .1 1.1 0 1 .3 1.1-1.6 1 .2 1.1-.2 1-.6 1.1 .1 1.1-1.2 1 .1 1.1-.4 1 .3 1-.7 1 .2 1.1-.9 1 .3 .9-1 1-.7 1-.3 .9 0 1 .2 .9-.8 .9 .4 .9-1 .8-.2 .8-.4 .8-.5 .8-.8 .8-.5 .7-.1 .7 0 .7-1 1.1 0 1-1.1 .8-.2 .8-.4 .8-.6 .7-.8 .7 .3 .8-.1 .9-1.7 1-.2 1.1 .1 .7-.3 .8 0 .8-.6 .8-.1 .8-.8 .9 0 .9-.7 1 .1 .9-.1 1 .6 1 .1 1.1-.9 1 .5 1.1-1.1 1 .4 1.1-.7 1.1 .3 1.1-.1 1.1-.7 1.2 1 1.1 .5 1.1-1.1 1.1-.1 1.1-.4 1.1 .5 1.1-.5 1.1 0 1.1 .5 1.1-.8 1 .4 1.1 0 1-.2 1-.1 1.1 .2 1-.1 1.1-.4 1 .6 1.1 .3 1.1 0 1.1-.4 1 .8 1.1 .6 1.1-.5 1.1 .2 1.1 .6 1.1 .2 1.1-.3 1 0 1.1-.1 1.1 .6 1-.6 1.1 .7 1 .3 1 .1 1-1.1 1 .1 .9 .4 1 .5 .9-.1 .9 .2 .8-.1 .9-.2 .8 .3 .8-.1 1.1-1.2 1.1-.2 1 0 1-1.5 .9-.5 .8-.5 .9-.6 .9-.2 .8-1.4 .9-.3 .9-.4 .9-.8 1 .6 1-1.1 .9-.1 .9 .8 .9-.1 .9 .4 1-.9 .9-.1 1-.1 1-.1 1-.5 1-.4 1-.5 1-.4 1.1-.2 1-.5 1 .9 1-1 1-.7 1 .6 1-1.4 1 .7 1-1.3 1 1 1-1 1-.4 1 .6 1 0 1-.1 1-.7 1-.2 1 .7 1 .2 1-.3 1 .1 1 .2 1 .4 1 .3 1.1-.6 1 1.1 1-.4 1.1-.5 1 .1 1-.4 1 .3 1.1-1 1.1-.1 1-.3 1.1 .6 1.1-.4 1.1 0 1.1 .4 1.1-.7 1.1 0 1.1 .4 1.1-.5 1.1-.8 1 .3 1-.1 1 .8 1-.6 .9 .8 .9-.7 .9 .2 .8 .6 1.1-.1 1 .1 1 .9 1-.2 .8 .7 .9 1.1 .9 1.1 .8 .9 .9-.3 .9 .3 .9 .1 1 .7 1-.6 1.1-.5 1-.3 1 .5 1.1-.5 1-1.1 1 .9 1.1-1 1-1.1 1 .9 1.1-1.3 1 .4 1-1.2 1 .6 1.1-1.6 1-.2 1.1 .9 1 .1 1.1-.8 1-.3 1.1-.9 1.1 .2 1.1 .2 1.1-.2 1.1 1 1.1-1.4 1.1 .7 1-1.7 1 .3 1-.4 1-.3 .9-.5 .8-.6 .8-.3 .8-1.6 .8-.1 .9-.7 .9 .1 .9-1 1.1 .2 .9-.4 .9-.4 .9-.3 1 0 1.1 .6 1-.3 1.1 .1 1.1 .1 1.1-.2 1.1 .7 1.1-.2 1.1 .2 1.1-.4 1.1 0 1 .5 1-.2 1-.3 1-1.1 1 .4 1-.8 1 .7 1-1.1 .9 0 .9-1.1 1 1.2 .9-1 .9-.2 .9-.4 1 0 .9 .1 .9-.4 1-.8 1 .4 1-.3 .9 .6 1 .8 .9 .6 1 1 1-.7 .9 1 1 .9 1.1-.3 1 1 1-.4 1 .7 1-.2 1 .2 1-.3 1.1-.1 1 .5 1.1-.8 1.1 .1 1-.1 1.1 0 1.1 .4 1.1-.4 1.1-.2 1-.3 1-.8 1 .8 1.1-.5 1-.2 1-.8 1.1 1 1-.7 1.1 0 1 .3 1.1-.9 1 .1 1.1-.6 1-.1 1.1-.7 1.1 .5 1 .2 1-1 1.1-.5 1 1 1 .2 1.1-.3 1 .2 1 .4 1.1-1.3 1 .7 1.1 .2 1 .4 1 .5 1.1 .3 1-.9 1.1 .5 1 .1 1.1-.3 1 .1 1-.2 1 .4 1-.4 1 1 1-.2 1 .6 1-.3 1-.7 1 .3 1 0 1 1.1 1-.3 1 .2 1-1.1 1 1.2 1.1-1 1 .4 1 .9 1-.1 1-.3 1.1-.4 1 .8 1 0 1.1-.1 1 .4 1.1-.4 1-.7 1-.6 1.1 .7 1 .3 1.1-.8 1-.2 1-.5 1.1 .7 1 .5 1-.3 1-.3 1-.7 1.1 .3 1.1-.3 1.1 .1 1.1 .3 1.1 .1 1.1-.8 1.1 .5 1.1 .6 1 0 1.1-1.2 1 1.2 1.1 .4 1-1.2 1 1.5 .9-.9 .9 1.4 .9-.5 1 .9 1 .4 .9 .9 .8-.4 .9 .7 .8 1.1 .8 .2 .8 .5 .8 .8 .8-.3 .8 1.3 .9 .9 .8 .6 .9 .4 .8 1.4 .9 .7 .9-.6 .9 .8 .8 1 .9 1 .9-.1 .8 .7 .9 .5 .8 1.7 .7-.7 .8 1.2 .7 1.4 .7 1.4 .7 .9 .7 .2 .7 1.7 .7 .7 .6 .9 .6 .6 .6 1.1 .6 .9 .6-.3 .5 2 .6 .3 .5 .3 .4 .8 .5 1.2 .4 1 .3 1.4 .4 .8 .3 1.1 .4 1.8 .3 .7 .3 .5 .3 .5 .3 .7 .3 .9 .4 .2 .3 1 .3 1.9 .3 .7 .4 .6 .4 1.1 .4 1 .4 2.2 .3 .6 .4 .2 .4 .9 .3 2.2 .4 .9 .5 1.5 .4-.5 .4 .9 .5 1.6 .5 .3 .6 .9 .6 1.1 .6 0 .7 1.5 .7 .4 .8 1.1 .7 .3 .8 1.7 .8 1.1 .8 .8 .7 .4 .8-.2 .8 1.1 .8 .9 .7 .2 1 1.4 1-.4 1-.8 1 1.2 1-.7 1.1 .1 1 1.1 1-1.2 1 .1 1 .7 1.1-.6 1 0 1.1-1.3 1.1-.9 1.1-.1 .8-.1 .8-.2 .8-.6 .8-.9 .8-1.4 .9 .5 .8-1.4 .9-.1 .9-1.5 .8-.7 .9-.4 .9-1.4 .9 .4 .9-.5 .9-.6 .9-1.1 .9-.2 .9-.6 .9-.9 1 0 .9-.7 1-.5 1 .1 .9-.6 1 .7 1-.9 .9-.9 1 .3 .9-.9 .9-.9 .9 .7 .9-.2 .8-1.1 1-1.5 .9 0 .9-1.2 .9-.8 .9 .6 .8-.5 .9-1 .8-.3 .9-.3 1-.2 1-.5 .7-1.1 .8-.2 .8-.8 .7-.6 .9-.9 .8 0 .8 .1 .9-.8 .8-1.5 .9-.3 .9-.6 .9-.6 .9-.5 .9-1 .8-.4 .9-.2 .9-.5 .9-.5 .9-.3 .8-1.2 .9-.6 .8-.5 .8-.2 1 .5 1-.7 1.1-.1 1-.5 1-.6 1-.7 1 .1 1 .1 1-1 1 .4 .9-.3 1-.7 .9 .2 .9 .3 1-.3 1-.5 .9-.8 .9 .4 .9 .6 .9-1.2 .9 .9 1-1.8 1.1-.2 1.2-.3 .7 .4 .8-.7 .8 .9 .9-1.1 .9-.3 .9 .8 .9 .1 1-.9 1-.5 1-.6 1.1 .1 1-.8 1.1-1.3 1.1-.3 1.1 .3 1.1-.6 1.1-1.3 1.1 .4 1.1 0 1.1-.8 1 1.1 1.1-.5 1.1-.1 1 0 1.1 0 1-.1 .9-.8 1-.6 .9 .3 .9-.7 .9 .8 1 .1 1.1 .8 .9-.4 1 1.1 .9 .5 .9 .3 .9 .6 .9 .2 .8 1.4 .9 .1 .8 .9 .9 0 .9 1.4 .8 1 .9 .7 .9-.1 1 .6 .9-.3 1 1.2 1 .6 .9 .5 1-.1 1 .1 1-.4 1 0 1 .5 1.1-.9 1 0 1.1 1.2 1.1-.2 1-.7 1.1 .1 1.1 .3 1.1 .6 1.1 .1 1 0 1.1 0 1.1-.9 1 1 1.1-.1 1 .8 1-1.3 1-.1 .9 .9 1-.6 1.1 .2 1.1-.1 1-.1 1-.4 1-.2 1 .5 1 .5 .9 0 1-.7 1 .7 1 .3 1-.1 1.1 .2 1.1-.5 1.1 .2 1.2-1.1 1.3 0 .8 .5 .8 .2 .8-.6 .9 .2 .8-.6 .9 .8 1-.1 .9 .5 1-.4 1-.4 1 .2 1 1.3 1.1-1 1 .5 1.1-.1 1.1 .3 1.1 .3 1.1-.2 1.1 1 1.1-1.1 1.1-.3 1.1 .6 1.2 .4 1.1 .1 1.1-.4 1.1 .4 1.2 .6 1.1-.4 1.1 0 1.1 .8 1.1 .9 1.1-.4 1.1 .4 1.1-.3 1.1-.3 1-1 1 .8 1.1-1 1 1.2 .9-.1 1 .9 .9-.2 .9-.2 .9 1 .9-.3 .8 .4 .9 .7 .7-.1 .8-.5 1.2 0 1.1 1 1.2-.2 1-.1 1.1-.6 1 1.2 .9-.6 1 1.3 .9-.6 .9 .4 .9 .6 .9 .5 .8 .1 .9-.1 .8 1 .9 1.9 .8 .5 .9 0 .9-.1 .8 1 .9 1.2 .8 .2 .8 .6 .8 .3 .7 .5 .8 .8 .8 .6 .7 1.7 .8 .5 .8 .5 .7 .4 .8 1.2 .8 .7 .8 1.1 .8-.7 .8 1.2 .8 .4 .9 1 .8 .4 .9 .1 .9 1.5 .8 .2 .9 1.7 .9 .1 .8 1 .9 1 .9 .1 .9 1 .8-.4 .9 .4 .9-.2 .8 1.1 .9-.2 .9 .2 .8-.2 .9-.1 .8-.6 .9-.9 .8-.7 .9 0 .8 .2 .8-.8 .9-.8 .8-2 .9-.6 .9-.2 .9-2 .9-1 .9 0 .9-1.6 .9-.2 .8-.2 .9-.6 .9 .3 .9-1.3 .9 .2 .9-.1 .9 .1 .9-2.1 .9-.7 .9 .1 1-.5 .9-.7 1-.8 1-.3 1-1.4 1-.1 1 .4 1 .4 .9 .3 .9 .1 .9-.6 .9 1.2 .9-.1 1-.8 .9 1.2 1 .3 1 .6 .9-.4 1 .9 1 1.1 1 .3 1-.3 1 .9 1 .4 1 1.3 1-.8 1.1 .3 1 .2 1 1 1 .4 1 0 1.1 .8 1 0 1 1.5 1-.2 1 .8 .9-.8 1 1.4 .9 .5 1-.2 .9 .3 1-.2 .9 .4 1 1 1-.1 .9 1.2 1-.1 1-.2 .9 .4 1-.5 1 .2 1 .9 .9-.3 1-.2 1 .1 1 .4 1 .3 1 1 1 .6 1 .2 1.1 .5 1 .5 1 .9 1.1-.5 1-.1 .9 .9 .9 .8 .9-.3 .9 .6 .9-.6 1 .7 .9 .3 .9 1.2 .9-.4 1 1.4 .9-.6 1 .4 .9 .3 1 .2 .9 .1 1-.1 .9 .3 1 .6 .9 .7 1 .5 1 .3 .9-.8 1 .3 1 .7 1 .3 .9 .4 1 .6 1 .6 1-.5 1 .7 .9 .7 1 .5 1 .2 1 .2 1 .9 1 .1 .9-.1 1 .5 1 .1 1 0 1-.1 1 0 .9 .2 1-.1 1 .8 1-.2 1 .4 1-.3 1-.2 1 .9 1 .3 1 .3 1-.9 1-.2 1 1.5 1-.8 1-.3 1 1 1.1-1.2 1 1.1 1-.6 1 .1 1 1.1 1-.5 1 1.2 1 0 1.1 .2 1 .2 1 1 1 .2 1 .3 1-.5 1-.7 1.1 .9 1-1 1-.1 1 .1 1-.4 1 .3 1 1.4 1-.9 1 .7 1-.3 1 .9 .9-.2 1 1.1 1 .8 1-.8 1-.2 1-.1 1 .3 .9 .7 1-.1 1-.1 1 1.2 1 .2 1-.6 1 .5 .9-.2 1 .5 1-.3 1-.2 1-.1 1 .9 1 .6 .9 1.1 1 .7 1 .2 1-.2 1 1.1 1 .2 .9 .9 1-.8 1 .1 1 .1 1-.1 .9 .8 1 .2 1-.9 1 .2 .9 .9 1 .4 1-.1 1-.4 .9 .3 1 1.3 1-.3 .9 .9 1-.4 1 0 .9 .4 1-.3 .9 1.1 1-.6 1 1.3 .9-.8 1 .6 1 1.6 .9-.5 1 .7 .9 1.1 1-.6 1 .8 .9 .6 1 .8 .9 .1 1 0 .9 .5 1-.2 1 .5 .9 0 1 1 .9-.1 1-.2 .9 .6 1-.4 .9 .4 1 .6 .9-.1 1 .7 .9 1.1 1 .4 1 .1 .9 1.2 1-1.1 .9 1.1 1 .3 1-.3 1-.2 1 0 1 .7 .9-.3 1 .9 1 .3 1 .3 1-.5 1 1.1 1-.5 1 .2 .9 .5 1 .8 1-.9 1 .9 1 .2 1-1.1 .9-.4 1 1.1 1 .7 1-.7 1 .9 .9 0 1 .1 1 0 1 0 1 .2 1-.1 .9 0 1 .1 1-.3 1 .6 1 .3 .9 .2 1 0 1 .3 1 1.1"/>
<path fill="none" stroke="#000000" stroke-width="6" stroke-linejoin="round" stroke-dasharray="22 10 5 10" d="M273.0 1113.0l.4-1 .4-.7 .3-.7 .5-.4 .5-1.9 .8-1.1 .7 .2 .7-.4 .9-.6 .9-.1 1.1-.8 1 .4 1.2-.9 1.1 0 1.2 .7 1.1-.5 1.1-.7 1.1 .9 1-1.5 1 .3 1 0 1-1 .9-.4 1-.3 .9-.9 .9-.5 .9-.2 .9-.2 1-1.2 1-.3 1.1-.8 .8 .2 .9-1 1-.7 1-.8 1.1-.1 1-.2 1.1-.9 1.1-.1 1.1 .8 1.1-.8 1.1-.2 1.1 .1 1-.4 1-.8 .9-1 .9 .4 .8-1.2 .7-.7 .7-.3 .5 0 .9-.3 .7-.7 .9-.4 .6 0 .7-.6 .7-1.3 .9 0 .9-.5 .9-.9 1-.5 1-1 1.1-.3 1 .3 1.1-.5 1.1-.3 1 .2 1 .2 1-.9 .9-.5 1-.9 1 .1 1 0 1-.7 1-.9 1-.2 1-.8 1 .1 1-.5 1 .1 .9-.3 1-1.2 .8-.7 .9-.5 .8 0 1.1 0 1 .4 1-.8 .9 .5 1 0 1 .1 1.1 0 .8 .7 .8-1.6 .9 .7 .9-.9 .9-.5 1 .7 .9-1.2 1 .5 1-1.5 1-.3 1-.7 1.1 .2 1-1.2 1 .7 1-1.1 1 .1 1-.7 .9-.6 1 .3 1 .1 1 .4 1.1-.9 1-.5 1-.5 1 .1 1.1-1 1-.1 1-1 1-.6 .9 .7 1-.5 .9 .1 .9-.2 .9-1.2 1.2 .6 1.1 .1 1.1-.4 1-1.3 1 .8 1.1-1 1-.1 1-.4 1 .9 1-1 1.1 .4 1.1 0 1 .1 1.1-.3 1-.7 1.1-.3 1 .3 1.1 .1 1.1-1.3 .9 .1 .8-1 .9-.2 .9-.3 .9-.6 .9 .2 .9-.9 .9-1.7 .9-.9 .9-.1 .9-.3 .9-2 .9 .3 .9-1.4 .9-.5 1 .5 .9-.3 1.1-1 1-.2 1-1.3 1 0 .9-.5 1-.4 .8-.8 .9-.7 .7-.2 .6-.2 .6-.7 .9-.7 1 .3 .5 0 .6-.8 .7-.9 .7 .9 .8-.6 .9-1.1 .9 .2 1-.6 1-.8 1 .3 1.1-1 1.1-.1 1.1-1 1.1-.1 1.2-.4 1.1-1.3 1.1 .4 1.1-1.1 1.1-1 1 .1 .9-.9 .9 .4 1 .2 1-1.2 1-1.1 1.1 1.1 1-.6 1.1 .5 1.1-1 1-.3 1.1-.3 1.1-.2 1.1 0 1 .4 1.1-1.2 1-.5 1-1 1-.2 .9 .6 .9-.5 .9 0 .8-.6 .8-.6 .8-.1 .7-.3 .6-1.2 1-.4 .9 .1 .6-1.6 .7-.3 .7-.6 .8-.8 1 .1 .6-.2 .7-.5 .7 .1 .7-.4 .8-.4 .8-1.6 .9 .1 .9-.4 .9 .1 .9-.8 1-.8 .9-1.2 1-.3 1-.6 1 .4 1.1-1.1 1 .3 1-1.2 1.1-.9 1-.2 1-.1 1.1-.6 1-.8 1 .1 .9-.1 1-.9 .9-.4 .9 .6 1-1 .9-.6 1 .1 .9-.5 1-.6 1-.3 1-.7 1-.4 1-.3 1 .3 1-.5 1-1.5 1 .3 1-1.4 1-.2 .9-.5 1-.1 .9-.7 .9-.4 1-.3 .8-.3 .9-.3 .9-.5 .8-.8 .8-.2 .7-1.7 .8 .4 .7-1.2 1.3 .1 1.1-.1 1.1-.6 1.1-.1 1 .4 .9 .7 1 .2 1 .1 1.1-1.4 .8 .5 .7-.1 .8-1.7 .8-.2 .8-.7 .8-1.3 .8-.5 .7-.3 .8 .4 .8-1.2 .8-.4 .8-1.3 .8-1.2 .8-.4 .8-1.5 .8 0 .8-.8 .8-.4 .8-1 .9-.9 .8-1 .8-.7 .8-.2 .8-.9 .9-1.3 .8-1 .8-.2 .9-.5 .8 .1 .9-1 .8 .1 .9-.8 .9-.1 .9-1.3 .9 0 .9-.8 .9-.5 .9-.3 .9-.4 .9-.5 1-.5 .9-.4 1-.4 1-.8 .9 0 1 .1 1.1-1 1 .6 1.1-.8 .8-.9 .8 .2 .8 .2 .8-.4 .9-.9 .8-.5 .9-.3 .8-1 .9 .2 .9 .1 .9-.4 .9-1.5 .9 .9 .9-1 .9-.8 1 0 .9-1 .9-1 1 0 .9-.6 1-.2 1-.8 1 .1 .9 0 1-1.8 1 .3 1-.7 1-.6 1-1.5 1-.6 .8-.2 .8-1.2 .8-.4 .8 .2 .9-1.3 .8 0 .9-1 .8 .1 .9-1.1 .9 .6 .9-.7 .9-.2 .9-1.3 .9-.7 .9 .2 .9-.7 .9-.9 .9 0 1-.6 .9-1.1 .9-.7 .9 .2 1-.5 .9-.4 .9-1.1 .9-.9 1 .4 .9-1.1 .9-.6 .9-.4 .9-.4 .9-.7 .9-.5 .9 0 .9-1 .9 .2 .9-.9 .9-.8 .8 .1 .9 .1 .8-.9 .9-.3 .8-1.4 .8 .6 .8-.8 .8-.9 .8-1 .8-.2 1-.4 .9-.7 1 .1 .9-1.2 .9-.5 1-1.3 .9-.4 .9-1.1 .9 0 .8-.6 .9-.4 .9 .1 .9-1.1 .8-.1 .9-.4 .8-.3 .9-1 .8 .2 .8-1.7 .9 0 .8-.3 .8-1.7 .8-.6 .8-.1 .8-.7 .9-.3 .8-.5 .8 .2 .8-1.2 .8-.1 1-1.2 1 .3 1-.6 .9-1.1 1 0 .9-.2 1-.7 1-.3 .9-.9 .9-.1 1 .2 .9-1.3 .9 .6 .9-.8 1 .4 .9-1.2 .9-.1 .9-.5 .9-.3 .9 0 .9-1.2 1 .6 .9-1.6 .9-.3 .9-.6 .9 .2 .9-.5 .9-.2 .9-.7 .9 0 .9-1 .9-.6 .9 .5 .9-1.4 .9 .2 .9-1.2 .9 .7 .9-.8 .9-.1 .8-.6 .9 0 .8-.4 .9-1.2 .8 .4 .9-1 .8-1.4 .9-.1 .8-1 .9-.7 .9 .2 .9-.7 .9-.2 .9-.9 1-.3 .9-.7 1-.3 1.1 .1 1-1.1 .8 .1 .8-1.1 .9-1.1 .8 0 .9 .2 .8-1.1 .9-.2 .9 .3 .9 .4 1-.6 .9-.3 .9-.5 1 0 1-1 .9-.1 1 .3 1-.8 1-.1 1-.8 1-.6 1-.8 1 1 1-.9 1-1 1 .2 1-.3 1-.5 1 0 1-.1 1-1.4 1-.8 1 .3 1-.8 1-.2 1-.4 1 .8 .9-1 .9-.6 .9-.9 .9 .6 .9-.3 1 .3 .9-.6 .9-1.2 .9-.3 .9-.8 1 .7 .9-1.5 .9-.8 .9 .5 1-.7 .9-1.3 .9 .6 .9-1 1 0 .9-1 .9-.1 1 0 .9-.9 .9-1.4 1 .2 .9-.5 .9-.8 1-.1 .9-.1 .9-.3 1-.8 .9 .6 .9-.7 1-1.4 .9 .2 .9-.2 1-1 .9-.6 .9 .2 .9-.7 1-.1 .9-.4 .9-1.6 1 0 .9-.6 .9-.7 .9 .2 1-1.4 .9 .5 .9-1.4 1 .5 .9-.6 .9-.4 1-1.4 .9 .8 .9-1.4 1-.1 .9-.2 .9-.6 1 .3 .9-.9 .9 0 1-.5 .9-.3 .9-.1 .9-.1 1-.8 .9-.3 .9-.5 1-.5 .9-.3 .9-.9 .9-.8 1 .2 .9-1.3 .9-.2 .9-.2 .9-.1 .9-.5 1-.6 .9-.5 .9-.1 .9-.5 .9-.3 .9-.9 1-.4 .9-.9 .9-.4 .9-1 .9 .2 1-.2 .9-.5 .9-.5 .9-.8 .9-.8 .9 .3 .9-.6 .9-.3 .9 0 .9-1.6 .9 .2 .9-.4 .9 .6 .9-.8 .9-.5 .9-.9 .9-.3 .9 .2 .9 0 .9-.7 .9-.2 1-.4 .9-1 .9-.9 .9 .1 .9-.2 .9-.4 .9-1 1 .7 .9-1 .9-.7 1-.9 .9-.2 .9 .1 1-1 .9 .5 1-1 1 .5 1-.2 1-.7 1-.2 1-.4 1 .1 1-1.1 1.1-.7 1 .4 1-1.1 1.1 .1 1-1.5 1 .2 1-.6 1.1-.5 1 0 1-.8 1 .2 1-.8 1-.2 1 .2 1-1 1 .6 .9-.5 1-.8 .9-.6 .9-.3 .9-.3 .9-.7 .9 .7 .8-1.3 .8 0 .8-.6 .8 .6 .8-.8 .7 .7 .7-.2 1.2-1.7 1-1 1 .4 1-.5 .9-.8 .8-.4 .9-.5 .8-.9 .9 .1 .8-1.5 .9 .4 1 .6 1-1.2 1.1-.5 .8 .1 .8-.1 .9-1.2 .9 .8 .8-.2 1-1.2 .9 .7 .9-.4 .9-.5 1 .3 1-.1 1-1.1 1 .2 1-1 1-.3 1-.9 1 .3 1.1 .2 1-.4 1.1-.6 1-1.5 1.1 .1 1-.6 1.1-.2 1.1-.3 1-.4 1.1-.5 .9-.4 .9 .2 .9 .6 .9-1.3 .9 .5 .9 .3 .9-.9 .9 0 1-.4 .9-.8 1 .3 .9 0 1-.6 .9 .2 1-1.4 1-.3 .9-.1 1 0 1 0 1-.9 1-.5 .9-.3 1 .5 1 .2 1-1.4 1 .4 1-.6 .9-.9 1 .1 1-.5 1 .1 1-1 1 .2 .9 .5 1-1.1 1 .1 .9-.3 1-.3 .9-.6 1-.4 .9-.4 .9-1.4 1-.8 .9 .7 .9-.6 .9 0 1-.6 .9-1.5 .9 .7 .9-.7 1-1 .9 .5 .9-.8 .9-.7 1-.5 .9-.1 .9-1 .9-.9 1-.5 .9-1.2 .9-.1 .9 .1 .9-.9 .9-1.2 1 0 .9-.4 .9 .4 .9 .4 .9-1.4 .9 .9 .9-1 .9-.1 .9-1.1 .9 0 .9-1.1 .9 0 .9-.9 .9 .4 .9-.5 .9-.3 .9-.1 .9 0 1-.4 1-1.2 1.1 .1 1-.4 1.1-1.1 1-.2 1.1-.6 1.1-.2 1-1 1.1-.3 1 .3 1.1-.8 1.1-.3 1-.3 1.1 0 1-.4 1.1-.1 1 0 1 .7 1 0 1-.6 1-1.1 .9 .3 1 0 .9-1.1 .9 .3 .9-.6 .9 .1 .9-.4 .8-.6 .8-.5 .8-1 .7 .6 1-1.4 .9-.4 .9-.9 .8-.6 .8-.7 .8-2 .7 .6 .7-1.9 .7-.4 .7-1.1 .7-.4 .7-.8 .7-.2 .8-.9 .7-.4 .8-.2 .8-.7 .9 .1 .9 .4 .9 .4 1 .2 .9 .2 1 .1 1 .4 1 1.7 .9 .7 1 .6 .9 .2 1-.1 .9 1.9 .9-.8 .8 .5 .8-.3 .9-.2 .9-1 .8 .7 .7-1.5 .8-.5 .7-1.2 .8-1.3 .7-.4 .8 .3 .8-.7 .9-1 .9-.5 .9 .7 .9-.9 1 .4 .9 .9 1-.2 1.1 .8 1.1 .4 1.2 .9 1.3 0 .7-.5 .7 1 .8-1.4 .7 .1 .8-.2 .9 .4 .8-.5 .9 .1 .9 .2 .9-.2 .9-1 1 .5 1 .9 1-.9 1 .3 1-1.3 1 .2 1.1-.3 1-.9 1.1 .9 1.1-.8 1 0 1.1-.1 1.1 0 1.1-.6 1.1 .8 1-.7 1.1-.6 1.1-.4 1.1 .6 1.1-.3 1-1 1.1-.2 1-1.2 1.1-.3 1 0 1-.3 1 .5 1-1 1 0 1 .5 1-1.2 .9 .5 1 .2 1-.7 1 .2 1-.8 1-1.4 .9-.2 1 .6 1-1 1-.6 1 .2 .9-.9 1-.4 1 .1 1-1 1-.2 .9-.2 1-.2 1-.3 1 .1 1-.4 1-.2 .9 0 1 .1 1-.1 1-.5 1 .4 1-1.2 1 .2 .9-.4 1-1 1 .6 1-.1 1-1.4 1-.1 1 0 1 .5 1 .6 1-.4 1-.6 1 1 1 .3 1 .4 1 .5 1 .1 1.1 .1 1 .3 1 .4 1-1.1 1-.3 1 .9 1 .5 1.1-.6 1 1.3 1-.2 1 .1 1 .1 1 .3 1.1 .2 1 0 1 .7 1 .1 1-.2 1 .5 1.1 .3 1-.4 1 1 1-.3 1 .1 1 .1 1 .1 1.1 .4 1-.4 1-.3 1 .2 1 .8 1-.5 1.1-.2 1-.2 1 .7 1-.1 1 .1 1-.2 1.1 0 1 .2 1-.8 1 .8 1-.6 1 1.1 1-.1 1.1 1 1-.9 1 .3 1 .2 1-.5 1 .5 1 0 1.1 .1 1-1.6 1 0 1 .5 1-.4 1.1-.4 1-.1 1 0 1.1-1 1 .9 1.1 .1 1-1.1 1 .1 1.1-.1 1-.7 1.1 .4 1-.2 .9-.7 1 .7 .9-.2 1-.7 1 .4 1 .6 1 0 .9-.7 1-.1 1 .7 1 .6 1-.1 1-.6 1-1 1 .7 1-.2 1-.4 1-.7 1-.1 1 .4 1 .2 1-1.2 1.1-.2 1-.1 1 .7 1 .2 1-.5 1-.2 1-.6 1-.5 1-.3 1-.3 .9 .5 1-.7 1 .7 1-1.1 1-.6 .9 0 1-.5 1-.3 .9-.6 1 .2 .9-1 1-.3 .9-.6 1-.1 .9 .9 1-.3 1-1.3 .9 .3 1 .3 .9 0 1-1.3 .9-.1 .9-.5 1 0 .9-.6 .9-.7 1-.2 .9-.5 .9-.5 .9 .3 .9-1.4 .9-.7 .9 .2 1-.1 .9 .2 .9-1.1 .9-.3 .9-1.1 .9-.4 .9 .2 .9-.1 .9-.9 .9-.8 1 0 .9 .1 .9-.6 .9-.9 .9-.2 .9-.7 1-.5 .9-.1 .9-.1 .9 .4 1-1.1 .9-.2 1-.1 .9-.8 1 .5 1 .2 .9-.7 1-.8 1-1.4 .9-.2 1-.2 1 .3 .9-.4 1-.3 1 .1 .9-.3 1-.9 1-.3 1 .6 .9-.7 1 .4 1-.8 1 .3 .9-.1 1-.7 1-.3 1-.7 .9 .4 1-.6 1 .6 1-1 .9 .4 1-.1 1-.9 1-.4 1 .5 .9-.4 1 1 1-.9 1-.3 .9-.4 1-.4 1 .6 1 0 .9-1.8 1 .2 1-.2 1-.1 1-.3 1-.3 1-.4 1 .6 1-1.4 1-.1 1-.8 1-.1 1 .5 1-1.1 1 0 1-.9 1 .7 1-1.3 1-.1 1 .3 1-.1 1-1.4 1-.2 1 .3 .9-.7 1 .1 1-.9 .9-.2 1 .1 1-.7 .9 .1 1 .1 .9-.8 .9 .5 1-1 .9 .8 .9-.9 .9 1.2 1.1-.2 1.1-1.3 1 1.1 1.1-.6 1.1 .6 1.1-.1 1 .1 1.1 0 1.1 .3 1-.5 1.1 0 1.1 0 1 .7 1-.8 1.1 1.1 1-.6 1 .7 1-.4 .9-.3 1 0 .9-.1 1 .1 .9 .9 .9-.4 .9-.1 .8 .4 .9-.5 .8 .6 1.2 .4 1.1-1.3 1.1-.2 1.1-.2 1-.6 1-.2 .9-.6 1-.4 1-.3 .9-.2 1 0 .9 0 1-.1 1.1-.4 1.1 .1 1.1 1.3 1 .4 1.1-.3 1.1 .7 1 .2 1.1 .3 1.1-.4 1 .5 1.1 .7 1.1-.5 1-.8 1 .9 1-.7 1 .1 1.1-.5 1 0 1.1 .6 1.1-1.2 1.2 1.1 1.2-1.1 .8-.8 .9 .5 .9-.6 .9 1.1 1-.2 1-.3 1-.8 1-.1 1 .2 1-1 1.1-.2 1-.1 1.1-.9 1-.6 1.1 .3 1 .3 1.1-.7 1 0 1-.5 1 0 1 .4 .9-.8 .9-.5 .9 .7 1.2 .5 1.1-.4 1.2 .8 1.1-.3 1.2 .4 1.1-1 1.1 1 1-.6 1.1 .7 1-.4 .9-.1 1 .2 .9-1 .8 .6 .9-.3 .8-1.1 .7-.7 .6-.8 .6-1.1 .7-.4 .6-1.9 .7-.2 .9-.1 .9-.7 .8 .2 .8-.4 .8 .3 1-.5 .9 .5 1 .8 1-.2 1.1 .1 1 1 1.1-.5 1.1 1 1.1-.1 1.1-.1 1.1 .7 1.1-1.3 1 .1 1.1 .2 1-.7 1-.2 1 .8 1-.5 1 .3 1-.2 1 1 .9-.6 1-.4 1 .2 .9-.8 1-.5 1-.4 1 0 .9 0 1-.4 1 .1 1-.3 1-.7 1 .7 1-.5 1-.3 1-.2 1-.5 1 .7 1 .5 1-.8 1 .1 1-.1 1 .6 1.1 .5 1 .2 1 .2 1-.6 1 .1 1 1.3 1-.2 1-.3 1 .5 1.1 .3 1-.8 1 .4 1.1 .9 1-1 1-.1 1 .7 1.1 1.2 1-.4 1 0 1 .1 1.1 .3 1-.6 1.1 .4 1-.2 1.1 .5 1.1-1.1 1 .4 .9 0 1-.7 1-.1 1-.2 1 .9 1-1.9 1 .2 1 .7 1.1 .2 1 .1 1-.8 1.1 .7 1-.8 1-.4 1 .3 1 .8 1-2 1 .1 1-.5 1-.2 1-.7 1 0 1.1 .2 1-.2 1 .4 1-.2 1-.2 1 .3 1 .3 1 .3 .9-.1 1-.7 1-.6 1-.3 1-.1 1-.3 1-.1 1-.4 1.1 .4 1-.2 1 .4 1-1.1 .9 .5 1-.4 1.1 .1 1-.2 1 0 1 0 1 .7 1-.1 1.1-.5 1 .8 1 .3 1-.8 1.1 .1 1-.2 1-.1 1 .5 1-.6 1-.4 .9-.3 1 .7 1-.5 1 1.2 1.1 .5 1 .1 1.1-.8 1 .3 1 .7 1.1-.4 1 1.1 1 .2 1 .3 1-.4 1 1.1 .9 1.1 .9-.3 .9-.1 .9 1.3 .8 0 .8 .7 .7 .5 .8 1 .8-.4 .7 1.6 .6 .4 .7 1.5 .6 .8 .5 .6 .6 .8 .5 .2 .5 1.3 .5 .7 .5 .8 .5 1.7 .5 .5 .5 .8 .7 .2 .6 2 .6 .2 .6 2.1 .7 .7 .6 .2 .6 .8 .6 1.8 .6 1 .6 .6 .6 .7 .7 .4 .6 .7 .7 1.7 .6 .7 .6 .2 .6 2 .6-.3 .6 1 .5 1.4 .4 1.5 .5 .2 .4 1.3 .4 .3 .4 .9 .4 .5 .4 1 .4 1.4 .5 .6 .4 .8 .4 1 .4 1.3 .4 .9 .3 1.2 .4 .6 .3 1.2 .4 .5 .3 .7 .4 1.9 .3-.1 .4 1.4 .3 1.5 .4 .5 .3 .3 .4 1.8 .3 1 .4 1 .3 1 .4 .7 .3 .9 .4 .3 .3 1.4 .4 1.8 .3 .3 .4 1.3 .4 1.4 .4 .1 .4 1.4 .3 1.8 .4 2.1 .4 .9 .4 0 .4 2 .3 1 .4 .2 .4 .7 .4 1.3 .5 .9 .4 .7 .6 .5 .5 1.1 .6 1.6 .6 .5 .6 1.1 .6 1.3 .6 1.3 .6-.2 .6 .7 .6 .7 .6 .9 .5 1.6 .5-.2 .4 1.9 .5 1.8 .6 .2 .5 1 .6 1.5 .7 .6 .8 .4 .6 .4 .7-.2 .8-.7 .7-.7 .8-.5 .8 .2 .9-.8 .9-.3 .9-.2 .9-1.3 .9 0 1-1.4 .9 0 1-1.5 1-.4 .9-.8 1-1.2 .7-.2 .7-1.3 .7-.5 .7-.1 .8-1.7 .7-.1 .7 .4 .8-1 .8-1.1 .7-.8 .8-.2 .8-1.6 .7 .3 .8-1.2 .8-.3 .8-.2 .8-.9 .8-1 .8-.3 .8-.5 .8-1.5 .9 0 .8-1.4 .8-1.1 .8-.5 .8-.9 .8-.6 .8 0 .9-.6 .8-.7 .8-1 .8-.7 .8-.6 .7-1.6 .8 .6 .7-1.8 .8-.4 .7-1.3 .7-.2 .8-.2 .8-1.3 .7-1 .8-.3 .7-1.4 .8 .7 .8-.8 .7 0 .8-1.3 .7-.8 .8-.1 .8-1.4 .7-.3 .8-.6 .8-.3 .7-.6 .8-1.4 .8-.8 .7-.3 .8-.8 .8-.1 .7-.8 .8-1.6 .7-.8 .8-.6 .7-.8 .8 .3 .7-1.5 .8-.1 .7-.3 .7-1.2 .8-.5 .7-.2 .9-.8 .9-1.3 .9-.2 .9-.5 .9-1.2 .8 0 .9-1.2 .8-.4 .9-.1 .9-.8 .8-.4 .9-1.7 .8 0 .9 .6 .8-1 .9-.5 .9-.9 .9-.7 .9 .5 .8-.6 1 .2 .9-.7 .9-.4 .9-.7 1-.9 1 .7 .9 .5 1-1.8 .9 .2 1 .1 1-.3 .9-.1 1 .5 1-.3 1-.9 1-.2 1 .2 1-.1 1 1.3 1.1-.2 1-1.1 1.1 .4 1 .4 1.1 .4 1.1-.1 1.1 .2 1.1-.4 1.1-.6 1.1 .3 1.1 .5 1.2-.6 .9-.3 .9 .2 .9-.1 .9 .1 1 .4 .9 .1 1-.8 1-.1 1-.1 1 .3 1 .6 1 .4 1.1-1 1 .8 1-1 1.1 .8 1-.6 1.1 1.2 1.1-.5 1-.2 1.1 .8 1 0 1.1-.8 1.1 .6 1 .4 1.1-.4 1-.2 1.1 .1 1.1-.2 1-.2 1 1.4 1.1 .3 1-.1 1-.7 1 .2 1 .3 1-.8 1-.1 1-.3 .9-.1 1 .5 .9-.2 .9 .4 .9 .7 1.1-1.2 1.1 1 1 .2 1.1 .4 1 .3 1-.5 1-.4 .9-.3 1 .6 1 .1 .9-.1 .9-.2 1 .4 .9-.3 .9-1.6 1 .6 .9 0 1 .7 .9-.8 1 .8 1-.2 1 .1 1 .6 1 0 1.1-.9 1.1-.4 1.1 1.1 1.1-.5 .9 .7 .9-.1 .9-.3 .9-.4 .9-.3 1 1.3 .9-1.2 1 .6 1 .5 1-.8 1 .5 1 .6 1.1-.2 1 .1 1 .5 1.1-.6 1-.1 1.1 1.5 1.1-.1 1-.9 1.1 1 1.1 .1 1.1 .6 1-.6 1.1 .8 1.1-.7 1.1-.9 1 .6 1.1 .5 1.1-1 1 .1 1.1 .9 1-.5 1.1 .2 1 .5 1 .1 1.1 .2 1-.9 1 .2 .9 .1 1 .5 1-.4 .9 .6 1-.1 .9-.5 .9 .8 .9 .3 .8 .3 .9-.8 1.1 .5 1.2 .2 1.1-.5 1.1-.1 1.1-.2 1 .5 1.1 0 1-.2 1.1-.3 1 .7 1-.2 1 .6 1 .3 .9-.1 1 0 1-.8 .9-.2 1 .4 .9 .4 .9 0 1-.4 .9 .8 .9 .1 .9 0 1-.3 .9-.3 1 .1 1 1.4 1 1 1 .5 1 .4 1 .7 1 .2 .9 1 1 .5 .9 .3 1 .8 .9 .2 1 .2 .9 .5 .9 .1 1-.3 .9 1.1 .9-.4 1 .3 .9 .1 1 .3 .9-.1 1-.1 .9 0 .9-1.1 .9-.8 .9 .1 .9-.3 .9-.4 .9-.7 .9-1 .9-.2 .9-1.6 .9 .5 .9-.5 1-1.4 .9-.7 1 .3 .9-.5 1-.1 1-.8 1.1 .2 1 .1 .9-.1 .8 .9 .9-.3 .9 .7 .9-.5 .9 .3 1 .2 .9-.5 .9 .9 1-.9 .9 .8 1 .4 1-.5 .9 1.1 1 .2 1 .3 1 .4 1 .1 1 .4 1 .9 1-.2 1 .4 1.1 .3 1 .1 1 .3 1.1 0 1 1.1 1 .1 1.1 1 1-.7 1.1 .3 1 1 1.1 .3 .9 .1 .9 .1 .9 .4 1 .3 .9 1.2 1-.7 .9 .8 1 .8 .9-1 1 .8 1-.5 .9 1.4 1-.4 1 .1 1 .3 1 .7 .9 .3 1 .2 1 1.2 1-.6 1-.3 1 1.1 1-.2 1.1 .4 1-.5 1 1.2 1 0 1-.1 1 .9 1 .5 1-.3 1 1.4 1-.5 1 .1 1 .5 1-.5 1 1.5 1-.6 1 .5 1 .8 1-.1 1-.1 1 .4 .9 .4 1 .7 1 .1 1-.5 1 1.1 1-.6 1 .9 1-.2 .9 .4 1 .2 1 .2 1-.2 1 0 1 .6 1-.5 .9 1.2 1 .2 1-.8 1 .6 1 .8 1-.7 .9-.3 1 .7 1-.6 1 1 1 .7 .9-.3 1 .1 1 1.3 1 .5 .9-.8 1 1.6 1 .1 1-.7 1 .9 .9-.7 1-.1 1 .6 1-.2 1 .2 1 .2 .9 .2 1 .4 1-.9 1 1.4 1-.6 1 .8 1-.5 1 1.2 1.1-.1 1-.2 1 .9 1 .3 1-.6 1.1 1.2 1 .3 1-.1 1 .1 1 0 1.1 .2 1-.1 1 .2 1 .6 1.1 .6 1 .4 1 .1 1-.2 1 .4 1 0 1 .5 1 .8 1.1-.4 1 .2 1-.3 .9-.1 1 .3 1 .3 1 .4 1-1.1 1-.1 1 .1 .9 .3 1-.4 .9 1 1 .1 1-.4 1 .9 .9 .8 1 .6 1 .1 .9 1.1 1-.6 .9 .2 1 1.7 .9 .5 1-.4 .9 .5 .9-.4 1 .4 .9 .9 .9 .4 1 .6 .9 .6 .9-.3 .9 .5 1 .5 .9 .4 .9 .1 .9 1.2 .9-.7 .9 .5 1 .9 .9-.5 .9 1 .9-.1 .9 1.6 .9 .1 .9 .1 .9 1.2 1 .7 .9-.2 .9 .1 .9 1 .9-.5 .9 1.1 .9-.1 .9 .6 .9-.4 .8 1.3 .9 .9 .9 .2 .9 1 .8 0 .9 .7 .9 1 .9 .4 .8 .2 .9 .5 .9 1.3 .8 0 .9 .5 .9-.3 .8 .6 .9 1.2 .9 .1 .9 1 .8 .2 .9 1.3 .9 .3 .9 .9 .8 .4 .9 1.3 .9 1.2 .9 0 .9 .3 .9 .9 .9 .6 .9 .3 .9-.7 .9 .1 .9 1.4 .9 .2 .9-.6 .9 0 .9 2.1 .9-.2 .9 1.2 .9 .8 1 .2 .9 .9 .9-.3 .9 1 1 .2 .9-.1 .9-.1 1 .4 .9 .4 .9-.1 1-.6 .9 .8 1 .5 .9 .8 .9 .4 1-.8 .9 .6 1 .5 .9 .8 1 0 .9 1.3 1-.4 .9 1.2 1-.5 .9 1.5 1 0 .9 .7 1 1.5 .9-.3 1-.2 .9 .6 .9 .9 1-.3 .9 1.2 1-.4 .9-.4"/>
</g>
<g shape-rendering="crispEdges">
<path fill="none" stroke="#0000FF" stroke-width="7.5" stroke-linejoin="round" d="M322.1 1055.8l.9-3 .7 .1 .8 1.1 .8-3.3 .8 2.1 .9 .8 1-.7 .9-3 1 .7 1-.5 1.1-1 1-1 1 4 1-4.5 .9 .7 1 1.6 1-4 1 2.4 1 2.8 1 .5 1-1.6 1-1.6 1.1 2.7 1-1.5 1 .2 1-.4 1.1-1.6 1-.3 .9 2.9 1-5.4"/>
<path fill="none" stroke="#00A800" stroke-width="6.5" stroke-linejoin="round" d="M412.0 999.0l.4-2.1 .4-1.2 .6 .2 .4 .4 .5-2.4 .5 .7 .6-3.6 .7 2.4 .6-2.9 .7-1.7 .8-.6 .7 .2 .7 .5 .8-2.9 .8 .4 .7-.1 .7-1.4 .7 .2 .7-2.5 .7 2 .7-2.4 .7-.8 .7-.6 .8 .1 .7-.7 .8-.6 .7-.2 .7-3 .7-.9 .7 .9 .6-1 .5-2.6 .6 .8 .4-1 .4-3.6 .3-.4 .2-1.2 .1 .7 .1-1.4 0-2.7 0 .8 0-3.4-.1 0-.1-.6-.1-1.4-.1-2.6-.1 0 0 1.9-.1-1.4 0-2.3 .1-.4 0-.3 .2-3.4 .2 .1"/>
<path fill="none" stroke="#FF0000" stroke-width="6.5" stroke-linejoin="round" d="M487.1 874.8l.4-2.5 .5-1.1 .2-.7 .3 .2 .3-1.3 .3-1.7 .2-.4 .3 .7 .3-.8 .4-2.2 .3-.9 .3-1.9 .4 2.5 .3-2.4 .4 .5 .3-1.4 .4-2.9 .3-.1 .4-1.1 .4 0 .4-.1 .3-3.7 .4-.5 .4-2.4 .4 0 .4-.6 .4 .9 .4-1.7 .4-1.7 .3 .3 .4-3 .4-.2 .4 .8 .4-3.7 .4 .2 .3-1.9 .4-.9 .4-2.1 .3-1.6 .4 .6 .3-2.1 .4 1.9 .3-3.7 .3 .8 .4-1.5 .3 .3 .3-3 .3 1.4 .3-1.8 .4-.3 .3-2.1 .3-1.8 .3-.6 .3-2 .4-1.1 .3 1.1 .3-3.2 .3 .4 .3-2.6 .3 1.2 .3-.1 .3-2.8 .4-1.4 .3-1.6 .3 .8 .3-2.5 .3-1.1 .3-.2 .3 1.2 .3-2.6 .3-.3 .3-1.1 .3-3 .3 .3 .3-.1 .3-3.3 .3 1.2 .3-1 .3-.8 .3-.1 .2-1.7 .3 .7 .3-2.5 .3 .6 .3-2.4 .4-.7 .4-1.7 .4-2.2 .4-.9 .4-1.6 .4-1.2 .4-1.2 .4 1.1 .3-1.2 .4 0 .4-1 .4 .1 .4-.7 .3-4.2 .4 0 .4 1.4 .4-2.4 .4-1.8 .3-.7 .4-1.7 .4 1.1 .4-3 .3 .2 .4 .6 .4-3.3 .4-.9 .3 1.2 .4-.2 .4-2.6 .4-.3 .3-.3 .4-1.1 .4-1 .3-.8 .4-2.9 .4-1.2 .3 2.1 .4-1.6 .4-1.5 .3-1 .4-1.4 .3-1.2 .4 .4 .4-1.1 .4-2.1 .4 1.3 .4-2.4 .4 .6 .4-3.2 .3 .5 .4-1 .4-2.3 .4-.1 .4-1.9 .3 1.3 .4-4.1 .4 .2 .4-1.4 .3-.7 .4-2.1 .3 1 .2-1.8 .2 .3 .3-1.5"/>
<path fill="none" stroke="#588A14" stroke-width="6.5" stroke-linejoin="round" d="M704.2 328.4l.7-1.5 .7 .4 .7-1.3 .7 .5 .8-2.2 .7-1.1 .7 1.7 .8-1.8 .7-1.5 .7 2.4 .7-1.7 .7-2.3 .7-.2 .7 .4 .8-1.8 .7 .1 .7-2.5 .8 1.3 .8-1.6 .7-1.1 .8-.8 .8 .7 .9-.3 .8-2.7 .7 1.5 .7-3.3 .7 .3 .8-2.3 .8-.3 .7 .3 .8-1.7 .8 1.9 .9-1.5 .8-.5 .8-1.6 .8-2.1 .8 .3 .8-1.4 .8 .8 .8-1.3 .8-1.3 .8 1.4 .7-1 .8 .2 .7-2.2 .7 0 .7-2.1 .9-.2"/>
<path fill="none" stroke="#B2BE00" stroke-width="6.5" stroke-linejoin="round" d="M1087.3 221.0l.9-1.1 .9 .8 .9-3.4 1 2.5 1-1.1 1 0 1-1.3 1 .9 1-1.4 1-1.2 1-.6 .9 1.3 .9 .1 .9-2.3 .9 .4 .9 2.3 .9-1.1 1 .5 .9-.1 1-2.1 1 .3 1 .2 1.1-2.4"/>
<path fill="none" stroke="#FFC800" stroke-width="6.5" stroke-linejoin="round" d="M1478.6 340.0l1.1-2.1 1.1-.7 1.1 2.5 1.1-.4 1 1.5 .9-.5 1-2.7 1 1.4 1-1.2 1 1.7 1.1 .5 .8-2.3 .9 2.6 .9-1.1 .9 1.6 1-.4 .9-1.2 1 1.7 1 .6 1-.9 1 .6 1 .2 1 4.4 .9-1.1 .9-.6 .9 2.1"/>
<path fill="none" stroke="#FF8000" stroke-width="6.5" stroke-linejoin="round" d="M1946.7 604.1l.7 .2 .8 0 .8-1.5 .9 .5 .8 .7 .9-2.1 1 1.4 .9-2.3 1 .5 1 .3 1-1.4 1-1.5 1-.5 1.1 .7 1-.1 1.1-3.2 1-.4 1.1-.5 1.1 1.4 1-2.4 1.1 2.1 1-.2 1-2.5 1 .9 1-2.6 1 1.4 .9 .1 1-.6 .9-1.6 1 .3 1-.6 .9-1.4 1-.8 1 1.3 1-3.2 1 2 .9-2.4 1 1.6 1 .4 1-1.6 1-.8 .9-.6 1 1.9 .9-.2 1-1.3 .9 .9 .9-.8 .9-.3 .9-3 .9 2.9 .9-2 .8-1.5 .8 2.2 .8-1.5"/>
<path fill="none" stroke="#0000FF" stroke-width="7.5" stroke-linejoin="round" d="M322.8 1061.7l1-2.9 1.1 2.9 1.1 .1 .9 .1 1-2.8 1 4.7 1-2.5 1-1.3 1 2.5 1-1.1 1.1-.9 1 1.2 1-2.6 1-.3 1 4.1 1-6.3 1.1 2.3 1 4.3 1-5.5 1 1.5 1 3 .9 1 1.1 1.3 1 .3 1-3.8 1 .8 1-.8"/>
<path fill="none" stroke="#006800" stroke-width="6.5" stroke-linejoin="round" d="M412.2 952.5l.8-.4 1-1 1-.5 1 .1 1-2.2 1 .3 1 .4 1 .2 .9-.7 .9 1.8 1 1.7 .9 .7 .9-.4 .8-.5 .9 .2 .7 2.9 1-.3 1 3.8 .8-1.7 .7 .6 .3 1.8 .2-2.6 .2-1.6 .1 .5 0-2.5 0-1.4 .1-2.4 0-1.8 .1 2.3 .1-.5 0-1.3 .1 1.9 .1-1 0 3 .1 1.2 0 .9 .1 3 .1 1.2 0 .4 .1 .2 0 2.1 .1 3.2 .1 .2 0 2.1 .1 .2 .1 2.4 .1-.6 .1 0 .1 1.7 .1 .3 .1-.6 .2-2.9 .1 1.5 .1-.8 .2-1.7 .1-2 .2-1.1 .2-.7 .1-2.1 .2-1.5 .2-1.5 .3-1.2"/>
<path fill="none" stroke="#FF0000" stroke-width="6.5" stroke-linejoin="round" d="M488.0 1019.0l.7-.5 .8 2.3 .8-.8 .9 .2 1-.3 1 .1 1 .1 1.1 .8 1.1-1.4 1.1-2 1.2 1.9 1.1-.2 1.1 .7 1.1-.9 1-1.2 1 .9 1 .4 .9 1.2 1 1.7 .8 1.9 .9 1.2 .9 0 .9 1.5 .8-1.6 .9 3.1 .8-1.6 .9 .4 .8 .2 .9 .4 .9 2.9 .8-.6 .9-2.2 1 1.5 .9 1.6 1-.7 .9 .1 1.1-.8 1 .7 1.1 0 1.1 .1 1.1 1 1.1 1.7 1 0 1.1 1.7 1.1-.6 1-1.5 1 2.3 1-1.1 .9 3 .9 .4 .8-1.2 .8-.3"/>
<path fill="none" stroke="#588A14" stroke-width="6.5" stroke-linejoin="round" d="M704.6 186.3l1.1-1.9 1.1 .8 1 .1 1.1-1.2 1 .2 1.1-.4 1 .2 1 1.4 1-2.3 1 1.4 1-.8 1-.2 1-1.3 1 .6 1 2.3 1-2 1 2.2 1-2.5 1 0 1 2.3 1-1.4 1 1.3 1-1.6 1-.4 1 .9 1 .4 1-1.5 1 1.7 1.1-1.4 1 .4 1-2.9 1 0 1-1.1 1 1.2 1 .2"/>
<path fill="none" stroke="#B2BE00" stroke-width="6.5" stroke-linejoin="round" d="M1087.3 307.9l.8 .1 .8-2.3 .9-1 .8 1.6 .8-1.2 .8-.2 .8-.3 .9-2.9 .8-.4 .8 1.1 .8-1.1 .9-.9 .8 .4 .8 .4 .8 .1 .8-1.7 .8-.9 .8-2.6 .8 1.9 .8-1.9 .8-1.4 .8 .6 .8-1.7 .9 0 .8-2.3 .8 .9 .9-.5"/>
<path fill="none" stroke="#FFC800" stroke-width="6.5" stroke-linejoin="round" d="M1478.8 684.2l1.2-1.2 .8-1.8 .7-.5 .8 0 .7 1 .8-.3 .7 0 .8-4.1 .9-.3 .8 .1 .8-.1 .9-.2 .9-2.8 .9 2 .9-2 .9-2.2 .9 1.7 .9-1.1 1 1 .9-.4 1-2.4 1-.7 1.1 1.6 1.1 .9 1-.1 1.1 1.4 .9-1.2 .9 2 .7-.9"/>
<path fill="none" stroke="#FF8000" stroke-width="6.5" stroke-linejoin="round" d="M1946.6 967.4l.9-1.4 .8-.2 .9-2 .9-1.5 .9 2.1 .9-1.2 .9 .1 .9-1.8 .9 .6 .9-.5 .9 1.9 .9-2.2 1 1 .9-1 .9-2.1 .9 .4 .9-.2 .9-.5 .9 .2 1-1 .9-1.9 .9-.5 .9 1.4 .9-.7 .9 .1 1-.1 .9-.8 .9-2.1 .9 1.4 .9-1.3 .9 0 .9-3.2 .9 1.5 .9-.1 1-1.6 .9 1.4 .9-2.2 .9 .3 .9 .8 1-2.1 .9-.7 .9-.5 .9 .3 .9-2.2 1-.5 .9 .8 .9-.5 .9 .9 .9-1.2 .9-1.4 .9-.3 .9-.7 .9 .1 .8-1.9 .9 1.9 .9-1.9 .8 .2"/>
<path fill="none" stroke="#0000FF" stroke-width="7.5" stroke-linejoin="round" d="M322.1 1001.8l.9 1.9 1-4.3 .8 1 .8-.9 .8 .8 .7 .1 .8-1 .8-1.2 .8 4.3 .8-3.5 .8-3.1 .9 .1 .9 .4 1 .8 1-1.2 1 .4 1-1.3 1 1.7 1.1-2.8 1 1.3 1-.8 1 2.5 .9-2.7 .9-3.2 .9 1.5 .9 .7 .9-1.8 .9 1.6 .9-2.2 .9 .4 .8-3 .9-.4"/>
<path fill="none" stroke="#00A800" stroke-width="6.5" stroke-linejoin="round" d="M412.5 944.2l.9-.8 .4 .3 .3-.2 .4-3.8 .4 .1 .4 .2 .4-1.1 .4-2.1 .4-1.4 .5-.7 .4-.4 .4 .7 .5-1.6 .4-2.5 .5 .1 .4 .3 .5-2.2 .4 1.9 .4-2 .5-2.3 .4 .8 .5-2 .4-2.8 .4-1 .5-1.9 .4-.7 .4-.5 .5-1.9 .4-2.2 .5-.2 .5-1.3 .4 1.3 .5-2.9 .4 .8 .5-3.1 .5 1.6 .4-3.1 .5 1.4 .5-2.7 .4-.2 .4-1.8 .5 .8 .4-3.3 .4 2.5 .4-2.7 .4 .9 .4-1.1 .4-2.1 .4 1.6 .3-2.7 .5-1.9"/>
<path fill="none" stroke="#FF0000" stroke-width="6.5" stroke-linejoin="round" d="M487.0 800.0l.6-2.4 .6-.9 .7 0 .8 0 .8-1.1 .8 1.7 .9-1 .8-1.3 .9 .5 .9-.9 .9 .8 .9-1.3 .9-2 .9 .4 .8-1.7 .8-1 .8 .7 .8-.1 .7-.6 .8-2.7 .8 .2 .7-2.2 .8 .5 .7-1.3 .8 .8 .7-1.8 .7-2.2 .8 0 .7-.2 .7-.8 .8-.4 .7-3.1 .6 1.4 .6-2.6 .6 .2 .6-2.7 .6-1 .6-1.6 .6 0 .6-.4 .5-1 .6-.6 .6 .9 .6-2.1 .6-.3 .5-2.1 .6 .4 .6-1.5 .6-.1 .6 .5 .6-1.9 .6 .9 .6-3 .6 0 .7 .5 .7-2.6 .7 1.6 .7-.8 .7-1.8 .7-.6 .8-3.4 .7 .8 .7-1.7 .7 .4 .7-1.9 .8-1.1 .6-1 .7-1.7 .7-.8 .6-1.6 .6 1.1 .6 .1 .6-.5"/>
<path fill="none" stroke="#588A14" stroke-width="6.5" stroke-linejoin="round" d="M704.3 657.1l1.1 .7 1.1 .1 1 1.2 1-2 .9 1.6 .9-.9 .9 .4 .9-2.9 1 1.3 .9 .4 1-1.5 1 1 1-2.2 1 .1 1 1 1 2 1-1.6 1-.2 1 .6 1 1.9 1-2.8 1 1.5 1-1.1 1 .1 1 .2 1 1.4 1-.5 1.1-2.1 1 .6 .9 .3 1-.2 1-1.6 1 .7 1-.1 1 1.3 1-1.7 1 0"/>
<path fill="none" stroke="#B2BE00" stroke-width="6.5" stroke-linejoin="round" d="M1087.4 494.0l1-1.1 1 .5 1 .5 1-1.1 1 2.6 1 1 .9-.9 1 3 .9-1.5 .9 1.4 .9 .9 .9-.2 .9 .6 .8 1.2 .7-1.6 .6 1.8 .7-.6 .5-2.5 .6-1.5 .6 1 .5-1.4 .5-1.7 .5 .8 .5-2.3 .6 1.6 .5-2.5 .5-1.9 .6-.4 .5-.1 .6-3.3"/>
<path fill="none" stroke="#FFC800" stroke-width="6.5" stroke-linejoin="round" d="M1478.5 457.9l.9 .3 .9-1.5 .9-.5 .9-1 .9 .9 .9-.3 .9-1.4 .9-3.1 .9-.3 .8 1.3 .9-3.2 .9 1.4 .8-3.1 .8-.5 .8 2.4 .8-.9 .8 .3 .8-.4 1 .6 .9 .4 .8-1.3 .8 0 .8 .8 .8 1.8 .8 .5 .9 2.4 1-1.4 1 .4 1.2 3 .7-1.7"/>
<path fill="none" stroke="#FF8000" stroke-width="6.5" stroke-linejoin="round" d="M1946.0 470.2l.8-1.8 .8 1.8 .9-1.3 .9 .2 .9 .5 .9-.4 1 1 1-1.1 1 1.4 1 0 1 1.4 1-2.2 1.1 3 1.1-2.7 1 .4 1.1 2.1 1.1 .2 1-2.1 1.1 .4 1.1 .6 1.1 1 1-2.2 1.1 2.1 1 .3 1-.9 1 1.3 .9 1.3 1 .2 .9-1.6 1 .5 .9 1.1 .9-.4 1 1.1 .9-1 1 .7 .9-1 .9 .5 1 2.2 .9 .9 1-.7 .9 .7 .9 .1 1 1.2 .9 .3 .9 1.8 1 1 .9 0 .9-.4 .9-.6 .9 2.2 1-.8 .9 .8 .9 1.8 .9-.1 .9-1.5"/>
<path fill="none" stroke="#0000FF" stroke-width="7.5" stroke-linejoin="round" d="M322.2 1016.2l.8-.1 .7-1.9 .7 3.7 .7-2.7 .6-.7 .7 1.4 .7-6.7 .7-.6 .7 1.9 .6 .4 .7-3.6 .7-2.7 .8 3.5 .7-3.5 .8-3.3 .8 1.5 .8 0 .8-3.4 .9 1.2 .8-1.5 .9-1.2 .8 0 .9 1.6 .8-3 .9-2.1 .8 1.9 .8-.3 .9-.7 .9 1.4 .9-3.8 .9-1.2 .9 1.3 .8-2.1 .9-.7 .8-.5 .8 1.6"/>
<path fill="none" stroke="#00A800" stroke-width="6.5" stroke-linejoin="round" d="M412.4 918.6l.5-2.1 .5 .9 .4-.9 .4-.4 .4-2.9 .4-1.1 .4-1.3 .4 .4 .4-2.1 .4 .9 .4-2.6 .4 1.4 .4-3.1 .5 .5 .4-.9 .4-3.8 .4-.6 .4 1 .4-3.1 .4 1.6 .4-1.1 .4-1.6 .5-.4 .4-3.2 .4 .6 .4-.4 .4-1.8 .4-1.4 .4-1.2 .4 .7 .5-1.2 .4-.7 .5-.9 .4-.8 .5-3.2 .5 1.4 .4-2.3 .5-1 .4 .2 .5-1.3 .4 0 .5-1 .4-1.7 .5-3.7 .4 1.4 .4-2.1 .4 .6 .4-2.8 .3-1 .4-1.3 .3 .6 .3-.2 .3 .2 .4-2.2"/>
<path fill="none" stroke="#FF0000" stroke-width="6.5" stroke-linejoin="round" d="M487.6 792.5l.6 .7 .7-1.4 .7-1.5 .7 .6 .8-1.5 .8 1.9 .8-2.7 .8-.1 .8-2.4 .9-.1 .8-1.3 .8 .2 .9 .6 .8-1.2 .7-2.6 .8 .1 .8 1 .7-2.3 .8-.8 .8-.1 .7-.5 .8-.6 .7-2 .8-.4 .7-.1 .7-1.1 .8-1.2 .7-.4 .8 .5 .7-1.8 .8-.4 .7-1.3 .7-.9 .7-.6 .6 1.1 .7-2.3 .7-.6 .7 .9 .7-.9 .7-3 .6 1 .7-2.3 .7-1.4 .7-1.7 .7 .4 .7-1 .6-.8 .7-.7 .7 1.2 .7-3.9 .7 .3 .7 1.6 .7-2.3 .6-.2 .7-1.1 .7-2.9 .7 .2 .7-2 .7-.2 .7 .1 .7-.7 .7-3.7 .7 .2 .6-1.3 .7 1 .7 .3 .7-2.3 .7 .2 .6-1.5 .7 .5"/>
<path fill="none" stroke="#588A14" stroke-width="6.5" stroke-linejoin="round" d="M704.6 662.2l1.1-.9 .9 .4 .9 0 .9 .1 1-.9 .9-1.2 1-.4 .9 .7 1-.5 .9 1.8 1-1.5 1 .2 1-2.1 .9 .1 1 1.3 1-2.7 1 0 1 1 1-1.5 1 2.1 1-.7 1.1 0 1-1.7 1.1 1.6 1-2 1.1-1.3 1 .8 1.1 1.3 1-.9 1.1-.7 1-.1 .9-.7 1 1.4 .9-.6 .9 2.2 .8-2.8"/>
<path fill="none" stroke="#B2BE00" stroke-width="6.5" stroke-linejoin="round" d="M1087.6 573.2l1.2 1.4 .7-1.8 .7 1.5 .8-.3 .8 .3 .8-.4 .9 .1 .9-1.3 .9-1.1 .9-1.8 1 2.2 .9-2 1-2.5 1 2.1 1-1 1-3.1 1-.2 1-1 1 1 1-.7 1-1.9 .9 .9 1-1.6 1 1.1"/>
<path fill="none" stroke="#FFC800" stroke-width="6.5" stroke-linejoin="round" d="M1478.8 539.6l1 .5 1-2.2 1 2.6 1-2.4 .9 2.1 1-1.3 1 1.9 1-.3 1-.6 1-3 1 .8 1-.9 1 .2 1-.2 1-1.4 1 .5 1.1 .2 1-.4 1.1 1.3 1.1-.4 1.1-1.8 1.1 .3 1.1 0 1.1 1.3 .9-.3"/>
<path fill="none" stroke="#FF8000" stroke-width="6.5" stroke-linejoin="round" d="M1946.9 539.0l1 1.4 1-1.3 1-1.5 1 1.1 1.1 1.3 1-1.5 1-.3 1-1.1 1-1 1 .8 1 .1 1-.4 1 1.3 1-2.4 1 .6 1 .8 1 1.8 .9-.7 1 .1 1-2 1.1 .9 1 1.1 1 .7 1-2.3 1 0 1-.5 .9 0 1 1.4 1-.6 1 1.5 1-.7 1-1.5 1 .5 1 1.7 1 1.5 1 2.4 1-.3 1.1-.9 1 .7 1 .6 1 .7 .9-.4 1-1.5 1 .2 .9 1.1 1-.5 .9 2.1 .9-.1 .9 1.5 .8-.6 .9-.4 .8 1.6"/>
<path fill="none" stroke="#0000FF" stroke-width="7.5" stroke-linejoin="round" d="M322.3 1053.8l1 0 .9-1 1-.4 .9-.2 1-4.7 1 2.9 .9-1.3 1 .4 .9-.3 .9-.9 .9 .7 .9 .9 1-.8 .9-3.2 .9-2 .9 2.2 .9-3.2 1 1 .9-1.3 .9-1.6 .9-.1 1-1.6 1-.6 1 2.5 1-3.1 1-1.2 1 .6 1 1.2 .9-.1 .8 2"/>
<path fill="none" stroke="#00A800" stroke-width="6.5" stroke-linejoin="round" d="M412.6 993.0l.7-.1 .7 .2 .7-.4 .8-1.5 .8-2 .7-1.8 .8 .4 .8-.4 .8 .2 .8 .2 .8-3.4 .7 .1 .8-.1 .8-.9 .7 .2 .7-.3 .8-1.2 .7-2.3 .7-2.2 .8 .3 .7-3.3 .7 .7 .8-.4 .7-2.9 .7 1.5 .6-.3 .7-.5 .6-2.3 .6 .5 .6-1"/>
<path fill="none" stroke="#FF0000" stroke-width="6.5" stroke-linejoin="round" d="M487.2 945.0l.8-1.7 .7-1 .8 .7 .7-2.3 .9 1.9 .8-.7 .9-1.5 .9 .4 .9-.4 .9 .1 .9-3.7 .9 1.6 .9-.9 .9-2.3 .9 1.9 .9-2.2 .8 0 .9-1.7 .8 .6 .9-.1 .9-.9 .8-.8 .9-.5 .8 1.9 .9-3.5 .9 .6 .8 .1 .9-2.4 .8-.7 .7 .4 .8-1.8 .7 1.6 .7-1.9 .7-1 .7-2.2 .7-.7 .7-1 .7 .7 .8-2.2 .7 .6 .7-2.2 .7 .2 .7-.5 .8-1.8 .7 .7 .7-.9 .8-.3 .8-1.9 .8-.4 .8 1.1 .8-2.3 .8 .9 .9-.9 .8-2.3 .8 .5 .9-1.5 .8 .8 .9-1.8 .8-1.7 .8-.2 .8 .6 .8-1.2 .8 .6 .8-1.8"/>
<path fill="none" stroke="#588A14" stroke-width="6.5" stroke-linejoin="round" d="M704.8 816.2l.9-1.5 1.1 1.3 1-.5 1.1 .4 1-1.3 .9 .3 1-1.3 .9-.9 .9 .1 1 0 .9-1.1 .9 .5 .9-1.7 .9 1.3 .9-2 1-.5 .9 0 1 .3 1 1.2 1-.7 .9-1.2 1 1 1 .9 1-.5 1-.7 1-.4 1 .9 1-.7 1-.9 1-.3 1 1.2 1.1-2.6 1 2.1 1-1.5 1 1.6 1-.6 1-2.2"/>
<path fill="none" stroke="#B2BE00" stroke-width="6.5" stroke-linejoin="round" d="M1087.5 711.9l.8-.6 1.2 1.2 1.1-.8 1.1-1.2 1.1 1.3 1.1 1.6 1.1-1.1 1 1.8 1-1.2 1 0 1 2 1-2 1.1 .9 1 .2 .9 .2 1-2.1 .9 0 1 .1 1 0 1.1 .2 .8-.3 .9-.8"/>
<path fill="none" stroke="#FFC800" stroke-width="6.5" stroke-linejoin="round" d="M1478.7 648.6l1.1-.7 1 1.5 1-1.2 1-1.7 1.1-1.3 1.1 3.2 1-2.5 1.1-.9 1.1 1.5 1.1-.5 1.1 .9 1.1-.3 1.1 1.8 1.1 .4 1.1 .7 1.1-1.8 1 2.4 1 .3 1-2.4 1 .9 .9 .8 .9-.3 .9-.4 .8-.2 1.1 .1"/>
<path fill="none" stroke="#FF8000" stroke-width="6.5" stroke-linejoin="round" d="M1946.4 667.9l1.2 1.4 1.3-.4 .8 0 .8-.9 .8-1.2 .9 0 .8-1.3 .9 1.5 1 2.1 .9-1.2 1-1.7 1 2.4 1-2.2 1 1.4 1.1 1.2 1-1.9 1.1 3 1.1-2.5 1.1 2.9 1.1-1.3 1.1-.7 1.1 .4 1.1-.8 1.1 .8 1.2-1.3 1.1 1.6 1.1 1.6 1.1-1.9 1.2-.2 1.1-.4 1.1 3.4 1.1-3.2 1.1 2.2 1.1-.4 1.1-.9 1.1 2.1 1.1 .3 1-1.7 1-.8 1.1 0 1 .3 .9 .5 1 .3 .9 1.7 .9-1.1 .9-1.2 .9 2 .8-.8 .9 2.2 .7-1.5 .8 .3"/>
<path fill="none" stroke="#0000FF" stroke-width="7.5" stroke-linejoin="round" d="M322.0 1089.0l.6-.2 .7-.2 .7 .8 .9 1.2 .9-2.6 .9 2.5 1-3.7 1-1.1 1.1 2.5 1-3.6 1.1-2.7 1.1 3.4 1 .7 1-1.5 1-5.8 .9 2.2 1-.3 1 .3 1-.4 1-2.3 1 1.2 1-2.4 1 1.8 1 2.9 1-.5 1-2.5 .9-1.7 1 2.3 .8-1.2 .9-.9"/>
<path fill="none" stroke="#00A800" stroke-width="6.5" stroke-linejoin="round" d="M412.4 1061.6l.8 .2 .9 .8 .9-3.2 .9 .3 .9 1 .9-3.3 .9-1.2 .9 .5 .9-2.8 .9 2.2 .9-1.8 .9 .4 .9-2.6 .9-.8 1 2 .9-1.8 1.1 0 1-.7 1-1.8 1 .2 .9-.7 1-.6 .8-2.2 .9 2.1"/>
<path fill="none" stroke="#FF0000" stroke-width="6.5" stroke-linejoin="round" d="M488.0 1024.0l.6-2.1 .7 1.8 .7-.2 .7-.9 .8-.4 .8-3 .9 2.3 .9-2.5 .9 .6 .9 .8 1-1.5 .9 1.7 1-.4 1-1.4 1 .7 1.1-1.1 1 .2 1 .4 1.1-2.1 1 2.3 1-2 1.1-.6 1-1 1-1.5 .9 .8 1-.7 .9-.4 .9-1.2 1-.4 .9-.3 1-.2 .9 .2 1-.1 1-1.9 1-.4 1 .5 1-1.3 1 .1 1-.5 1-1 1-.9 1 1.5 1-.7 .9-.9 1-.2 .9-3.6 .9 .7 1 1.4 .8-1.9 .9 1.8 .9-.3 .8-1.5 .8-.9 .7-1.5 .8 .9"/>
<path fill="none" stroke="#588A14" stroke-width="6.5" stroke-linejoin="round" d="M704.8 908.4l.9-.3 .9 .3 1-1.3 .9-.7 .9-1.2 .9 .3 .9 1.2 .9-1 .9-1.2 .9 .3 .9-1.6 .9 .9 .9-1.8 .9 .4 .9-.1 .9-1 .9-1.3 .9-2.4 .9 1.4 .9-1.5 .8 1 .9 .7 .8-.8 .9-1.1 .8-.2 .9-.5 .8-.5 .9-.4 .8-.7 .9 2.2 .9-3.2 .9-.7 .9 .4 .9-.7 1 1.9 .9-1 1-2 1.1-1.4 1 1.6 .8-2.3"/>
<path fill="none" stroke="#B2BE00" stroke-width="6.5" stroke-linejoin="round" d="M1087.2 744.7l.8-.8 .8-2 .9 .8 .9 1.4 .9-.8 1 .5 .9 2 1-.7 1-.1 1 .2 .9 1.7 1 .2 .9 3 1-.4 .9 1.7 .9 .6 .8-2.3 .8 2.3 .9-.4 .9-.9 .8-.1 .7-1.1 .8-2 .7-.6 .8 .3 .7-1.3"/>
<path fill="none" stroke="#FFC800" stroke-width="6.5" stroke-linejoin="round" d="M1478.3 686.4l1 .4 .9-.5 1-.9 1.1-1.5 1.1 1.5 1.1 1.1 1-1.9 1.1 1.1 1.1-1 1 1.6 1.1-.4 1.1 1.2 1-.4 1.1 2.2 1.1-1.4 1 .3 1-.4 1 1.2 1-.6 1.1-.1 1 .6 1.1-1.8 1.1 1.2 1.2-1.7 1.2 1.2"/>
<path fill="none" stroke="#FF8000" stroke-width="6.5" stroke-linejoin="round" d="M1946.7 702.9l1.1 .1 1.1-1 .9 1.9 .9-.8 .9 1.2 .9-1.8 .9 1 1-1.2 .9 3.2 1-2.7 1 .7 1 .5 1-.6 1-1.2 1.1 .3 1 1 1 1.1 1.1 .9 1 0 1.1-.2 1.1 1.7 1-.2 1.1 .1 1.1-1.1 1.1-.2 1 1.6 1.1-.6 1.1-2.1 1.1 1.3 1-1.6 1.1 .2 1.1 1 1-.1 1.1-.6 1-.1 1.1 .6 1-.7 1-.7 1.1 3.1 1-1.7 1 1.7 .9-1.7 1 1.8 1-.4 .9-2.4 1 .2 .9 1.1 .9-1.8 .9-.9 .8 1.5 .9 1.7"/>
</g>
<line x1="281" y1="55" x2="392" y2="55" stroke="#64C4F0" stroke-width="6" stroke-linecap="round"/>
<line x1="281" y1="117" x2="392" y2="117" stroke="#0000A0" stroke-width="6" stroke-linecap="round"/>
<text x="404" y="71" class="leg">Dry vegetation</text>
<text x="406" y="133" class="leg" style="letter-spacing:0.3px">Wet vegetation</text>
<line x1="1987" y1="58.0" x2="2103" y2="58.0" stroke="#FFDDB0" stroke-width="6" stroke-dasharray="22 10 5 10"/>
<text x="2113" y="74.5" class="leg">Oven dried</text>
<line x1="1987" y1="120.0" x2="2103" y2="120.0" stroke="#FFA040" stroke-width="6" stroke-dasharray="22 10 5 10"/>
<text x="2113" y="136.5" class="leg">Dry soil</text>
<line x1="1987" y1="182.0" x2="2103" y2="182.0" stroke="#C85000" stroke-width="6" stroke-dasharray="22 10 5 10"/>
<text x="2113" y="198.5" class="leg">Moist soil</text>
<line x1="1987" y1="243.5" x2="2103" y2="243.5" stroke="#000000" stroke-width="6" stroke-dasharray="22 10 5 10"/>
<text x="2113" y="260.0" class="leg">Wet soil</text>
<rect x="272" y="32" width="2065" height="1086" fill="none" stroke="#000" stroke-width="6"/>
<line x1="242" y1="1118.00" x2="272" y2="1118.00" stroke="#000" stroke-width="6"/>
<line x1="257" y1="1054.12" x2="272" y2="1054.12" stroke="#000" stroke-width="6"/>
<line x1="242" y1="990.25" x2="272" y2="990.25" stroke="#000" stroke-width="6"/>
<line x1="257" y1="926.38" x2="272" y2="926.38" stroke="#000" stroke-width="6"/>
<line x1="242" y1="862.50" x2="272" y2="862.50" stroke="#000" stroke-width="6"/>
<line x1="257" y1="798.62" x2="272" y2="798.62" stroke="#000" stroke-width="6"/>
<line x1="242" y1="734.75" x2="272" y2="734.75" stroke="#000" stroke-width="6"/>
<line x1="257" y1="670.88" x2="272" y2="670.88" stroke="#000" stroke-width="6"/>
<line x1="242" y1="607.00" x2="272" y2="607.00" stroke="#000" stroke-width="6"/>
<line x1="257" y1="543.12" x2="272" y2="543.12" stroke="#000" stroke-width="6"/>
<line x1="242" y1="479.25" x2="272" y2="479.25" stroke="#000" stroke-width="6"/>
<line x1="257" y1="415.38" x2="272" y2="415.38" stroke="#000" stroke-width="6"/>
<line x1="242" y1="351.50" x2="272" y2="351.50" stroke="#000" stroke-width="6"/>
<line x1="257" y1="287.62" x2="272" y2="287.62" stroke="#000" stroke-width="6"/>
<line x1="242" y1="223.75" x2="272" y2="223.75" stroke="#000" stroke-width="6"/>
<line x1="257" y1="159.88" x2="272" y2="159.88" stroke="#000" stroke-width="6"/>
<line x1="242" y1="96.00" x2="272" y2="96.00" stroke="#000" stroke-width="6"/>
<line x1="257" y1="32.12" x2="272" y2="32.12" stroke="#000" stroke-width="6"/>
<line x1="272.00" y1="1118" x2="272.00" y2="1147" stroke="#000" stroke-width="6"/>
<line x1="370.35" y1="1118" x2="370.35" y2="1132" stroke="#000" stroke-width="6"/>
<line x1="468.70" y1="1118" x2="468.70" y2="1147" stroke="#000" stroke-width="6"/>
<line x1="567.05" y1="1118" x2="567.05" y2="1132" stroke="#000" stroke-width="6"/>
<line x1="665.40" y1="1118" x2="665.40" y2="1147" stroke="#000" stroke-width="6"/>
<line x1="763.75" y1="1118" x2="763.75" y2="1132" stroke="#000" stroke-width="6"/>
<line x1="862.10" y1="1118" x2="862.10" y2="1147" stroke="#000" stroke-width="6"/>
<line x1="960.45" y1="1118" x2="960.45" y2="1132" stroke="#000" stroke-width="6"/>
<line x1="1058.80" y1="1118" x2="1058.80" y2="1147" stroke="#000" stroke-width="6"/>
<line x1="1157.15" y1="1118" x2="1157.15" y2="1132" stroke="#000" stroke-width="6"/>
<line x1="1255.50" y1="1118" x2="1255.50" y2="1147" stroke="#000" stroke-width="6"/>
<line x1="1353.85" y1="1118" x2="1353.85" y2="1132" stroke="#000" stroke-width="6"/>
<line x1="1452.20" y1="1118" x2="1452.20" y2="1147" stroke="#000" stroke-width="6"/>
<line x1="1550.55" y1="1118" x2="1550.55" y2="1132" stroke="#000" stroke-width="6"/>
<line x1="1648.90" y1="1118" x2="1648.90" y2="1147" stroke="#000" stroke-width="6"/>
<line x1="1747.25" y1="1118" x2="1747.25" y2="1132" stroke="#000" stroke-width="6"/>
<line x1="1845.60" y1="1118" x2="1845.60" y2="1147" stroke="#000" stroke-width="6"/>
<line x1="1943.95" y1="1118" x2="1943.95" y2="1132" stroke="#000" stroke-width="6"/>
<line x1="2042.30" y1="1118" x2="2042.30" y2="1147" stroke="#000" stroke-width="6"/>
<line x1="2140.65" y1="1118" x2="2140.65" y2="1132" stroke="#000" stroke-width="6"/>
<line x1="2239.00" y1="1118" x2="2239.00" y2="1147" stroke="#000" stroke-width="6"/>
<line x1="2337.35" y1="1118" x2="2337.35" y2="1132" stroke="#000" stroke-width="6"/>
<text transform="translate(223,1137.0) scale(0.935,1)" text-anchor="end" class="tick">0.0</text>
<text transform="translate(223,1009.2) scale(0.935,1)" text-anchor="end" class="tick">0.1</text>
<text transform="translate(223,881.5) scale(0.935,1)" text-anchor="end" class="tick">0.2</text>
<text transform="translate(223,753.8) scale(0.935,1)" text-anchor="end" class="tick">0.3</text>
<text transform="translate(223,626.0) scale(0.935,1)" text-anchor="end" class="tick">0.4</text>
<text transform="translate(223,498.2) scale(0.935,1)" text-anchor="end" class="tick">0.5</text>
<text transform="translate(223,370.5) scale(0.935,1)" text-anchor="end" class="tick">0.6</text>
<text transform="translate(223,242.7) scale(0.935,1)" text-anchor="end" class="tick">0.7</text>
<text transform="translate(223,115.0) scale(0.935,1)" text-anchor="end" class="tick">0.8</text>
<text transform="translate(274.0,1188) scale(0.935,1)" text-anchor="middle" class="tick">0.4</text>
<text transform="translate(470.7,1188) scale(0.935,1)" text-anchor="middle" class="tick">0.6</text>
<text transform="translate(667.4,1188) scale(0.935,1)" text-anchor="middle" class="tick">0.8</text>
<text transform="translate(864.1,1188) scale(0.935,1)" text-anchor="middle" class="tick">1.0</text>
<text transform="translate(1060.8,1188) scale(0.935,1)" text-anchor="middle" class="tick">1.2</text>
<text transform="translate(1257.5,1188) scale(0.935,1)" text-anchor="middle" class="tick">1.4</text>
<text transform="translate(1454.2,1188) scale(0.935,1)" text-anchor="middle" class="tick">1.6</text>
<text transform="translate(1650.9,1188) scale(0.935,1)" text-anchor="middle" class="tick">1.8</text>
<text transform="translate(1847.6,1188) scale(0.935,1)" text-anchor="middle" class="tick">2.0</text>
<text transform="translate(2044.3,1188) scale(0.935,1)" text-anchor="middle" class="tick">2.2</text>
<text transform="translate(2241.0,1188) scale(0.935,1)" text-anchor="middle" class="tick">2.4</text>
<text transform="translate(91,554) rotate(-90) scale(1,0.955)" text-anchor="middle" class="title">Reflectance</text>
<text x="1305.3" y="1309.5" text-anchor="middle" class="title">Wavelength(um)</text>
<text x="414" y="1108" class="region">Visible</text>
<text x="740" y="1108" class="region">NIR</text>
<text x="1541" y="1107" class="region">SWIR</text>
<text x="1419" y="858" class="region" style="font-size:36.2px">Water absorption</text>
<circle cx="328.8" cy="949.5" r="21.6" fill="none" stroke="#000" stroke-width="3.8"/>
<text transform="translate(328.8,963.8) scale(0.72,1)" text-anchor="middle" class="cn">1</text>
<circle cx="404.0" cy="829.3" r="21.6" fill="none" stroke="#000" stroke-width="3.8"/>
<text transform="translate(404.0,843.6) scale(0.72,1)" text-anchor="middle" class="cn">2</text>
<circle cx="495.5" cy="721.1" r="21.6" fill="none" stroke="#000" stroke-width="3.8"/>
<text transform="translate(495.5,735.4) scale(0.72,1)" text-anchor="middle" class="cn">3</text>
<circle cx="723.5" cy="245.2" r="21.6" fill="none" stroke="#000" stroke-width="3.8"/>
<text transform="translate(723.5,259.5) scale(0.72,1)" text-anchor="middle" class="cn">4</text>
<circle cx="1103.5" cy="184.8" r="21.6" fill="none" stroke="#000" stroke-width="3.8"/>
<text transform="translate(1103.5,199.1) scale(0.72,1)" text-anchor="middle" class="cn">5</text>
<circle cx="1497.6" cy="303.5" r="21.6" fill="none" stroke="#000" stroke-width="3.8"/>
<text transform="translate(1497.6,317.8) scale(0.72,1)" text-anchor="middle" class="cn">6</text>
<circle cx="1959.2" cy="420.1" r="21.6" fill="none" stroke="#000" stroke-width="3.8"/>
<text transform="translate(1959.2,434.4) scale(0.72,1)" text-anchor="middle" class="cn">7</text>
<line x1="1411.7" y1="868.8" x2="1368" y2="900" stroke="#000" stroke-width="1.4"/>
<polygon points="1339.1,924.4 1364.2,892.3 1376,908.2" fill="#000"/>
<line x1="1662.4" y1="873.9" x2="1708" y2="949" stroke="#000" stroke-width="1.4"/>
<polygon points="1729.4,984.7 1700.5,955.4 1717,944" fill="#000"/>
</svg>
</body></html>
